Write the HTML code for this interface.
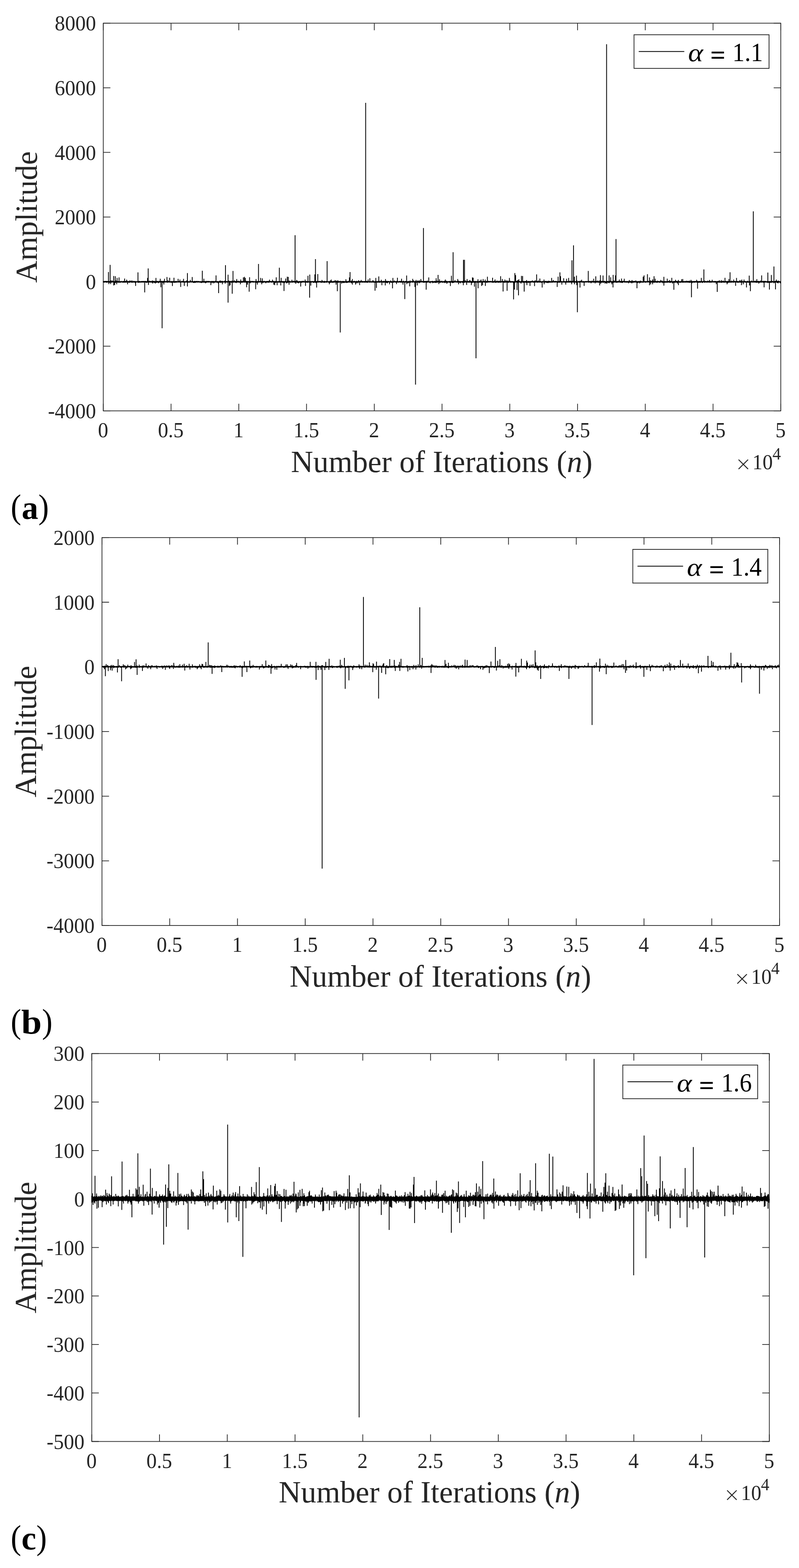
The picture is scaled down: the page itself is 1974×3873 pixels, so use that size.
<!DOCTYPE html>
<html lang="en">
<head>
<meta charset="utf-8">
<title>Figure: alpha-stable noise amplitude versus number of iterations</title>
<style>
html,body{margin:0;padding:0;background:#fff;}
body{width:1974px;height:3873px;}
svg{display:block;}
text{font-family:"Liberation Serif","DejaVu Serif",serif;fill:#262626;}
.tick{font-size:50.4px;}
.lab{font-size:76px;}
.leg{font-size:62.5px;fill:#000;}
.sub{font-family:"Liberation Serif","DejaVu Serif",serif;font-weight:bold;font-size:82px;fill:#000;}
.par{font-weight:normal;font-size:84.7px;}
.mul{font-family:"DejaVu Sans Light","DejaVu Sans",sans-serif;font-weight:200;font-size:48.8px;}
.ax{stroke:#262626;stroke-width:1.8;fill:none;}
.sig{stroke:#000;stroke-width:2;fill:none;stroke-linejoin:round;stroke-linecap:butt;}
</style>
</head>
<body>
<svg width="1974" height="3873" viewBox="0 0 1974 3873">
<rect x="0" y="0" width="1974" height="3873" fill="#fff"/>
<g id="plot-a">
<rect class="ax" x="255.2" y="57.3" width="1673.8" height="957.5"/>
<path class="ax" d="M255.2 1014.8v-17.5M255.2 57.3v17.5M422.58 1014.8v-17.5M422.58 57.3v17.5M589.96 1014.8v-17.5M589.96 57.3v17.5M757.34 1014.8v-17.5M757.34 57.3v17.5M924.72 1014.8v-17.5M924.72 57.3v17.5M1092.1 1014.8v-17.5M1092.1 57.3v17.5M1259.48 1014.8v-17.5M1259.48 57.3v17.5M1426.86 1014.8v-17.5M1426.86 57.3v17.5M1594.24 1014.8v-17.5M1594.24 57.3v17.5M1761.62 1014.8v-17.5M1761.62 57.3v17.5M1929 1014.8v-17.5M1929 57.3v17.5M255.2 1014.8h17.5M1929 1014.8h-17.5M255.2 855.22h17.5M1929 855.22h-17.5M255.2 695.63h17.5M1929 695.63h-17.5M255.2 536.05h17.5M1929 536.05h-17.5M255.2 376.47h17.5M1929 376.47h-17.5M255.2 216.88h17.5M1929 216.88h-17.5M255.2 57.3h17.5M1929 57.3h-17.5"/>
<path class="sig" d="M255.2 696.1L255.2 695.14L255.2 696.77L256.2 695.19L256.2 696.85L257.2 695.39L257.2 696.97L258.2 695.27L258.2 697.09L259.2 694.79L259.2 696.52L260.2 695.42L260.2 696.59L261.2 695.15L261.2 696.57L262.2 694.76L262.2 697.03L263.2 695.11L263.2 697.46L264.2 695.04L264.2 697.03L265.2 695.49L265.2 696.68L266.2 695.29L266.2 696.65L267.2 695.38L267.2 696.97L268.2 694.59L268.2 696.55L269.2 695.27L269.2 696.96L270.2 695.36L270.2 696.73L271.2 695.45L271.2 697.65L272.2 695.48L272.2 697.3L273.2 695.04L273.2 697L274.2 693.58L274.2 696.92L275.2 695.5L275.2 697.2L276.2 695.2L276.2 696.78L277.2 693.37L277.2 696.74L278.2 695.21L278.2 696.68L279.2 695.12L279.2 696.62L280.2 695.41L280.2 696.72L281.2 695.39L281.2 696.54L282.2 695.7L282.2 697.83L283.2 695.27L283.2 696.77L284.2 695.3L284.2 697.52L285.2 695.14L285.2 698.34L286.2 693.53L286.2 696.98L287.2 694.98L287.2 696.69L288.2 694.55L288.2 698.43L289.2 695.48L289.2 696.94L290.2 694.7L290.2 697.1L291.2 695.5L291.2 697.07L292.2 695.29L292.2 697.25L293.2 695.65L293.2 697.24L294.2 695.73L294.2 697.13L295.2 695.57L295.2 696.75L296.2 695.67L296.2 697.4L297.2 695.59L297.2 696.94L298.2 695.63L298.2 696.94L299.2 694.75L299.2 696.95L300.2 695.72L300.2 696.61L301.2 695.47L301.2 696.55L302.2 695.29L302.2 696.56L303.2 695.36L303.2 697.46L304.2 695.66L304.2 696.47L305.2 694.73L305.2 697.35L306.2 695.09L306.2 696.87L307.2 695.68L307.2 697.26L308.2 695.28L308.2 697.33L309.2 694.87L309.2 696.97L310.2 694.87L310.2 696.68L311.2 695.14L311.2 697.24L312.2 694.99L312.2 697.32L313.2 695.6L313.2 696.6L314.2 694.66L314.2 696.81L315.2 695.59L315.2 697.82L316.2 695.24L316.2 696.72L317.2 695.38L317.2 697.27L318.2 695.56L318.2 696.76L319.2 695.04L319.2 697.19L320.2 694.91L320.2 697.87L321.2 693.36L321.2 696.69L322.2 695.32L322.2 696.5L323.2 695.74L323.2 696.81L324.2 694.51L324.2 696.49L325.2 694.75L325.2 697.38L326.2 693.49L326.2 697.02L327.2 695.25L327.2 697.32L328.2 695.69L328.2 696.59L329.2 695.45L329.2 697.27L330.2 694.56L330.2 696.96L331.2 695.45L331.2 696.61L332.2 695.52L332.2 696.58L333.2 695.03L333.2 697.39L334.2 695L334.2 698.76L335.2 695.57L335.2 696.65L336.2 695.66L336.2 696.55L337.2 695.55L337.2 696.81L338.2 695.46L338.2 696.76L339.2 695.63L339.2 696.49L340.2 695.44L340.2 696.87L341.2 695.27L341.2 697.47L342.2 695.38L342.2 697.45L343.2 694.82L343.2 696.57L344.2 695.08L344.2 697.67L345.2 695.15L345.2 696.6L346.2 695.41L346.2 696.68L347.2 695.56L347.2 696.88L348.2 695.73L348.2 697.18L349.2 695.23L349.2 696.94L350.2 695.39L350.2 696.66L351.2 694.82L351.2 696.49L352.2 695.39L352.2 696.8L353.2 695.33L353.2 697.29L354.2 695.42L354.2 696.89L355.2 694.85L355.2 696.69L356.2 695.19L356.2 696.62L357.2 695.69L357.2 697.08L358.2 695.13L358.2 696.63L359.2 694.74L359.2 696.81L360.2 695.39L360.2 696.52L361.2 695.68L361.2 697.66L362.2 695.19L362.2 697.53L363.2 695.65L363.2 696.63L364.2 695.19L364.2 697.37L365.2 695.52L365.2 696.67L366.2 695.68L366.2 697.32L367.2 695.13L367.2 697.14L368.2 695L368.2 696.86L369.2 694.22L369.2 696.82L370.2 695.12L370.2 696.89L371.2 694.84L371.2 696.47L372.2 695.41L372.2 697.04L373.2 695.42L373.2 696.95L374.2 695.36L374.2 696.74L375.2 695.23L375.2 697.25L376.2 693.59L376.2 697.2L377.2 694.46L377.2 699.46L378.2 695.07L378.2 697.1L379.2 694.73L379.2 696.48L380.2 695.7L380.2 696.52L381.2 694.82L381.2 698.53L382.2 695.11L382.2 697.26L383.2 695.69L383.2 696.56L384.2 694.99L384.2 699.4L385.2 695.29L385.2 696.66L386.2 695.37L386.2 697.18L387.2 694.72L387.2 697.49L388.2 695.25L388.2 696.7L389.2 694.89L389.2 696.95L390.2 695.24L390.2 696.45L391.2 695.45L391.2 698.76L392.2 695.61L392.2 697.31L393.2 694.5L393.2 697.14L394.2 695.43L394.2 696.49L395.2 695.58L395.2 696.88L396.2 695.15L396.2 696.8L397.2 695.31L397.2 696.9L398.2 694.59L398.2 696.75L399.2 694.84L399.2 696.49L400.2 695.35L400.2 697.09L401.2 695.03L401.2 697.27L402.2 695.73L402.2 697.36L403.2 694.85L403.2 697.7L404.2 694.56L404.2 697.09L405.2 695.69L405.2 697.07L406.2 695.58L406.2 696.63L407.2 694.65L407.2 696.72L408.2 695.68L408.2 696.72L409.2 695.68L409.2 696.57L410.2 695.06L410.2 696.82L411.2 695.64L411.2 696.81L412.2 695.05L412.2 696.64L413.2 695.6L413.2 697.06L414.2 695.69L414.2 697.42L415.2 693.14L415.2 696.49L416.2 694.95L416.2 697.01L417.2 695.48L417.2 696.51L418.2 695.48L418.2 696.74L419.2 695.65L419.2 697.09L420.2 695.69L420.2 696.87L421.2 695.51L421.2 696.9L422.2 695.33L422.2 696.85L423.2 695.25L423.2 697.89L424.2 695.66L424.2 696.89L425.2 694.88L425.2 696.79L426.2 695.57L426.2 698L427.2 695.64L427.2 697.19L428.2 695.25L428.2 696.74L429.2 694.74L429.2 696.64L430.2 695.58L430.2 697.91L431.2 695.61L431.2 696.98L432.2 695.2L432.2 696.68L433.2 695.38L433.2 697.64L434.2 695.32L434.2 697.04L435.2 694.9L435.2 696.71L436.2 695.23L436.2 697.22L437.2 695.61L437.2 696.73L438.2 695.47L438.2 697.01L439.2 695.57L439.2 696.51L440.2 694.87L440.2 696.58L441.2 695.55L441.2 696.98L442.2 695.03L442.2 696.81L443.2 695.3L443.2 696.64L444.2 695.09L444.2 696.67L445.2 695.51L445.2 696.92L446.2 695.56L446.2 697.05L447.2 695.44L447.2 696.61L448.2 695.3L448.2 696.81L449.2 695.12L449.2 696.83L450.2 695.17L450.2 696.86L451.2 695.15L451.2 696.47L452.2 694.52L452.2 697.02L453.2 695.19L453.2 697.07L454.2 695.56L454.2 696.79L455.2 695.63L455.2 696.59L456.2 695.7L456.2 696.83L457.2 695.2L457.2 696.94L458.2 695.73L458.2 697.15L459.2 695.66L459.2 696.58L460.2 695.55L460.2 696.84L461.2 693.56L461.2 696.64L462.2 695.66L462.2 697.26L463.2 694.74L463.2 697.86L464.2 695.68L464.2 697.36L465.2 695.34L465.2 696.7L466.2 695.5L466.2 696.78L467.2 695.69L467.2 697.41L468.2 695.72L468.2 696.89L469.2 695.27L469.2 696.85L470.2 692.21L470.2 696.53L471.2 695.57L471.2 696.7L472.2 695.63L472.2 696.68L473.2 695.25L473.2 696.85L474.2 695.45L474.2 696.58L475.2 695.2L475.2 696.68L476.2 695.21L476.2 697.08L477.2 695.3L477.2 697.17L478.2 695.49L478.2 697.72L479.2 695.51L479.2 698.14L480.2 694.94L480.2 696.89L481.2 694.7L481.2 696.95L482.2 695.66L482.2 698.12L483.2 695.1L483.2 696.52L484.2 695.63L484.2 697.09L485.2 694.96L485.2 696.53L486.2 695.26L486.2 697.07L487.2 694.6L487.2 696.49L488.2 695.71L488.2 696.81L489.2 695.59L489.2 697.37L490.2 695.09L490.2 696.57L491.2 694.76L491.2 696.56L492.2 695.74L492.2 696.96L493.2 695.46L493.2 696.64L494.2 695.69L494.2 697.5L495.2 695.48L495.2 697.04L496.2 695.3L496.2 696.59L497.2 695.5L497.2 698.3L498.2 695.46L498.2 696.94L499.2 695.69L499.2 697.76L500.2 694.7L500.2 696.69L501.2 695.55L501.2 696.83L502.2 695.37L502.2 697.47L503.2 695.25L503.2 696.54L504.2 695.11L504.2 696.95L505.2 695.23L505.2 697.43L506.2 695.68L506.2 697.4L507.2 695.4L507.2 696.93L508.2 694.97L508.2 698.9L509.2 695.61L509.2 697.24L510.2 695.24L510.2 697.25L511.2 694.55L511.2 696.57L512.2 695.4L512.2 697.01L513.2 695.53L513.2 696.68L514.2 694.81L514.2 696.6L515.2 695.56L515.2 697.05L516.2 694.73L516.2 696.88L517.2 695.63L517.2 696.55L518.2 695.36L518.2 696.65L519.2 695.29L519.2 696.74L520.2 695.61L520.2 696.84L521.2 695.55L521.2 697.64L522.2 694.88L522.2 696.63L523.2 695.62L523.2 696.58L524.2 695.15L524.2 698.77L525.2 695.44L525.2 696.47L526.2 694.88L526.2 696.57L527.2 694.95L527.2 697.26L528.2 695.61L528.2 699.19L529.2 695.5L529.2 696.64L530.2 695.51L530.2 696.77L531.2 694.62L531.2 697.25L532.2 694.89L532.2 696.49L533.2 695.72L533.2 696.63L534.2 695.59L534.2 697.18L535.2 695.34L535.2 697.11L536.2 695.49L536.2 696.61L537.2 695.27L537.2 697.38L538.2 695.08L538.2 697.64L539.2 695.72L539.2 699.42L540.2 695.59L540.2 696.92L541.2 695.62L541.2 696.76L542.2 695.4L542.2 697.43L543.2 693.69L543.2 696.56L544.2 695.26L544.2 697.05L545.2 693.96L545.2 698.01L546.2 695.61L546.2 697.24L547.2 695.22L547.2 696.65L548.2 694.78L548.2 696.95L549.2 694.58L549.2 697.06L550.2 695.74L550.2 696.88L551.2 695.42L551.2 696.94L552.2 695.56L552.2 696.79L553.2 695.71L553.2 696.46L554.2 695.54L554.2 696.59L555.2 694.14L555.2 696.77L556.2 695.31L556.2 699.71L557.2 694.83L557.2 696.9L558.2 695.38L558.2 696.56L559.2 695.34L559.2 696.95L560.2 695.29L560.2 696.61L561.2 695.39L561.2 696.91L562.2 695.51L562.2 696.8L563.2 695.1L563.2 696.57L564.2 694.99L564.2 696.83L565.2 693.68L565.2 696.47L566.2 694.88L566.2 696.62L567.2 695.11L567.2 696.84L568.2 694.93L568.2 696.85L569.2 695.51L569.2 696.71L570.2 694.97L570.2 696.83L571.2 695.51L571.2 696.61L572.2 695.55L572.2 697.81L573.2 694.03L573.2 696.49L574.2 695.64L574.2 696.5L575.2 695.42L575.2 696.89L576.2 695.74L576.2 696.47L577.2 695.04L577.2 697.57L578.2 694.57L578.2 696.83L579.2 693.2L579.2 696.5L580.2 694.87L580.2 696.97L581.2 695.73L581.2 696.95L582.2 695.11L582.2 696.94L583.2 694.72L583.2 698.59L584.2 695.72L584.2 697.19L585.2 695.25L585.2 697.02L586.2 694.91L586.2 696.72L587.2 694.99L587.2 696.99L588.2 695.1L588.2 696.75L589.2 695.07L589.2 696.88L590.2 694.39L590.2 696.92L591.2 695.52L591.2 697.12L592.2 695.49L592.2 697.34L593.2 695.29L593.2 697.03L594.2 694.92L594.2 696.7L595.2 695.4L595.2 697.09L596.2 695.11L596.2 696.98L597.2 695.58L597.2 697.68L598.2 695.06L598.2 697.62L599.2 695.18L599.2 696.48L600.2 695.19L600.2 696.95L601.2 694.44L601.2 696.53L602.2 695.17L602.2 697.07L603.2 695.29L603.2 696.84L604.2 695.65L604.2 697.01L605.2 694.53L605.2 697.07L606.2 695.59L606.2 696.81L607.2 694.3L607.2 696.66L608.2 695.38L608.2 697.46L609.2 695.06L609.2 697.21L610.2 695.01L610.2 696.82L611.2 695.58L611.2 696.58L612.2 695.11L612.2 697.25L613.2 695.29L613.2 696.85L614.2 695.67L614.2 696.79L615.2 695.23L615.2 697.03L616.2 695.74L616.2 697.08L617.2 695.65L617.2 696.76L618.2 695.67L618.2 699.09L619.2 694.53L619.2 696.94L620.2 695.46L620.2 696.81L621.2 695.56L621.2 696.77L622.2 694.77L622.2 696.52L623.2 695.49L623.2 696.72L624.2 694.8L624.2 696.77L625.2 695.6L625.2 696.6L626.2 694.99L626.2 697.14L627.2 695.68L627.2 697.03L628.2 695.66L628.2 696.54L629.2 695.7L629.2 696.7L630.2 695.07L630.2 696.76L631.2 695.66L631.2 696.96L632.2 695.73L632.2 696.66L633.2 694.46L633.2 697.59L634.2 695.58L634.2 697.69L635.2 695.19L635.2 696.82L636.2 695.29L636.2 696.82L637.2 695.04L637.2 696.68L638.2 694.71L638.2 697.47L639.2 695.71L639.2 696.68L640.2 695.2L640.2 696.57L641.2 695.64L641.2 696.81L642.2 695.08L642.2 696.88L643.2 695L643.2 696.69L644.2 695.3L644.2 696.58L645.2 695.17L645.2 696.9L646.2 695.49L646.2 697.02L647.2 694.8L647.2 696.46L648.2 695.65L648.2 697.92L649.2 694.9L649.2 697.2L650.2 695.69L650.2 697.51L651.2 695.62L651.2 697.34L652.2 694.56L652.2 696.64L653.2 695.34L653.2 696.68L654.2 695.41L654.2 696.53L655.2 695.41L655.2 697.03L656.2 695.27L656.2 696.45L657.2 695.65L657.2 697.53L658.2 695.15L658.2 696.97L659.2 695.05L659.2 696.52L660.2 695.58L660.2 696.66L661.2 694.83L661.2 697.32L662.2 695.2L662.2 696.46L663.2 694.92L663.2 697.38L664.2 695.17L664.2 697.04L665.2 694.48L665.2 696.72L666.2 694.91L666.2 697.04L667.2 695.45L667.2 696.46L668.2 695.25L668.2 696.46L669.2 694.77L669.2 696.48L670.2 695.59L670.2 696.91L671.2 695.66L671.2 697.04L672.2 695.14L672.2 696.98L673.2 695.44L673.2 696.54L674.2 695.42L674.2 696.59L675.2 694.82L675.2 696.56L676.2 694.88L676.2 696.93L677.2 695.52L677.2 696.94L678.2 695.57L678.2 697.03L679.2 695.16L679.2 697.39L680.2 695.4L680.2 696.88L681.2 695.66L681.2 697.96L682.2 694.74L682.2 697.19L683.2 695.38L683.2 696.58L684.2 695.64L684.2 696.59L685.2 695.24L685.2 696.61L686.2 695.34L686.2 696.8L687.2 695.73L687.2 697.06L688.2 695.58L688.2 696.91L689.2 695.26L689.2 697.33L690.2 694.9L690.2 697.01L691.2 695.42L691.2 696.99L692.2 695.2L692.2 696.76L693.2 695.11L693.2 696.74L694.2 694.94L694.2 696.75L695.2 694.86L695.2 696.87L696.2 695.41L696.2 697.11L697.2 695.17L697.2 696.8L698.2 695.23L698.2 697.55L699.2 695.65L699.2 697.83L700.2 694.98L700.2 696.97L701.2 695.66L701.2 697.05L702.2 695.72L702.2 699.21L703.2 695.64L703.2 696.9L704.2 694.53L704.2 697.01L705.2 695.6L705.2 696.7L706.2 695.3L706.2 696.84L707.2 695.57L707.2 697.27L708.2 695.55L708.2 699.22L709.2 695.17L709.2 697L710.2 695.33L710.2 697.78L711.2 695.3L711.2 696.71L712.2 695.01L712.2 697.36L713.2 695.65L713.2 697.38L714.2 694.04L714.2 696.5L715.2 694.71L715.2 696.6L716.2 695.12L716.2 696.74L717.2 695.63L717.2 697.49L718.2 695.61L718.2 696.7L719.2 695.65L719.2 696.58L720.2 695.61L720.2 697.05L721.2 695.64L721.2 696.7L722.2 695.29L722.2 697.35L723.2 695.21L723.2 696.93L724.2 694.9L724.2 696.54L725.2 694.45L725.2 696.82L726.2 695.28L726.2 696.55L727.2 694.81L727.2 696.91L728.2 695.3L728.2 697.36L729.2 695.45L729.2 697.41L730.2 695L730.2 696.56L731.2 694.74L731.2 696.89L732.2 695.54L732.2 696.54L733.2 694.57L733.2 697.23L734.2 694.02L734.2 697.51L735.2 695.35L735.2 696.81L736.2 695.75L736.2 698.23L737.2 695.26L737.2 696.71L738.2 695.6L738.2 698.89L739.2 695.42L739.2 697.36L740.2 695.08L740.2 696.5L741.2 695.4L741.2 696.99L742.2 695.1L742.2 696.55L743.2 695.56L743.2 696.54L744.2 695.74L744.2 697.83L745.2 694.79L745.2 697.3L746.2 695.63L746.2 696.92L747.2 694.83L747.2 697.09L748.2 695.37L748.2 696.55L749.2 694.5L749.2 696.48L750.2 695.18L750.2 696.92L751.2 695.53L751.2 696.76L752.2 695.66L752.2 696.64L753.2 695.16L753.2 697.02L754.2 695.46L754.2 696.76L755.2 695.21L755.2 697.41L756.2 695.38L756.2 697.03L757.2 695.07L757.2 696.98L758.2 695.23L758.2 696.57L759.2 695.74L759.2 697.66L760.2 695.29L760.2 696.91L761.2 695.08L761.2 697.31L762.2 695.33L762.2 696.69L763.2 695.63L763.2 696.9L764.2 695.72L764.2 696.52L765.2 695.08L765.2 696.64L766.2 694.86L766.2 696.71L767.2 695.23L767.2 697.03L768.2 695.72L768.2 696.56L769.2 694.85L769.2 697.05L770.2 695.74L770.2 696.47L771.2 695.74L771.2 696.54L772.2 694.8L772.2 696.53L773.2 695.6L773.2 696.9L774.2 695.43L774.2 697.69L775.2 695.64L775.2 696.72L776.2 695.06L776.2 697.8L777.2 695.39L777.2 696.63L778.2 695.53L778.2 696.88L779.2 695.01L779.2 696.68L780.2 695.02L780.2 698.49L781.2 695.34L781.2 696.64L782.2 695.21L782.2 697.08L783.2 694.89L783.2 697.76L784.2 695.47L784.2 696.59L785.2 695.19L785.2 696.71L786.2 695.69L786.2 697.11L787.2 695.04L787.2 696.83L788.2 695.17L788.2 696.86L789.2 695.52L789.2 696.47L790.2 695.15L790.2 696.74L791.2 694.92L791.2 696.54L792.2 695.19L792.2 696.69L793.2 695.5L793.2 697.83L794.2 695.74L794.2 696.94L795.2 695.46L795.2 696.78L796.2 694.52L796.2 697.39L797.2 695.07L797.2 696.57L798.2 695.65L798.2 697.03L799.2 695.21L799.2 696.56L800.2 695.71L800.2 697.7L801.2 695.25L801.2 696.83L802.2 694.45L802.2 697.74L803.2 695.66L803.2 696.67L804.2 695.53L804.2 696.57L805.2 695.66L805.2 696.91L806.2 695.04L806.2 697.5L807.2 695.62L807.2 696.55L808.2 695.58L808.2 696.83L809.2 695.49L809.2 696.52L810.2 695.55L810.2 696.78L811.2 695.41L811.2 696.69L812.2 695.7L812.2 697.32L813.2 695.49L813.2 698.64L814.2 695.44L814.2 696.6L815.2 694.73L815.2 697.72L816.2 693.39L816.2 696.7L817.2 695L817.2 697.69L818.2 695.59L818.2 697.33L819.2 695.03L819.2 696.75L820.2 695.41L820.2 697.13L821.2 695.42L821.2 697.83L822.2 695.7L822.2 696.89L823.2 695.69L823.2 697.29L824.2 694.57L824.2 697.22L825.2 695.17L825.2 697.28L826.2 695.45L826.2 696.76L827.2 695.74L827.2 696.89L828.2 695.19L828.2 696.65L829.2 695.71L829.2 697.28L830.2 694.04L830.2 697.04L831.2 695.16L831.2 697.53L832.2 694.41L832.2 696.67L833.2 695.41L833.2 696.67L834.2 695.27L834.2 697.29L835.2 695.11L835.2 697.39L836.2 695.48L836.2 697.2L837.2 695.25L837.2 696.98L838.2 695.2L838.2 696.81L839.2 695.27L839.2 696.75L840.2 695.53L840.2 696.88L841.2 694.39L841.2 696.69L842.2 695.74L842.2 696.84L843.2 695.53L843.2 696.56L844.2 695.24L844.2 699.9L845.2 694.75L845.2 696.9L846.2 695.58L846.2 696.63L847.2 695.21L847.2 697.93L848.2 694.92L848.2 697.53L849.2 694.98L849.2 696.46L850.2 695.37L850.2 696.65L851.2 695.25L851.2 697.22L852.2 695.52L852.2 696.47L853.2 695.6L853.2 697.36L854.2 695.31L854.2 697.71L855.2 694.82L855.2 697.52L856.2 694.78L856.2 696.92L857.2 695.73L857.2 698.29L858.2 695.56L858.2 696.54L859.2 695.33L859.2 697.1L860.2 694.82L860.2 697.14L861.2 694.8L861.2 696.83L862.2 694.63L862.2 697.02L863.2 695.74L863.2 697.07L864.2 695L864.2 696.96L865.2 695.66L865.2 696.73L866.2 695.51L866.2 696.47L867.2 695.67L867.2 697.5L868.2 693.84L868.2 698.76L869.2 695.48L869.2 697.22L870.2 695.59L870.2 697.48L871.2 695.72L871.2 696.7L872.2 695.27L872.2 696.93L873.2 695.5L873.2 696.97L874.2 695.27L874.2 697.5L875.2 694.48L875.2 696.81L876.2 695.71L876.2 697.09L877.2 695.09L877.2 696.46L878.2 695.27L878.2 696.46L879.2 695.47L879.2 696.49L880.2 695.44L880.2 699.16L881.2 694.45L881.2 696.62L882.2 695.2L882.2 696.88L883.2 695.61L883.2 696.76L884.2 695.51L884.2 698.97L885.2 694.64L885.2 696.72L886.2 693.07L886.2 696.55L887.2 695.65L887.2 696.85L888.2 695.09L888.2 698.11L889.2 695.5L889.2 696.71L890.2 695.27L890.2 696.72L891.2 694.71L891.2 696.91L892.2 694.75L892.2 697.17L893.2 695.05L893.2 696.54L894.2 695.49L894.2 696.72L895.2 695.17L895.2 696.83L896.2 695.29L896.2 697.46L897.2 694.96L897.2 696.67L898.2 695.63L898.2 696.73L899.2 695.72L899.2 696.78L900.2 694.98L900.2 697.36L901.2 695.65L901.2 696.98L902.2 695.4L902.2 696.88L903.2 693.31L903.2 697.01L904.2 695.43L904.2 697.02L905.2 695.52L905.2 696.55L906.2 694.57L906.2 697.26L907.2 695.48L907.2 697.87L908.2 695.56L908.2 696.57L909.2 694.81L909.2 696.94L910.2 695.51L910.2 696.55L911.2 695.44L911.2 696.62L912.2 695.68L912.2 696.91L913.2 695.68L913.2 697.04L914.2 695.38L914.2 697.01L915.2 695.64L915.2 696.66L916.2 695.6L916.2 696.98L917.2 695.44L917.2 696.54L918.2 695.55L918.2 697.15L919.2 695.38L919.2 696.53L920.2 695.7L920.2 697.11L921.2 693.05L921.2 696.56L922.2 693.94L922.2 697.2L923.2 695.39L923.2 696.97L924.2 695.43L924.2 697.22L925.2 695.7L925.2 697.11L926.2 695.54L926.2 697.27L927.2 695.32L927.2 696.98L928.2 694.96L928.2 697.58L929.2 695.03L929.2 696.67L930.2 695.33L930.2 696.61L931.2 695.37L931.2 696.61L932.2 695.39L932.2 696.83L933.2 695.43L933.2 697.62L934.2 695.65L934.2 697.12L935.2 694.88L935.2 696.95L936.2 692.96L936.2 696.69L937.2 695.16L937.2 697.21L938.2 695.28L938.2 697.5L939.2 695.57L939.2 697.15L940.2 695.11L940.2 696.83L941.2 695.64L941.2 696.71L942.2 695.51L942.2 696.85L943.2 695.11L943.2 696.84L944.2 695.33L944.2 697.37L945.2 695.2L945.2 696.87L946.2 695.38L946.2 696.77L947.2 695.55L947.2 697.27L948.2 694.61L948.2 697.8L949.2 695.11L949.2 696.66L950.2 695.7L950.2 696.46L951.2 694.85L951.2 697.01L952.2 695.39L952.2 697.2L953.2 694.89L953.2 697.48L954.2 694.71L954.2 697.01L955.2 694.82L955.2 698.32L956.2 694.65L956.2 696.7L957.2 695.55L957.2 698.72L958.2 695.12L958.2 696.89L959.2 695.06L959.2 696.48L960.2 695.1L960.2 696.71L961.2 695.33L961.2 696.49L962.2 695.53L962.2 696.73L963.2 695.58L963.2 696.73L964.2 694.97L964.2 697.15L965.2 693.44L965.2 697.11L966.2 695.66L966.2 696.98L967.2 695.18L967.2 697.82L968.2 695.49L968.2 696.64L969.2 695.61L969.2 696.79L970.2 695.34L970.2 696.79L971.2 695.45L971.2 696.49L972.2 695.44L972.2 697.45L973.2 695.65L973.2 696.56L974.2 693.44L974.2 696.8L975.2 695.55L975.2 696.6L976.2 695.67L976.2 696.61L977.2 695.14L977.2 697.31L978.2 695.65L978.2 697.03L979.2 695.47L979.2 697.28L980.2 694.68L980.2 697.24L981.2 695.21L981.2 697.26L982.2 694.76L982.2 696.81L983.2 695.49L983.2 696.48L984.2 695.69L984.2 696.86L985.2 695.59L985.2 697.4L986.2 694.98L986.2 696.57L987.2 694.87L987.2 696.62L988.2 695.35L988.2 696.51L989.2 695.1L989.2 697.25L990.2 694.99L990.2 697.03L991.2 694.63L991.2 697.26L992.2 693.74L992.2 697.27L993.2 695.39L993.2 696.55L994.2 695.41L994.2 696.76L995.2 695.69L995.2 698.7L996.2 694.4L996.2 696.86L997.2 694.5L997.2 696.78L998.2 695.67L998.2 696.95L999.2 695.61L999.2 696.65L1000.2 695.41L1000.2 697.2L1001.2 695.6L1001.2 696.85L1002.2 694.79L1002.2 696.78L1003.2 695.7L1003.2 697.11L1004.2 695.26L1004.2 696.7L1005.2 695.16L1005.2 696.65L1006.2 695.71L1006.2 696.75L1007.2 695.66L1007.2 697.46L1008.2 695.2L1008.2 698.97L1009.2 695.25L1009.2 696.77L1010.2 695.34L1010.2 696.94L1011.2 695.55L1011.2 697.26L1012.2 695.47L1012.2 697.38L1013.2 693.53L1013.2 697.08L1014.2 695.57L1014.2 697.62L1015.2 695.53L1015.2 696.68L1016.2 695.39L1016.2 696.46L1017.2 695.46L1017.2 696.49L1018.2 694.5L1018.2 697.01L1019.2 695.02L1019.2 696.96L1020.2 695.05L1020.2 696.99L1021.2 695.25L1021.2 696.76L1022.2 693.33L1022.2 696.51L1023.2 695.5L1023.2 696.58L1024.2 695.4L1024.2 697.5L1025.2 695.37L1025.2 696.52L1026.2 695.25L1026.2 696.57L1027.2 694.71L1027.2 697.04L1028.2 695.54L1028.2 696.83L1029.2 695.66L1029.2 697.22L1030.2 695.52L1030.2 698.95L1031.2 694.84L1031.2 696.58L1032.2 693.57L1032.2 696.86L1033.2 695.44L1033.2 696.77L1034.2 695.22L1034.2 696.97L1035.2 694.44L1035.2 698.9L1036.2 693.24L1036.2 697.7L1037.2 695.34L1037.2 696.81L1038.2 695.55L1038.2 696.98L1039.2 694.15L1039.2 696.85L1040.2 695.6L1040.2 696.59L1041.2 694.52L1041.2 696.7L1042.2 695.51L1042.2 696.61L1043.2 694.95L1043.2 696.5L1044.2 695.03L1044.2 696.83L1045.2 695.43L1045.2 697.13L1046.2 695.67L1046.2 697.12L1047.2 695.23L1047.2 697.68L1048.2 694.92L1048.2 696.91L1049.2 695.17L1049.2 697.15L1050.2 695.09L1050.2 696.9L1051.2 695.27L1051.2 696.66L1052.2 694.77L1052.2 696.62L1053.2 694.96L1053.2 696.96L1054.2 694.91L1054.2 697.53L1055.2 695.44L1055.2 696.64L1056.2 694.03L1056.2 697.37L1057.2 695.3L1057.2 696.61L1058.2 695.61L1058.2 696.53L1059.2 695.47L1059.2 696.48L1060.2 695.73L1060.2 697.33L1061.2 695.7L1061.2 697.29L1062.2 695.63L1062.2 696.49L1063.2 695.61L1063.2 696.54L1064.2 695.1L1064.2 696.46L1065.2 695.54L1065.2 696.71L1066.2 695.57L1066.2 696.86L1067.2 695.35L1067.2 696.49L1068.2 694.55L1068.2 696.79L1069.2 695.29L1069.2 698.76L1070.2 695.26L1070.2 696.75L1071.2 695.6L1071.2 697.36L1072.2 695.44L1072.2 697.26L1073.2 695.31L1073.2 697.56L1074.2 694.8L1074.2 697.37L1075.2 695.21L1075.2 696.95L1076.2 695.27L1076.2 697.66L1077.2 694.77L1077.2 698.18L1078.2 694.85L1078.2 696.63L1079.2 694.14L1079.2 696.96L1080.2 695.21L1080.2 697.31L1081.2 695.13L1081.2 697.02L1082.2 694.95L1082.2 696.62L1083.2 695.28L1083.2 696.51L1084.2 694.9L1084.2 696.79L1085.2 695.32L1085.2 697.31L1086.2 695.62L1086.2 696.61L1087.2 695.51L1087.2 697.94L1088.2 695.35L1088.2 696.74L1089.2 694.61L1089.2 696.99L1090.2 695.59L1090.2 696.72L1091.2 694.96L1091.2 696.54L1092.2 694.39L1092.2 697.11L1093.2 695.58L1093.2 697.24L1094.2 695.72L1094.2 697.59L1095.2 695.66L1095.2 696.76L1096.2 695.17L1096.2 696.8L1097.2 695.23L1097.2 697.32L1098.2 694.45L1098.2 696.95L1099.2 695.52L1099.2 698.56L1100.2 695.47L1100.2 696.54L1101.2 694.31L1101.2 696.9L1102.2 695.51L1102.2 697.48L1103.2 694.53L1103.2 696.68L1104.2 695.15L1104.2 697.26L1105.2 695.5L1105.2 696.99L1106.2 695.28L1106.2 697.54L1107.2 695.53L1107.2 696.48L1108.2 695.6L1108.2 696.67L1109.2 695.09L1109.2 696.94L1110.2 695.75L1110.2 697L1111.2 695.01L1111.2 697.67L1112.2 695.48L1112.2 696.81L1113.2 695.39L1113.2 697.42L1114.2 695.11L1114.2 696.74L1115.2 695.69L1115.2 696.9L1116.2 695.41L1116.2 697.41L1117.2 694.85L1117.2 697.25L1118.2 694.91L1118.2 698.54L1119.2 695.67L1119.2 696.87L1120.2 695.28L1120.2 697.85L1121.2 695.52L1121.2 697.28L1122.2 694.93L1122.2 696.99L1123.2 695.16L1123.2 696.58L1124.2 692.82L1124.2 696.79L1125.2 695.02L1125.2 696.71L1126.2 695.68L1126.2 696.5L1127.2 695.49L1127.2 696.83L1128.2 695.39L1128.2 696.64L1129.2 695.04L1129.2 697.18L1130.2 695.74L1130.2 697.3L1131.2 695.49L1131.2 696.45L1132.2 694.77L1132.2 696.67L1133.2 694.27L1133.2 697.13L1134.2 695.58L1134.2 697.13L1135.2 695L1135.2 697.3L1136.2 695.73L1136.2 696.63L1137.2 695.59L1137.2 698.96L1138.2 695.09L1138.2 696.83L1139.2 695.53L1139.2 696.63L1140.2 695.57L1140.2 696.46L1141.2 695.74L1141.2 697.23L1142.2 694.96L1142.2 696.54L1143.2 695.08L1143.2 697.76L1144.2 695.54L1144.2 696.74L1145.2 695.65L1145.2 696.79L1146.2 695.42L1146.2 697.09L1147.2 692.84L1147.2 697.68L1148.2 695.68L1148.2 697.17L1149.2 695.12L1149.2 696.65L1150.2 693.25L1150.2 696.75L1151.2 695.65L1151.2 696.76L1152.2 695.59L1152.2 696.78L1153.2 694.79L1153.2 696.71L1154.2 693.41L1154.2 696.93L1155.2 695.35L1155.2 696.69L1156.2 695.19L1156.2 697.05L1157.2 695.61L1157.2 697.3L1158.2 695.11L1158.2 697.09L1159.2 694.73L1159.2 697.01L1160.2 693.64L1160.2 697.03L1161.2 692.56L1161.2 697.56L1162.2 695.18L1162.2 696.64L1163.2 695.51L1163.2 696.67L1164.2 695.15L1164.2 696.74L1165.2 695.61L1165.2 696.51L1166.2 694.99L1166.2 698.55L1167.2 695.5L1167.2 696.68L1168.2 695.24L1168.2 696.88L1169.2 695.61L1169.2 697.21L1170.2 695.36L1170.2 697.12L1171.2 695.05L1171.2 696.93L1172.2 695.52L1172.2 697.51L1173.2 694.98L1173.2 697.96L1174.2 695.63L1174.2 696.88L1175.2 694.99L1175.2 696.5L1176.2 695.23L1176.2 696.93L1177.2 695.66L1177.2 696.73L1178.2 695.54L1178.2 696.69L1179.2 695.01L1179.2 696.72L1180.2 695.56L1180.2 698.52L1181.2 695.34L1181.2 697.32L1182.2 695.48L1182.2 697.19L1183.2 695.37L1183.2 696.72L1184.2 695.16L1184.2 697.04L1185.2 694.93L1185.2 696.88L1186.2 694.12L1186.2 697.39L1187.2 694.24L1187.2 696.67L1188.2 694.81L1188.2 696.77L1189.2 695L1189.2 696.93L1190.2 695.14L1190.2 696.81L1191.2 695.3L1191.2 696.52L1192.2 695.47L1192.2 696.49L1193.2 695.27L1193.2 697.18L1194.2 694.75L1194.2 696.48L1195.2 695.68L1195.2 696.47L1196.2 694.87L1196.2 696.76L1197.2 695.62L1197.2 697.05L1198.2 694.74L1198.2 696.9L1199.2 695.59L1199.2 696.91L1200.2 695.54L1200.2 696.65L1201.2 694.94L1201.2 696.62L1202.2 694.81L1202.2 698.01L1203.2 695.13L1203.2 697.03L1204.2 695.07L1204.2 696.66L1205.2 695.68L1205.2 697.18L1206.2 694.48L1206.2 696.64L1207.2 695.04L1207.2 696.48L1208.2 695.69L1208.2 696.98L1209.2 694.8L1209.2 696.47L1210.2 695.48L1210.2 696.7L1211.2 695.17L1211.2 696.59L1212.2 695.57L1212.2 696.55L1213.2 694.64L1213.2 696.78L1214.2 695.53L1214.2 696.87L1215.2 695.68L1215.2 696.48L1216.2 695.62L1216.2 696.93L1217.2 695.67L1217.2 697.3L1218.2 695.31L1218.2 697.78L1219.2 695.33L1219.2 696.87L1220.2 695.13L1220.2 696.57L1221.2 694.95L1221.2 696.97L1222.2 693.83L1222.2 696.9L1223.2 695.07L1223.2 697.1L1224.2 695.42L1224.2 697.37L1225.2 695.44L1225.2 697.99L1226.2 695.05L1226.2 696.69L1227.2 695.05L1227.2 696.84L1228.2 693.81L1228.2 696.8L1229.2 695.68L1229.2 697.02L1230.2 695.21L1230.2 696.89L1231.2 695.5L1231.2 697.09L1232.2 694.9L1232.2 697.74L1233.2 694.2L1233.2 696.47L1234.2 695.73L1234.2 696.63L1235.2 695.22L1235.2 697.38L1236.2 695.4L1236.2 696.72L1237.2 695.46L1237.2 697.14L1238.2 695.67L1238.2 697.29L1239.2 695.27L1239.2 696.61L1240.2 695.62L1240.2 696.45L1241.2 695.27L1241.2 696.47L1242.2 695.45L1242.2 696.9L1243.2 694.94L1243.2 696.84L1244.2 694.8L1244.2 696.71L1245.2 695.41L1245.2 697.16L1246.2 695.35L1246.2 697.66L1247.2 695.66L1247.2 696.77L1248.2 695.54L1248.2 697.32L1249.2 695.11L1249.2 696.82L1250.2 693.89L1250.2 697.14L1251.2 694.67L1251.2 696.81L1252.2 693.67L1252.2 697.35L1253.2 695.16L1253.2 696.75L1254.2 695.59L1254.2 696.79L1255.2 693.86L1255.2 697.44L1256.2 695.73L1256.2 697.75L1257.2 695.61L1257.2 696.5L1258.2 694.98L1258.2 696.46L1259.2 692.14L1259.2 696.87L1260.2 694.9L1260.2 696.65L1261.2 695.65L1261.2 697.04L1262.2 695.31L1262.2 697.39L1263.2 695.29L1263.2 696.55L1264.2 695.51L1264.2 696.96L1265.2 695.29L1265.2 696.49L1266.2 695.28L1266.2 697.04L1267.2 695.48L1267.2 697.17L1268.2 695.59L1268.2 696.95L1269.2 695.48L1269.2 696.47L1270.2 695.48L1270.2 699.33L1271.2 695.33L1271.2 696.56L1272.2 695.39L1272.2 698.03L1273.2 694.76L1273.2 696.71L1274.2 695L1274.2 696.48L1275.2 695.56L1275.2 696.65L1276.2 695.02L1276.2 696.71L1277.2 694.1L1277.2 697.46L1278.2 694.51L1278.2 698.8L1279.2 693.03L1279.2 696.75L1280.2 693.04L1280.2 696.55L1281.2 695.26L1281.2 697.19L1282.2 694.82L1282.2 696.64L1283.2 695.02L1283.2 696.52L1284.2 695.31L1284.2 697.01L1285.2 695.55L1285.2 697.29L1286.2 695.46L1286.2 696.95L1287.2 695.55L1287.2 699.77L1288.2 694.86L1288.2 696.56L1289.2 695.28L1289.2 696.77L1290.2 694.34L1290.2 696.98L1291.2 695.69L1291.2 697.12L1292.2 695.62L1292.2 696.49L1293.2 695.16L1293.2 697.67L1294.2 694.84L1294.2 696.78L1295.2 695.39L1295.2 696.94L1296.2 695.26L1296.2 697.11L1297.2 695.42L1297.2 697.14L1298.2 694.89L1298.2 697.06L1299.2 695.28L1299.2 697.54L1300.2 694.96L1300.2 697.74L1301.2 695.2L1301.2 696.72L1302.2 694.84L1302.2 696.57L1303.2 695.74L1303.2 696.97L1304.2 695.43L1304.2 697.3L1305.2 695.42L1305.2 697.93L1306.2 694.85L1306.2 696.58L1307.2 695.01L1307.2 697.43L1308.2 695.36L1308.2 696.94L1309.2 695.59L1309.2 697.26L1310.2 695.28L1310.2 697.33L1311.2 695.01L1311.2 696.9L1312.2 695.05L1312.2 696.75L1313.2 695.58L1313.2 696.95L1314.2 695.72L1314.2 696.45L1315.2 693.23L1315.2 696.62L1316.2 695.74L1316.2 696.57L1317.2 695.11L1317.2 697.21L1318.2 695.58L1318.2 697.16L1319.2 695.53L1319.2 696.54L1320.2 694.14L1320.2 696.45L1321.2 695.56L1321.2 696.8L1322.2 695.69L1322.2 696.9L1323.2 693.13L1323.2 696.78L1324.2 695.63L1324.2 696.85L1325.2 695.58L1325.2 696.6L1326.2 695.31L1326.2 696.69L1327.2 695.13L1327.2 697.4L1328.2 695.13L1328.2 696.53L1329.2 695.59L1329.2 697.23L1330.2 693.49L1330.2 696.71L1331.2 694.91L1331.2 696.5L1332.2 695.02L1332.2 697.27L1333.2 695.2L1333.2 696.72L1334.2 695.24L1334.2 696.8L1335.2 694.94L1335.2 697.04L1336.2 695.53L1336.2 696.84L1337.2 695.73L1337.2 697.66L1338.2 695.52L1338.2 696.81L1339.2 695.27L1339.2 696.98L1340.2 695.37L1340.2 696.96L1341.2 694.95L1341.2 696.46L1342.2 695.73L1342.2 696.47L1343.2 695.74L1343.2 696.7L1344.2 695.34L1344.2 698.59L1345.2 695.63L1345.2 696.72L1346.2 695.01L1346.2 697.41L1347.2 695.22L1347.2 697.16L1348.2 694.66L1348.2 696.77L1349.2 694.81L1349.2 696.48L1350.2 695.18L1350.2 697.66L1351.2 695.53L1351.2 698.11L1352.2 695.54L1352.2 697L1353.2 694.75L1353.2 697.4L1354.2 695.4L1354.2 698.4L1355.2 694.35L1355.2 697.14L1356.2 694.83L1356.2 697.01L1357.2 694.81L1357.2 697.47L1358.2 695.47L1358.2 696.47L1359.2 694.84L1359.2 697.24L1360.2 695.68L1360.2 696.53L1361.2 695.72L1361.2 697.27L1362.2 695.48L1362.2 697.29L1363.2 695.14L1363.2 696.61L1364.2 695.61L1364.2 696.91L1365.2 694.6L1365.2 696.96L1366.2 695.52L1366.2 697.3L1367.2 692.48L1367.2 696.57L1368.2 694.92L1368.2 696.54L1369.2 695.4L1369.2 696.46L1370.2 695.07L1370.2 696.94L1371.2 695.5L1371.2 696.98L1372.2 694.83L1372.2 696.8L1373.2 695.09L1373.2 696.48L1374.2 695.08L1374.2 696.45L1375.2 695.72L1375.2 696.73L1376.2 695.13L1376.2 696.71L1377.2 695.58L1377.2 696.94L1378.2 695.71L1378.2 697.53L1379.2 695.6L1379.2 697.29L1380.2 695.44L1380.2 696.73L1381.2 695.68L1381.2 697.37L1382.2 694.91L1382.2 696.69L1383.2 695.1L1383.2 697.51L1384.2 693.57L1384.2 696.6L1385.2 695.46L1385.2 697L1386.2 695.58L1386.2 696.54L1387.2 694.94L1387.2 696.7L1388.2 695.6L1388.2 697.33L1389.2 695.62L1389.2 696.79L1390.2 695.68L1390.2 696.69L1391.2 695.61L1391.2 696.94L1392.2 695.32L1392.2 696.46L1393.2 695.61L1393.2 697.13L1394.2 695.24L1394.2 696.99L1395.2 695.43L1395.2 696.56L1396.2 695.63L1396.2 697.25L1397.2 695.47L1397.2 696.58L1398.2 695.34L1398.2 697.62L1399.2 695.18L1399.2 696.65L1400.2 695.36L1400.2 697L1401.2 695.61L1401.2 697.13L1402.2 695.29L1402.2 696.62L1403.2 695.02L1403.2 696.88L1404.2 695.69L1404.2 696.98L1405.2 695.11L1405.2 696.83L1406.2 694.85L1406.2 697.15L1407.2 695.36L1407.2 696.53L1408.2 694.97L1408.2 696.99L1409.2 694.07L1409.2 697.11L1410.2 695.09L1410.2 696.72L1411.2 695.47L1411.2 697.3L1412.2 694.76L1412.2 697.1L1413.2 695.11L1413.2 697.55L1414.2 695.41L1414.2 696.96L1415.2 695.4L1415.2 696.48L1416.2 693.92L1416.2 696.52L1417.2 695.7L1417.2 697.52L1418.2 693.98L1418.2 696.51L1419.2 694.77L1419.2 696.67L1420.2 695.6L1420.2 697.26L1421.2 695.39L1421.2 696.48L1422.2 695.59L1422.2 696.47L1423.2 695.52L1423.2 697.64L1424.2 695.14L1424.2 696.5L1425.2 692.66L1425.2 697.14L1426.2 695.54L1426.2 696.92L1427.2 695.72L1427.2 696.73L1428.2 695.31L1428.2 696.49L1429.2 695.25L1429.2 696.58L1430.2 695.38L1430.2 697.19L1431.2 695.43L1431.2 696.51L1432.2 695.08L1432.2 697.18L1433.2 694.4L1433.2 696.51L1434.2 694.67L1434.2 696.52L1435.2 695.53L1435.2 696.67L1436.2 694.31L1436.2 696.52L1437.2 695.7L1437.2 696.7L1438.2 695.56L1438.2 697.17L1439.2 695.54L1439.2 696.6L1440.2 695.21L1440.2 697.02L1441.2 695.21L1441.2 697.04L1442.2 695.29L1442.2 697.12L1443.2 695.45L1443.2 696.71L1444.2 695.65L1444.2 696.79L1445.2 695.51L1445.2 697L1446.2 695.07L1446.2 696.52L1447.2 695.38L1447.2 696.78L1448.2 695.21L1448.2 696.67L1449.2 695.08L1449.2 696.48L1450.2 695.29L1450.2 696.98L1451.2 695.34L1451.2 696.55L1452.2 695.39L1452.2 696.57L1453.2 695.32L1453.2 696.61L1454.2 695.49L1454.2 697.23L1455.2 694.62L1455.2 697.42L1456.2 695.44L1456.2 696.87L1457.2 695.44L1457.2 696.75L1458.2 694.71L1458.2 696.62L1459.2 695.04L1459.2 697.34L1460.2 695.38L1460.2 699.1L1461.2 695.44L1461.2 697.41L1462.2 694.65L1462.2 696.49L1463.2 694.12L1463.2 696.72L1464.2 694.88L1464.2 696.63L1465.2 695.69L1465.2 697.31L1466.2 695.32L1466.2 696.93L1467.2 695.38L1467.2 697.07L1468.2 695.72L1468.2 696.52L1469.2 694.94L1469.2 696.77L1470.2 695.16L1470.2 699.28L1471.2 695.01L1471.2 696.78L1472.2 694.62L1472.2 696.6L1473.2 694.43L1473.2 697.13L1474.2 695.12L1474.2 696.46L1475.2 695.14L1475.2 697.54L1476.2 695.53L1476.2 696.97L1477.2 693.59L1477.2 696.56L1478.2 695.63L1478.2 696.82L1479.2 695.38L1479.2 697.76L1480.2 695.6L1480.2 696.53L1481.2 694.95L1481.2 696.89L1482.2 692.86L1482.2 696.7L1483.2 695.64L1483.2 696.79L1484.2 694.99L1484.2 699.96L1485.2 695.1L1485.2 696.92L1486.2 695.67L1486.2 696.93L1487.2 694.58L1487.2 697.14L1488.2 695.12L1488.2 696.46L1489.2 695.68L1489.2 697.16L1490.2 695.42L1490.2 697.38L1491.2 694.95L1491.2 697.48L1492.2 694.95L1492.2 696.83L1493.2 695.39L1493.2 696.59L1494.2 694.61L1494.2 696.64L1495.2 695.45L1495.2 696.86L1496.2 695.46L1496.2 696.88L1497.2 695.53L1497.2 698.75L1498.2 695.42L1498.2 697.41L1499.2 695.09L1499.2 697.18L1500.2 695.14L1500.2 697.33L1501.2 695.19L1501.2 697.07L1502.2 695.22L1502.2 697.15L1503.2 695.47L1503.2 696.56L1504.2 695.01L1504.2 698.4L1505.2 694.82L1505.2 698.6L1506.2 695.1L1506.2 696.74L1507.2 695.26L1507.2 696.55L1508.2 693.22L1508.2 696.53L1509.2 695.03L1509.2 696.76L1510.2 695.44L1510.2 697.36L1511.2 695.3L1511.2 696.86L1512.2 695.59L1512.2 697.88L1513.2 695.17L1513.2 697.38L1514.2 695.73L1514.2 696.97L1515.2 695.67L1515.2 696.45L1516.2 694.47L1516.2 697.57L1517.2 693.63L1517.2 697.08L1518.2 694.61L1518.2 696.5L1519.2 695.46L1519.2 696.89L1520.2 695.06L1520.2 696.52L1521.2 695.03L1521.2 696.68L1522.2 695.51L1522.2 697.73L1523.2 695.7L1523.2 697L1524.2 695.16L1524.2 697.29L1525.2 695.48L1525.2 697L1526.2 695.5L1526.2 697.36L1527.2 694.65L1527.2 696.72L1528.2 695.56L1528.2 697.06L1529.2 695.16L1529.2 696.49L1530.2 695.49L1530.2 696.8L1531.2 695.61L1531.2 696.71L1532.2 694.98L1532.2 697.53L1533.2 695.24L1533.2 696.56L1534.2 694.79L1534.2 697.3L1535.2 695.35L1535.2 696.85L1536.2 695.5L1536.2 697.82L1537.2 694.89L1537.2 698.2L1538.2 694.88L1538.2 697.41L1539.2 695.08L1539.2 696.49L1540.2 694.59L1540.2 696.52L1541.2 694.77L1541.2 696.51L1542.2 694.98L1542.2 696.69L1543.2 695.43L1543.2 696.92L1544.2 695.12L1544.2 696.56L1545.2 695.23L1545.2 697.33L1546.2 695.6L1546.2 696.77L1547.2 695.3L1547.2 696.74L1548.2 695.21L1548.2 697.35L1549.2 695.07L1549.2 697.35L1550.2 695.71L1550.2 696.81L1551.2 695.4L1551.2 696.67L1552.2 695.18L1552.2 697.14L1553.2 695.26L1553.2 696.74L1554.2 695.35L1554.2 696.55L1555.2 695.29L1555.2 696.89L1556.2 695.46L1556.2 697.39L1557.2 695.13L1557.2 696.64L1558.2 695.01L1558.2 697.51L1559.2 695.17L1559.2 696.56L1560.2 695.42L1560.2 697.54L1561.2 694.87L1561.2 699.14L1562.2 695.58L1562.2 696.5L1563.2 695.01L1563.2 696.94L1564.2 695.45L1564.2 697.11L1565.2 695.08L1565.2 697.41L1566.2 695.11L1566.2 697.22L1567.2 694.82L1567.2 696.81L1568.2 695.41L1568.2 696.85L1569.2 695.06L1569.2 696.77L1570.2 694.05L1570.2 696.93L1571.2 693.65L1571.2 696.73L1572.2 695.42L1572.2 697.28L1573.2 695.73L1573.2 698.24L1574.2 695.32L1574.2 696.48L1575.2 695.66L1575.2 696.99L1576.2 695.35L1576.2 698.55L1577.2 695.51L1577.2 697.3L1578.2 695.11L1578.2 696.48L1579.2 695.72L1579.2 696.51L1580.2 695.41L1580.2 699.24L1581.2 694.55L1581.2 696.62L1582.2 695.58L1582.2 697.47L1583.2 694.09L1583.2 697.26L1584.2 695.37L1584.2 697.26L1585.2 695.54L1585.2 696.59L1586.2 695.74L1586.2 696.93L1587.2 695.75L1587.2 696.89L1588.2 695.63L1588.2 697.13L1589.2 695.73L1589.2 697.19L1590.2 694.66L1590.2 696.93L1591.2 695.24L1591.2 696.46L1592.2 695.7L1592.2 696.46L1593.2 695.28L1593.2 696.72L1594.2 695.6L1594.2 697.48L1595.2 695.22L1595.2 696.68L1596.2 695.56L1596.2 697.08L1597.2 695.56L1597.2 696.59L1598.2 695.24L1598.2 696.48L1599.2 695.38L1599.2 696.93L1600.2 695.41L1600.2 696.64L1601.2 694.66L1601.2 696.59L1602.2 695.32L1602.2 696.6L1603.2 695.01L1603.2 696.65L1604.2 695.67L1604.2 696.97L1605.2 695.49L1605.2 697.83L1606.2 695.56L1606.2 696.71L1607.2 693.2L1607.2 697.78L1608.2 695.3L1608.2 696.67L1609.2 695.3L1609.2 696.73L1610.2 695.71L1610.2 696.61L1611.2 693.67L1611.2 697.25L1612.2 694.89L1612.2 697.38L1613.2 694.97L1613.2 697.57L1614.2 695.05L1614.2 697.14L1615.2 694.64L1615.2 697.3L1616.2 694.47L1616.2 696.45L1617.2 695.65L1617.2 697.51L1618.2 695.38L1618.2 696.7L1619.2 695.19L1619.2 696.84L1620.2 695.05L1620.2 696.91L1621.2 695.56L1621.2 697.06L1622.2 695.24L1622.2 697.41L1623.2 695.6L1623.2 697.22L1624.2 693.96L1624.2 696.45L1625.2 695.12L1625.2 697.55L1626.2 695.36L1626.2 696.68L1627.2 695.45L1627.2 696.62L1628.2 694.82L1628.2 696.6L1629.2 695.41L1629.2 697.51L1630.2 695.67L1630.2 697.7L1631.2 695.44L1631.2 696.6L1632.2 695.58L1632.2 696.68L1633.2 695.69L1633.2 696.57L1634.2 694.49L1634.2 697.05L1635.2 693.95L1635.2 696.71L1636.2 695.57L1636.2 696.47L1637.2 694.77L1637.2 698.69L1638.2 695.51L1638.2 696.65L1639.2 695.69L1639.2 696.87L1640.2 695.41L1640.2 696.94L1641.2 695.49L1641.2 697.69L1642.2 695.13L1642.2 696.93L1643.2 695.38L1643.2 697.55L1644.2 695.3L1644.2 697.22L1645.2 695.5L1645.2 697.3L1646.2 695.67L1646.2 696.79L1647.2 695.35L1647.2 697.51L1648.2 695.57L1648.2 697.13L1649.2 695L1649.2 696.63L1650.2 695.65L1650.2 697.48L1651.2 694.96L1651.2 696.77L1652.2 694.92L1652.2 696.57L1653.2 694.7L1653.2 697.25L1654.2 695.26L1654.2 697.46L1655.2 695.59L1655.2 696.83L1656.2 694.54L1656.2 698.04L1657.2 695.08L1657.2 696.75L1658.2 695.13L1658.2 696.88L1659.2 695.21L1659.2 696.66L1660.2 695.36L1660.2 696.95L1661.2 695.51L1661.2 697.03L1662.2 695.56L1662.2 696.47L1663.2 695.37L1663.2 697.43L1664.2 695.25L1664.2 697.3L1665.2 695.2L1665.2 696.45L1666.2 694.93L1666.2 697.03L1667.2 695.59L1667.2 697.59L1668.2 694.97L1668.2 697.44L1669.2 695.15L1669.2 696.51L1670.2 695.55L1670.2 697.22L1671.2 694.68L1671.2 696.77L1672.2 695.1L1672.2 697.05L1673.2 694.69L1673.2 699.59L1674.2 695.34L1674.2 697.53L1675.2 695.6L1675.2 697.03L1676.2 695.66L1676.2 696.71L1677.2 695.26L1677.2 696.5L1678.2 695.26L1678.2 696.66L1679.2 695.27L1679.2 697.87L1680.2 695.67L1680.2 697.62L1681.2 695.24L1681.2 696.47L1682.2 695.56L1682.2 697.27L1683.2 695.52L1683.2 697.23L1684.2 694.71L1684.2 696.51L1685.2 695.24L1685.2 696.8L1686.2 695.7L1686.2 697.5L1687.2 695.33L1687.2 697.07L1688.2 694.93L1688.2 697.06L1689.2 695.53L1689.2 696.49L1690.2 695.57L1690.2 697.47L1691.2 695.62L1691.2 696.83L1692.2 694.64L1692.2 696.58L1693.2 695.6L1693.2 696.71L1694.2 695.56L1694.2 697.61L1695.2 694.8L1695.2 696.61L1696.2 694.54L1696.2 696.94L1697.2 694.36L1697.2 696.63L1698.2 694.82L1698.2 696.88L1699.2 695.37L1699.2 697.15L1700.2 695.58L1700.2 696.6L1701.2 695.14L1701.2 697.45L1702.2 694.6L1702.2 697.01L1703.2 693.93L1703.2 696.65L1704.2 695.5L1704.2 698L1705.2 695.68L1705.2 697.17L1706.2 694.96L1706.2 696.98L1707.2 691.99L1707.2 696.66L1708.2 695.5L1708.2 696.92L1709.2 694.84L1709.2 699.39L1710.2 694.72L1710.2 696.98L1711.2 695.69L1711.2 696.64L1712.2 695.52L1712.2 697.58L1713.2 694.98L1713.2 696.56L1714.2 695.59L1714.2 697.01L1715.2 695.17L1715.2 696.77L1716.2 695.58L1716.2 697.39L1717.2 695.04L1717.2 697.12L1718.2 694.97L1718.2 696.53L1719.2 695.74L1719.2 696.78L1720.2 695.68L1720.2 696.82L1721.2 695.2L1721.2 697.07L1722.2 695.4L1722.2 696.92L1723.2 694.69L1723.2 696.68L1724.2 695.11L1724.2 697.31L1725.2 695.58L1725.2 696.5L1726.2 695.65L1726.2 697.69L1727.2 694.9L1727.2 696.67L1728.2 695.66L1728.2 697.26L1729.2 695.01L1729.2 697.06L1730.2 695.55L1730.2 697.48L1731.2 695.2L1731.2 697.05L1732.2 695.28L1732.2 696.66L1733.2 695.48L1733.2 696.81L1734.2 694.62L1734.2 696.57L1735.2 695.36L1735.2 698.31L1736.2 695.57L1736.2 696.91L1737.2 695.14L1737.2 696.46L1738.2 695.52L1738.2 696.55L1739.2 694.03L1739.2 696.6L1740.2 695.06L1740.2 697.6L1741.2 694.13L1741.2 696.9L1742.2 695.04L1742.2 696.95L1743.2 695.41L1743.2 696.56L1744.2 695.04L1744.2 697.11L1745.2 695.69L1745.2 696.69L1746.2 695.66L1746.2 696.58L1747.2 694.67L1747.2 697.4L1748.2 695.43L1748.2 696.47L1749.2 694.07L1749.2 696.75L1750.2 695.54L1750.2 696.81L1751.2 695.53L1751.2 696.98L1752.2 694.53L1752.2 696.9L1753.2 695.73L1753.2 697.14L1754.2 694.6L1754.2 697.03L1755.2 695.73L1755.2 697.13L1756.2 695.28L1756.2 696.51L1757.2 695.3L1757.2 697.29L1758.2 695.53L1758.2 696.83L1759.2 695.7L1759.2 696.77L1760.2 695.42L1760.2 696.74L1761.2 695.31L1761.2 696.52L1762.2 695.6L1762.2 696.74L1763.2 695.18L1763.2 696.64L1764.2 695.53L1764.2 696.82L1765.2 695.15L1765.2 696.63L1766.2 695.47L1766.2 697.04L1767.2 695.04L1767.2 696.67L1768.2 694.97L1768.2 697.03L1769.2 695.75L1769.2 697.33L1770.2 695.57L1770.2 696.96L1771.2 695.46L1771.2 696.59L1772.2 694.86L1772.2 696.92L1773.2 695.43L1773.2 697.01L1774.2 695.57L1774.2 697.1L1775.2 694.85L1775.2 696.54L1776.2 694.95L1776.2 697.16L1777.2 693.02L1777.2 697.67L1778.2 695.64L1778.2 696.69L1779.2 695.48L1779.2 696.51L1780.2 695.29L1780.2 696.88L1781.2 695.64L1781.2 697.69L1782.2 695.66L1782.2 696.51L1783.2 695.19L1783.2 697.43L1784.2 695.09L1784.2 697.14L1785.2 695.5L1785.2 696.6L1786.2 694.12L1786.2 697.08L1787.2 694.39L1787.2 697.12L1788.2 695.42L1788.2 697.22L1789.2 695.57L1789.2 697.28L1790.2 695.42L1790.2 696.7L1791.2 695.36L1791.2 697.14L1792.2 695.11L1792.2 696.56L1793.2 694.98L1793.2 696.99L1794.2 695.49L1794.2 696.53L1795.2 695.21L1795.2 697.82L1796.2 695.41L1796.2 696.61L1797.2 694.74L1797.2 696.51L1798.2 695.23L1798.2 698.58L1799.2 695.17L1799.2 697.08L1800.2 694.97L1800.2 697.06L1801.2 695.65L1801.2 697.16L1802.2 695.33L1802.2 696.96L1803.2 694.16L1803.2 697.35L1804.2 695.58L1804.2 696.65L1805.2 695.58L1805.2 696.65L1806.2 695.28L1806.2 697.61L1807.2 694.18L1807.2 696.71L1808.2 694.58L1808.2 696.9L1809.2 695.41L1809.2 696.52L1810.2 695.24L1810.2 696.9L1811.2 695.36L1811.2 696.94L1812.2 695.62L1812.2 696.91L1813.2 695.57L1813.2 697.24L1814.2 695.56L1814.2 696.78L1815.2 694.88L1815.2 696.54L1816.2 694.88L1816.2 696.76L1817.2 695.54L1817.2 696.75L1818.2 695.41L1818.2 696.77L1819.2 695.34L1819.2 696.87L1820.2 694.7L1820.2 696.68L1821.2 695.01L1821.2 697.14L1822.2 695.09L1822.2 696.8L1823.2 695.67L1823.2 697.74L1824.2 695.46L1824.2 696.73L1825.2 695.38L1825.2 696.97L1826.2 695.1L1826.2 697.29L1827.2 695.68L1827.2 696.79L1828.2 692.56L1828.2 697.11L1829.2 695.4L1829.2 697.02L1830.2 695.6L1830.2 697.11L1831.2 693.93L1831.2 696.68L1832.2 694.7L1832.2 697.14L1833.2 695.66L1833.2 697.15L1834.2 695.19L1834.2 696.53L1835.2 695.4L1835.2 696.94L1836.2 695.58L1836.2 698.38L1837.2 695.23L1837.2 696.96L1838.2 694.53L1838.2 697L1839.2 695.33L1839.2 696.55L1840.2 695.11L1840.2 696.8L1841.2 695.22L1841.2 696.9L1842.2 695.41L1842.2 697.18L1843.2 695.64L1843.2 696.57L1844.2 695.59L1844.2 697.53L1845.2 695.25L1845.2 696.5L1846.2 695.12L1846.2 696.87L1847.2 694.33L1847.2 697.48L1848.2 695.66L1848.2 697.11L1849.2 695.72L1849.2 696.57L1850.2 695.39L1850.2 697.43L1851.2 695.15L1851.2 696.47L1852.2 694.77L1852.2 696.61L1853.2 695.72L1853.2 696.63L1854.2 695.01L1854.2 696.56L1855.2 695.67L1855.2 696.58L1856.2 695.66L1856.2 696.65L1857.2 693.68L1857.2 696.75L1858.2 695.53L1858.2 696.78L1859.2 695.48L1859.2 696.7L1860.2 695.75L1860.2 697.01L1861.2 695.13L1861.2 696.83L1862.2 695.75L1862.2 696.79L1863.2 695.47L1863.2 696.81L1864.2 694.46L1864.2 697.06L1865.2 694.66L1865.2 696.73L1866.2 695.72L1866.2 696.76L1867.2 694.47L1867.2 696.83L1868.2 695.09L1868.2 697.94L1869.2 695.4L1869.2 696.73L1870.2 695.74L1870.2 696.87L1871.2 695.49L1871.2 697.46L1872.2 695.07L1872.2 697.3L1873.2 695.01L1873.2 696.62L1874.2 694.75L1874.2 696.89L1875.2 695.6L1875.2 697.19L1876.2 695.55L1876.2 697.36L1877.2 695.16L1877.2 696.84L1878.2 695.21L1878.2 697.61L1879.2 693.73L1879.2 696.9L1880.2 695.58L1880.2 696.56L1881.2 694.81L1881.2 696.93L1882.2 695.37L1882.2 697.28L1883.2 694.92L1883.2 697.01L1884.2 695.6L1884.2 696.62L1885.2 695.43L1885.2 696.54L1886.2 694.44L1886.2 697.69L1887.2 695.49L1887.2 696.82L1888.2 694.75L1888.2 696.88L1889.2 695.21L1889.2 697.09L1890.2 694.66L1890.2 696.59L1891.2 694.77L1891.2 697.04L1892.2 695.49L1892.2 696.78L1893.2 695.58L1893.2 696.72L1894.2 695.3L1894.2 697.25L1895.2 695.42L1895.2 696.81L1896.2 695.15L1896.2 696.96L1897.2 695.46L1897.2 698.54L1898.2 695.72L1898.2 697.51L1899.2 695.21L1899.2 697.11L1900.2 695.23L1900.2 696.63L1901.2 695.55L1901.2 696.63L1902.2 695.22L1902.2 697.72L1903.2 695.66L1903.2 697.04L1904.2 694.99L1904.2 697.4L1905.2 695.03L1905.2 697.19L1906.2 693.23L1906.2 697.62L1907.2 695.46L1907.2 696.94L1908.2 694.79L1908.2 696.51L1909.2 695.35L1909.2 697L1910.2 695.7L1910.2 696.67L1911.2 695.42L1911.2 696.65L1912.2 695.18L1912.2 699.02L1913.2 695.66L1913.2 696.69L1914.2 695.17L1914.2 697.02L1915.2 695.03L1915.2 696.55L1916.2 694.7L1916.2 696.65L1917.2 694.4L1917.2 696.7L1918.2 694.36L1918.2 696.69L1919.2 694.7L1919.2 696.79L1920.2 694.76L1920.2 697.89L1921.2 695.29L1921.2 698.02L1922.2 695.2L1922.2 696.98L1923.2 693.83L1923.2 696.53L1924.2 695.72L1924.2 696.79L1925.2 695.74L1925.2 696.53L1926.2 695.45L1926.2 696.97L1927.2 695.57L1927.2 697.64L1928.2 695.68L1928.2 699.09L1929 696.1M267.91 696.1V671.89M268.87 696.1V701.72M272.07 696.1V654.3M273.35 696.1V701.72M281.03 696.1V681.81M281.03 696.1V704.92M283.27 696.1V703.96M284.87 696.1V682.13M288.39 696.1V702.36M289.35 696.1V686.61M294.14 696.1V685.33M307.9 696.1V687.89M313.02 696.1V690.77M315.26 696.1V702.36M335.09 696.1V706.2M340.85 696.1V672.85M357.48 696.1V722.19M364.52 696.1V686.61M366.12 696.1V662.94M366.76 696.1V703.64M385.31 696.1V686.61M395.86 696.1V688.53M397.46 696.1V709.4M400.5 696.1V810.7M404.82 696.1V702.68M406.42 696.1V688.53M412.5 696.1V684.37M419.22 696.1V685.97M425.93 696.1V706.52M429.77 696.1V685.97M440.01 696.1V688.85M444.49 696.1V690.45M446.41 696.1V708.76M453.44 696.1V688.85M455.36 696.1V706.2M463.04 696.1V674.45M463.04 696.1V707.48M474.87 696.1V684.37M499.82 696.1V668.69M503.66 696.1V688.53M520.94 696.1V704.28M533.73 696.1V680.21M540.13 696.1V724.11M549.41 696.1V702.36M557.08 696.1V654.94M563.48 696.1V678.61M563.48 696.1V747.46M566.68 696.1V706.52M568.6 696.1V704.28M573.72 696.1V725.39M575.64 696.1V669.33M584.91 696.1V689.17M593.87 696.1V702.36M594.83 696.1V690.13M601.23 696.1V685.33M603.79 696.1V683.73M606.02 696.1V686.61M609.22 696.1V709.4M611.46 696.1V703M615.62 696.1V720.59M616.58 696.1V684.69M631.61 696.1V714.52M632.57 696.1V689.17M635.77 696.1V703M638.65 696.1V652.06M643.77 696.1V686.61M646.65 696.1V702.36M647.93 696.1V687.57M656.88 696.1V699.8M665.84 696.1V690.77M673.2 696.1V690.77M676.4 696.1V703M678.64 696.1V704.28M682.48 696.1V685.01M684.71 696.1V704.6M690.15 696.1V661.34M693.67 696.1V704.92M694.63 696.1V686.29M701.67 696.1V718.67M705.83 696.1V687.89M709.66 696.1V683.41M712.22 696.1V684.05M714.14 696.1V703.32M721.18 696.1V691.09M729 696.1V580.9M730.78 696.1V701.08M733.02 696.1V691.41M742.93 696.1V707.8M753.81 696.1V690.45M754.77 696.1V706.2M760.85 696.1V681.17M765 696.1V735.31M765.32 696.1V678.29M767.88 696.1V705.56M777.8 696.1V677.65M779.4 696.1V639.9M782.28 696.1V710.36M785.16 696.1V677.01M795.39 696.1V691.41M808.19 696.1V645.02M813.63 696.1V702.36M818.42 696.1V690.45M827.7 696.1V691.72M830.26 696.1V703M833.46 696.1V719.31M834.74 696.1V692.36M840.6 696.1V821.2M850.09 696.1V699.16M854.57 696.1V689.81M863.21 696.1V685.33M864.81 696.1V671.89M870.56 696.1V689.17M870.56 696.1V703M878.56 696.1V703M888.48 696.1V704.28M892.32 696.1V691.41M903.4 696.1V254.1M909.59 696.1V690.13M913.75 696.1V687.25M926.54 696.1V718.04M928.46 696.1V686.61M930.06 696.1V711.32M935.82 696.1V682.77M941.9 696.1V691.09M943.5 696.1V704.6M951.81 696.1V704.92M952.45 696.1V689.17M962.37 696.1V702.36M969.73 696.1V712.28M970.69 696.1V686.61M979.64 696.1V701.72M981.88 696.1V685.97M992.12 696.1V688.53M995.64 696.1V703M1000.11 696.1V738.83M1004.59 696.1V680.53M1004.91 696.1V701.72M1012.27 696.1V707.16M1019.63 696.1V688.85M1025.06 696.1V708.76M1026.6 696.1V949.9M1027.94 696.1V691.41M1030.82 696.1V704.92M1039.78 696.1V689.17M1046.2 696.1V563.3M1052.89 696.1V715.48M1059.29 696.1V685.33M1062.81 696.1V699.8M1077.52 696.1V687.25M1082.32 696.1V678.93M1084.24 696.1V701.72M1085.84 696.1V689.81M1100.24 696.1V690.45M1104.07 696.1V701.08M1112.71 696.1V706.52M1115.27 696.1V681.17M1119.43 696.1V622.95M1130.94 696.1V689.17M1132.86 696.1V702.36M1144.7 696.1V704.6M1145.02 696.1V641.82M1147.58 696.1V641.82M1153.02 696.1V703.64M1153.98 696.1V689.17M1164.53 696.1V704.28M1167.09 696.1V685.33M1169.01 696.1V685.97M1172.21 696.1V708.12M1176 696.1V885.1M1180.85 696.1V689.81M1181.17 696.1V711.96M1188.52 696.1V690.45M1189.8 696.1V706.2M1192.36 696.1V704.28M1193.64 696.1V689.17M1198.76 696.1V690.45M1199.08 696.1V706.2M1204.2 696.1V683.41M1216.99 696.1V685.97M1223.07 696.1V690.13M1236.82 696.1V682.13M1240.98 696.1V689.17M1242.9 696.1V719.95M1247.38 696.1V690.45M1252.82 696.1V718.35M1258.58 696.1V686.61M1268.81 696.1V739.47M1271.05 696.1V715.16M1272.01 696.1V674.45M1273.93 696.1V679.57M1277.45 696.1V716.44M1280.97 696.1V729.55M1281.93 696.1V689.81M1288.32 696.1V681.49M1291.2 696.1V681.81M1295.04 696.1V720.27M1301.12 696.1V691.72M1301.76 696.1V704.28M1309.44 696.1V706.2M1320.63 696.1V706.84M1325.75 696.1V677.65M1333.75 696.1V687.89M1339.5 696.1V710.36M1343.98 696.1V690.45M1344.3 696.1V702.36M1362.86 696.1V686.61M1376.61 696.1V708.76M1378.85 696.1V683.41M1383.33 696.1V672.85M1384.93 696.1V682.13M1388.13 696.1V703M1392.6 696.1V687.25M1397.72 696.1V703M1399.64 696.1V688.53M1404.76 696.1V686.61M1412.44 696.1V702.36M1413.08 696.1V643.1M1416.92 696.1V606M1419.15 696.1V683.41M1419.15 696.1V702.36M1424.27 696.1V680.85M1424.91 696.1V704.28M1426.51 696.1V771.13M1432.91 696.1V710.36M1437.07 696.1V691.09M1443.15 696.1V706.2M1453.38 696.1V669.33M1466.82 696.1V688.53M1471.93 696.1V682.45M1481.53 696.1V704.92M1483.45 696.1V679.57M1489.85 696.1V680.53M1494.65 696.1V700.44M1498.6 696.1V109.3M1499.44 696.1V701.08M1504.88 696.1V680.21M1508.72 696.1V684.69M1511.6 696.1V702.36M1514.48 696.1V710.04M1514.8 696.1V678.93M1520.56 696.1V680.21M1521.9 696.1V590.5M1530.15 696.1V690.45M1535.59 696.1V687.89M1542.31 696.1V688.53M1552.86 696.1V699.8M1554.78 696.1V691.72M1561.5 696.1V691.72M1573.66 696.1V711.96M1589.01 696.1V683.41M1591.25 696.1V680.21M1599.57 696.1V677.33M1604.68 696.1V685.33M1604.68 696.1V704.6M1607.56 696.1V702.36M1612.36 696.1V702.36M1612.68 696.1V689.81M1615.88 696.1V682.13M1618.76 696.1V688.53M1632.19 696.1V691.41M1640.19 696.1V683.73M1640.19 696.1V705.56M1648.51 696.1V688.21M1653.95 696.1V691.72M1659.7 696.1V686.29M1661.3 696.1V700.44M1664.82 696.1V715.8M1668.98 696.1V691.09M1676.02 696.1V691.41M1676.02 696.1V704.28M1684.01 696.1V689.81M1686.89 696.1V689.17M1708.32 696.1V734.35M1721.12 696.1V691.09M1723.36 696.1V712.92M1732.64 696.1V686.61M1739.03 696.1V665.49M1753.11 696.1V691.41M1759.5 696.1V691.09M1769.42 696.1V701.72M1771.98 696.1V720.91M1781.9 696.1V691.72M1791.17 696.1V686.29M1796.29 696.1V702.36M1800.77 696.1V689.17M1803.65 696.1V672.53M1812.6 696.1V690.45M1817.4 696.1V705.88M1819.64 696.1V686.61M1831.8 696.1V704.28M1832.76 696.1V690.45M1836.28 696.1V702.36M1838.19 696.1V690.45M1844.27 696.1V710.04M1850.99 696.1V680.85M1851.63 696.1V704.92M1853.87 696.1V719.31M1861.1 696.1V522.1M1869.86 696.1V689.49M1874.66 696.1V700.44M1881.7 696.1V680.21M1887.78 696.1V709.72M1897.05 696.1V673.17M1900.89 696.1V715.16M1905.69 696.1V679.25M1912.09 696.1V658.14M1915.93 696.1V714.84M1917.84 696.1V690.45M1922.64 696.1V699.8"/>
<text class="tick" transform="translate(254.6 1080) scale(1.01 1.035)" text-anchor="middle">0</text>
<text class="tick" transform="translate(421.98 1080) scale(1.01 1.035)" text-anchor="middle">0.5</text>
<text class="tick" transform="translate(589.36 1080) scale(1.01 1.035)" text-anchor="middle">1</text>
<text class="tick" transform="translate(756.74 1080) scale(1.01 1.035)" text-anchor="middle">1.5</text>
<text class="tick" transform="translate(924.12 1080) scale(1.01 1.035)" text-anchor="middle">2</text>
<text class="tick" transform="translate(1091.5 1080) scale(1.01 1.035)" text-anchor="middle">2.5</text>
<text class="tick" transform="translate(1258.88 1080) scale(1.01 1.035)" text-anchor="middle">3</text>
<text class="tick" transform="translate(1426.26 1080) scale(1.01 1.035)" text-anchor="middle">3.5</text>
<text class="tick" transform="translate(1593.64 1080) scale(1.01 1.035)" text-anchor="middle">4</text>
<text class="tick" transform="translate(1761.02 1080) scale(1.01 1.035)" text-anchor="middle">4.5</text>
<text class="tick" transform="translate(1928.4 1080) scale(1.01 1.035)" text-anchor="middle">5</text>
<text class="tick" transform="translate(237.1 1032.9) scale(1.01 1.035)" text-anchor="end">-4000</text>
<text class="tick" transform="translate(237.1 873.32) scale(1.01 1.035)" text-anchor="end">-2000</text>
<text class="tick" transform="translate(237.1 713.73) scale(1.01 1.035)" text-anchor="end">0</text>
<text class="tick" transform="translate(237.1 554.15) scale(1.01 1.035)" text-anchor="end">2000</text>
<text class="tick" transform="translate(237.1 394.57) scale(1.01 1.035)" text-anchor="end">4000</text>
<text class="tick" transform="translate(237.1 234.98) scale(1.01 1.035)" text-anchor="end">6000</text>
<text class="tick" transform="translate(237.1 75.4) scale(1.01 1.035)" text-anchor="end">8000</text>
<text class="mul" x="1816.1" y="1162">×</text>
<text class="tick" transform="translate(1858.8 1158.8) scale(1 1.035)">10</text>
<text class="tick" x="1908.4" y="1135" style="font-size:41.5px">4</text>
<text class="lab" x="1091.3" y="1165.6" text-anchor="middle">Number of Iterations (<tspan font-style="italic">n</tspan>)</text>
<text class="lab" transform="translate(91.3 536.05) rotate(-90)" text-anchor="middle">Amplitude</text>
<rect x="1566.4" y="85.8" width="333.6" height="83.1" fill="#fff" stroke="#262626" stroke-width="1.9"/>
<path d="M1578 127.2h112.6" stroke="#000" stroke-width="2" fill="none"/>
<text class="leg" transform="translate(1700 150.9) scale(1.13 1)" font-style="italic">α</text>
<text class="leg" x="1754.7" y="158.1" style="font-weight:bold;font-size:66px">=</text>
<text class="leg" transform="translate(1847.3 150.9) scale(0.95 1.02)" text-anchor="middle" style="font-size:63.5px">1.1</text>
<text class="sub par" transform="translate(26.4 1280) scale(0.92 1)">(</text>
<text class="sub" x="53.5" y="1281.5">a</text>
<text class="sub par" transform="translate(94.7 1280) scale(0.92 1)">)</text>
</g>
<g id="plot-b">
<rect class="ax" x="251.9" y="1327.8" width="1674" height="958.2"/>
<path class="ax" d="M251.9 2286v-17.5M251.9 1327.8v17.5M419.3 2286v-17.5M419.3 1327.8v17.5M586.7 2286v-17.5M586.7 1327.8v17.5M754.1 2286v-17.5M754.1 1327.8v17.5M921.5 2286v-17.5M921.5 1327.8v17.5M1088.9 2286v-17.5M1088.9 1327.8v17.5M1256.3 2286v-17.5M1256.3 1327.8v17.5M1423.7 2286v-17.5M1423.7 1327.8v17.5M1591.1 2286v-17.5M1591.1 1327.8v17.5M1758.5 2286v-17.5M1758.5 1327.8v17.5M1925.9 2286v-17.5M1925.9 1327.8v17.5M251.9 2286h17.5M1925.9 2286h-17.5M251.9 2126.3h17.5M1925.9 2126.3h-17.5M251.9 1966.6h17.5M1925.9 1966.6h-17.5M251.9 1806.9h17.5M1925.9 1806.9h-17.5M251.9 1647.2h17.5M1925.9 1647.2h-17.5M251.9 1487.5h17.5M1925.9 1487.5h-17.5M251.9 1327.8h17.5M1925.9 1327.8h-17.5"/>
<path class="sig" d="M251.9 1646.9L251.9 1645.99L251.9 1647.42L252.9 1646.12L252.9 1647.36L253.9 1646.19L253.9 1647.3L254.9 1645.73L254.9 1647.51L255.9 1646.14L255.9 1648.7L256.9 1645.86L256.9 1647.99L257.9 1645.69L257.9 1647.7L258.9 1645.17L258.9 1647.8L259.9 1646.5L259.9 1647.38L260.9 1645.55L260.9 1647.65L261.9 1646.23L261.9 1647.62L262.9 1646.25L262.9 1647.6L263.9 1646.09L263.9 1647.4L264.9 1644.5L264.9 1647.36L265.9 1646.4L265.9 1647.55L266.9 1645.65L266.9 1649.48L267.9 1645.96L267.9 1647.5L268.9 1645.99L268.9 1647.37L269.9 1646.53L269.9 1647.82L270.9 1646.2L270.9 1647.3L271.9 1646.4L271.9 1647.29L272.9 1644.5L272.9 1647.37L273.9 1646L273.9 1649.86L274.9 1645.61L274.9 1647.66L275.9 1646.46L275.9 1647.4L276.9 1645.57L276.9 1647.79L277.9 1646.14L277.9 1647.67L278.9 1645.88L278.9 1647.41L279.9 1646.36L279.9 1647.87L280.9 1645.7L280.9 1649.66L281.9 1646.43L281.9 1647.38L282.9 1645.69L282.9 1648.04L283.9 1646.2L283.9 1647.56L284.9 1646.27L284.9 1647.28L285.9 1646.49L285.9 1648.32L286.9 1646.08L286.9 1647.72L287.9 1646.05L287.9 1648.01L288.9 1645.95L288.9 1647.4L289.9 1646L289.9 1647.6L290.9 1646.01L290.9 1647.82L291.9 1646.36L291.9 1647.71L292.9 1645.97L292.9 1648.23L293.9 1645.94L293.9 1647.35L294.9 1643.66L294.9 1647.55L295.9 1645.91L295.9 1647.36L296.9 1646.21L296.9 1647.5L297.9 1646L297.9 1648.28L298.9 1646.39L298.9 1648.59L299.9 1646.44L299.9 1647.3L300.9 1645.82L300.9 1647.67L301.9 1646.35L301.9 1647.61L302.9 1646.13L302.9 1647.34L303.9 1646.43L303.9 1647.52L304.9 1645.16L304.9 1648.16L305.9 1646.47L305.9 1647.81L306.9 1644.2L306.9 1647.64L307.9 1646.13L307.9 1647.77L308.9 1644.4L308.9 1647.47L309.9 1646.07L309.9 1647.33L310.9 1646.37L310.9 1647.77L311.9 1646.4L311.9 1647.43L312.9 1646.48L312.9 1650.54L313.9 1646.13L313.9 1647.51L314.9 1646.3L314.9 1647.86L315.9 1645.14L315.9 1647.37L316.9 1646.45L316.9 1647.45L317.9 1646.03L317.9 1647.28L318.9 1646.14L318.9 1647.36L319.9 1645.56L319.9 1647.43L320.9 1646.55L320.9 1647.62L321.9 1645.99L321.9 1648.39L322.9 1645.93L322.9 1647.87L323.9 1646.3L323.9 1647.59L324.9 1646.18L324.9 1649.95L325.9 1646.16L325.9 1647.54L326.9 1646.14L326.9 1647.54L327.9 1646.19L327.9 1648.36L328.9 1646.46L328.9 1647.7L329.9 1646.24L329.9 1648.07L330.9 1646.47L330.9 1648.1L331.9 1646.45L331.9 1648.02L332.9 1646.35L332.9 1647.68L333.9 1646.33L333.9 1648.38L334.9 1646.01L334.9 1648.19L335.9 1646.43L335.9 1647.65L336.9 1646.25L336.9 1648.69L337.9 1645.88L337.9 1647.67L338.9 1644.66L338.9 1647.39L339.9 1646.2L339.9 1647.3L340.9 1646.27L340.9 1647.93L341.9 1646.25L341.9 1647.76L342.9 1646.46L342.9 1647.67L343.9 1646.43L343.9 1647.41L344.9 1646.08L344.9 1648.56L345.9 1646.52L345.9 1647.96L346.9 1645.97L346.9 1647.76L347.9 1646.38L347.9 1647.27L348.9 1646.12L348.9 1647.44L349.9 1646.41L349.9 1647.27L350.9 1646.31L350.9 1648.98L351.9 1644.45L351.9 1648.12L352.9 1646.02L352.9 1647.32L353.9 1646.21L353.9 1647.38L354.9 1646L354.9 1648.7L355.9 1646.22L355.9 1647.7L356.9 1646.33L356.9 1647.48L357.9 1646.05L357.9 1647.28L358.9 1646.13L358.9 1647.36L359.9 1645.79L359.9 1647.39L360.9 1646.54L360.9 1648.34L361.9 1645.98L361.9 1647.45L362.9 1645.99L362.9 1647.48L363.9 1646.48L363.9 1647.97L364.9 1646.19L364.9 1647.56L365.9 1646.46L365.9 1647.42L366.9 1643.83L366.9 1648.02L367.9 1645.43L367.9 1647.26L368.9 1645.98L368.9 1647.31L369.9 1646.18L369.9 1648.19L370.9 1645.76L370.9 1647.81L371.9 1646.51L371.9 1648.3L372.9 1646.49L372.9 1648.23L373.9 1646.43L373.9 1647.66L374.9 1646.3L374.9 1647.96L375.9 1644.1L375.9 1647.74L376.9 1646.47L376.9 1647.61L377.9 1645.56L377.9 1647.32L378.9 1646.51L378.9 1647.55L379.9 1646.38L379.9 1647.84L380.9 1646.41L380.9 1647.34L381.9 1645.4L381.9 1647.38L382.9 1646.42L382.9 1647.76L383.9 1646.44L383.9 1647.3L384.9 1646.18L384.9 1647.36L385.9 1644.38L385.9 1648.19L386.9 1645.56L386.9 1647.96L387.9 1645.37L387.9 1647.33L388.9 1646.31L388.9 1647.35L389.9 1646.08L389.9 1647.34L390.9 1645.55L390.9 1647.49L391.9 1646.22L391.9 1647.36L392.9 1646.37L392.9 1647.73L393.9 1646.01L393.9 1648.08L394.9 1646.41L394.9 1647.9L395.9 1645.94L395.9 1647.27L396.9 1646.21L396.9 1647.6L397.9 1646.54L397.9 1647.46L398.9 1646.4L398.9 1648.05L399.9 1644.82L399.9 1647.69L400.9 1646.42L400.9 1648.03L401.9 1645.83L401.9 1647.65L402.9 1646.38L402.9 1647.46L403.9 1646.25L403.9 1647.55L404.9 1645.13L404.9 1648.14L405.9 1645.23L405.9 1647.7L406.9 1644.88L406.9 1647.27L407.9 1645.9L407.9 1647.36L408.9 1645.78L408.9 1647.6L409.9 1645.72L409.9 1647.38L410.9 1646.27L410.9 1647.68L411.9 1644.41L411.9 1647.46L412.9 1646.09L412.9 1648.1L413.9 1645.55L413.9 1647.54L414.9 1646.15L414.9 1647.26L415.9 1645.65L415.9 1647.3L416.9 1644.32L416.9 1647.8L417.9 1646.06L417.9 1649.12L418.9 1645.83L418.9 1648.78L419.9 1644.95L419.9 1647.61L420.9 1646.17L420.9 1647.83L421.9 1646.31L421.9 1647.3L422.9 1646.5L422.9 1647.58L423.9 1643.85L423.9 1647.68L424.9 1646.03L424.9 1647.41L425.9 1644.54L425.9 1647.83L426.9 1646.36L426.9 1647.32L427.9 1645.68L427.9 1647.65L428.9 1646.35L428.9 1647.42L429.9 1643.1L429.9 1647.27L430.9 1646.09L430.9 1647.97L431.9 1646.04L431.9 1648.16L432.9 1646.41L432.9 1647.99L433.9 1646.47L433.9 1647.81L434.9 1646.21L434.9 1648.19L435.9 1645.8L435.9 1647.37L436.9 1645.53L436.9 1647.98L437.9 1646.46L437.9 1647.55L438.9 1646.4L438.9 1647.99L439.9 1646.41L439.9 1648.17L440.9 1644.53L440.9 1647.92L441.9 1646.44L441.9 1648.27L442.9 1646.07L442.9 1648.38L443.9 1646.04L443.9 1648.23L444.9 1646.24L444.9 1647.56L445.9 1646.26L445.9 1648.01L446.9 1646.19L446.9 1647.62L447.9 1646.38L447.9 1647.92L448.9 1646.11L448.9 1647.46L449.9 1646.04L449.9 1647.43L450.9 1644.37L450.9 1648.13L451.9 1645.99L451.9 1647.83L452.9 1646.27L452.9 1647.82L453.9 1646.21L453.9 1647.43L454.9 1646.45L454.9 1647.44L455.9 1646.54L455.9 1648.18L456.9 1645.89L456.9 1647.61L457.9 1646.11L457.9 1647.93L458.9 1645.94L458.9 1647.94L459.9 1645.74L459.9 1647.83L460.9 1644.07L460.9 1647.5L461.9 1646.15L461.9 1648.07L462.9 1646.45L462.9 1648.19L463.9 1645.51L463.9 1647.45L464.9 1646.46L464.9 1647.58L465.9 1646.4L465.9 1647.65L466.9 1646.45L466.9 1647.74L467.9 1646.07L467.9 1648.02L468.9 1646.5L468.9 1648.04L469.9 1646.13L469.9 1647.42L470.9 1645.77L470.9 1647.81L471.9 1646.46L471.9 1647.55L472.9 1646.42L472.9 1648L473.9 1646.45L473.9 1647.67L474.9 1646.24L474.9 1648L475.9 1646.35L475.9 1648.57L476.9 1645.78L476.9 1647.35L477.9 1646.46L477.9 1647.53L478.9 1646.22L478.9 1647.83L479.9 1646.39L479.9 1647.67L480.9 1645.55L480.9 1647.33L481.9 1645.48L481.9 1647.92L482.9 1645.87L482.9 1647.48L483.9 1646.14L483.9 1648.98L484.9 1646.1L484.9 1647.66L485.9 1646.01L485.9 1648.08L486.9 1646.53L486.9 1647.55L487.9 1646.26L487.9 1647.96L488.9 1645.76L488.9 1649.32L489.9 1645.78L489.9 1647.61L490.9 1646.52L490.9 1648.05L491.9 1645.85L491.9 1647.76L492.9 1646.39L492.9 1647.59L493.9 1646.27L493.9 1647.62L494.9 1645.41L494.9 1648.84L495.9 1646.1L495.9 1647.47L496.9 1645.64L496.9 1648.21L497.9 1646.4L497.9 1647.58L498.9 1646.01L498.9 1647.37L499.9 1646.51L499.9 1647.32L500.9 1646.41L500.9 1647.33L501.9 1646.52L501.9 1647.69L502.9 1646.09L502.9 1648.38L503.9 1645.67L503.9 1647.86L504.9 1646.53L504.9 1648.43L505.9 1646.02L505.9 1647.51L506.9 1646.49L506.9 1647.73L507.9 1645.99L507.9 1647.4L508.9 1646.54L508.9 1647.89L509.9 1646.16L509.9 1647.29L510.9 1646.37L510.9 1647.74L511.9 1646.01L511.9 1648.58L512.9 1645.57L512.9 1647.42L513.9 1646.33L513.9 1647.76L514.9 1646.14L514.9 1647.48L515.9 1645.73L515.9 1647.45L516.9 1646L516.9 1648L517.9 1646.1L517.9 1647.55L518.9 1646.15L518.9 1647.41L519.9 1644.19L519.9 1648.42L520.9 1645.37L520.9 1648.46L521.9 1646.43L521.9 1647.43L522.9 1644.07L522.9 1648.19L523.9 1645.87L523.9 1649.43L524.9 1645.71L524.9 1647.73L525.9 1646.15L525.9 1647.66L526.9 1645.97L526.9 1648.34L527.9 1645.97L527.9 1647.92L528.9 1646.26L528.9 1647.85L529.9 1644.62L529.9 1649.13L530.9 1645.92L530.9 1647.4L531.9 1645.71L531.9 1648.11L532.9 1645.7L532.9 1647.48L533.9 1646.25L533.9 1647.51L534.9 1646.08L534.9 1647.51L535.9 1646.41L535.9 1647.26L536.9 1646.1L536.9 1647.48L537.9 1645.06L537.9 1648.45L538.9 1646.08L538.9 1647.39L539.9 1645.88L539.9 1648.01L540.9 1646.32L540.9 1647.81L541.9 1645.57L541.9 1648.02L542.9 1646.55L542.9 1647.66L543.9 1646.3L543.9 1647.45L544.9 1644.3L544.9 1647.33L545.9 1646.54L545.9 1647.27L546.9 1645.22L546.9 1648.34L547.9 1645.93L547.9 1648.24L548.9 1646.35L548.9 1647.31L549.9 1645.62L549.9 1647.58L550.9 1645.57L550.9 1647.63L551.9 1646.33L551.9 1647.43L552.9 1646.47L552.9 1647.96L553.9 1645.93L553.9 1647.83L554.9 1646.21L554.9 1647.42L555.9 1646.04L555.9 1647.47L556.9 1646.35L556.9 1648.09L557.9 1645.99L557.9 1647.48L558.9 1645.4L558.9 1647.58L559.9 1646.15L559.9 1647.74L560.9 1645.06L560.9 1647.89L561.9 1646.26L561.9 1647.27L562.9 1645.13L562.9 1647.96L563.9 1646.42L563.9 1647.52L564.9 1645.24L564.9 1647.69L565.9 1646.17L565.9 1647.31L566.9 1646.28L566.9 1647.75L567.9 1645.97L567.9 1648.76L568.9 1646.12L568.9 1647.48L569.9 1645.71L569.9 1647.73L570.9 1645.82L570.9 1647.84L571.9 1645.91L571.9 1648.62L572.9 1645.68L572.9 1648.2L573.9 1646.42L573.9 1647.53L574.9 1646.49L574.9 1648.05L575.9 1646.14L575.9 1648.63L576.9 1645.9L576.9 1647.62L577.9 1646.26L577.9 1647.55L578.9 1645.86L578.9 1648.61L579.9 1646.25L579.9 1647.68L580.9 1646.39L580.9 1650.12L581.9 1645.55L581.9 1647.3L582.9 1644.64L582.9 1647.34L583.9 1646.45L583.9 1647.66L584.9 1646.23L584.9 1647.32L585.9 1645.95L585.9 1647.75L586.9 1646.3L586.9 1647.98L587.9 1645.82L587.9 1647.32L588.9 1646.21L588.9 1647.33L589.9 1646.38L589.9 1647.56L590.9 1645.74L590.9 1647.73L591.9 1646.53L591.9 1647.63L592.9 1646.34L592.9 1648.09L593.9 1646.31L593.9 1647.48L594.9 1646.55L594.9 1647.39L595.9 1646.03L595.9 1647.72L596.9 1646.04L596.9 1648.87L597.9 1646.44L597.9 1647.71L598.9 1645.37L598.9 1650.1L599.9 1646.45L599.9 1647.26L600.9 1645.8L600.9 1647.63L601.9 1646.02L601.9 1647.77L602.9 1646.2L602.9 1648.02L603.9 1646.49L603.9 1647.76L604.9 1645.51L604.9 1647.34L605.9 1646L605.9 1648.09L606.9 1645.93L606.9 1647.73L607.9 1645.45L607.9 1647.38L608.9 1645.77L608.9 1647.87L609.9 1646.42L609.9 1647.64L610.9 1645.77L610.9 1647.32L611.9 1645.93L611.9 1647.33L612.9 1646L612.9 1647.3L613.9 1645.84L613.9 1647.55L614.9 1646.14L614.9 1647.69L615.9 1646.38L615.9 1647.51L616.9 1646.24L616.9 1647.73L617.9 1646.13L617.9 1647.7L618.9 1645.82L618.9 1650.01L619.9 1645.68L619.9 1648.86L620.9 1646.13L620.9 1647.64L621.9 1645.71L621.9 1647.49L622.9 1645.61L622.9 1648.62L623.9 1646.02L623.9 1647.44L624.9 1645.94L624.9 1647.94L625.9 1645.79L625.9 1647.54L626.9 1646.05L626.9 1647.91L627.9 1645.83L627.9 1647.33L628.9 1646.32L628.9 1647.48L629.9 1646.18L629.9 1647.71L630.9 1646.26L630.9 1648.04L631.9 1646.23L631.9 1647.39L632.9 1645.69L632.9 1648.17L633.9 1646.27L633.9 1647.39L634.9 1645.75L634.9 1648.07L635.9 1646.22L635.9 1647.64L636.9 1646.24L636.9 1647.72L637.9 1646.08L637.9 1647.77L638.9 1646.18L638.9 1647.31L639.9 1646.36L639.9 1647.85L640.9 1645.95L640.9 1647.61L641.9 1646.15L641.9 1647.57L642.9 1646.06L642.9 1648.42L643.9 1646.53L643.9 1647.35L644.9 1645.84L644.9 1647.7L645.9 1646.23L645.9 1647.47L646.9 1645.89L646.9 1648.04L647.9 1646.16L647.9 1647.31L648.9 1646.3L648.9 1648.03L649.9 1645.85L649.9 1647.72L650.9 1646.29L650.9 1647.27L651.9 1645.68L651.9 1647.36L652.9 1646.53L652.9 1648.71L653.9 1646.54L653.9 1648.29L654.9 1646.25L654.9 1647.65L655.9 1646.31L655.9 1647.77L656.9 1645.37L656.9 1648.05L657.9 1645.92L657.9 1647.99L658.9 1646.28L658.9 1647.8L659.9 1645.99L659.9 1647.51L660.9 1646.32L660.9 1647.57L661.9 1646.48L661.9 1648.42L662.9 1646.35L662.9 1648.94L663.9 1645.64L663.9 1648.03L664.9 1643.68L664.9 1647.61L665.9 1645.23L665.9 1648.22L666.9 1645.65L666.9 1648.06L667.9 1646.03L667.9 1647.55L668.9 1645.46L668.9 1647.79L669.9 1646.3L669.9 1647.4L670.9 1646.39L670.9 1648.49L671.9 1646.41L671.9 1649.97L672.9 1646.22L672.9 1647.58L673.9 1646.38L673.9 1648.61L674.9 1646.09L674.9 1647.28L675.9 1646.25L675.9 1647.39L676.9 1646.44L676.9 1648.25L677.9 1645.54L677.9 1647.77L678.9 1646.3L678.9 1647.34L679.9 1646.38L679.9 1648.27L680.9 1646.47L680.9 1648.5L681.9 1646.47L681.9 1648.06L682.9 1646.35L682.9 1647.61L683.9 1645.47L683.9 1647.29L684.9 1646.25L684.9 1647.53L685.9 1645.97L685.9 1647.97L686.9 1646.27L686.9 1647.29L687.9 1645.77L687.9 1647.94L688.9 1645.56L688.9 1647.72L689.9 1646.15L689.9 1648L690.9 1645.89L690.9 1648.02L691.9 1646.28L691.9 1647.58L692.9 1646.38L692.9 1648.11L693.9 1645.62L693.9 1647.73L694.9 1645.7L694.9 1647.58L695.9 1646.35L695.9 1647.91L696.9 1645.92L696.9 1647.29L697.9 1646.2L697.9 1647.37L698.9 1646.08L698.9 1647.88L699.9 1646.51L699.9 1647.59L700.9 1646.22L700.9 1648.69L701.9 1646.17L701.9 1647.35L702.9 1646.52L702.9 1648.46L703.9 1645.94L703.9 1647.55L704.9 1645.51L704.9 1647.87L705.9 1645.65L705.9 1647.9L706.9 1646.12L706.9 1647.33L707.9 1646.49L707.9 1647.53L708.9 1646.3L708.9 1647.57L709.9 1645.44L709.9 1647.92L710.9 1645.76L710.9 1647.89L711.9 1646.48L711.9 1647.86L712.9 1645.96L712.9 1647.61L713.9 1646.18L713.9 1647.53L714.9 1645.84L714.9 1647.5L715.9 1646.2L715.9 1647.28L716.9 1646.34L716.9 1647.46L717.9 1646.27L717.9 1647.63L718.9 1646.3L718.9 1647.46L719.9 1645.45L719.9 1647.85L720.9 1646.13L720.9 1647.57L721.9 1646.26L721.9 1650.21L722.9 1645.98L722.9 1647.34L723.9 1646.16L723.9 1648.06L724.9 1645.67L724.9 1648.86L725.9 1646.25L725.9 1647.81L726.9 1646.29L726.9 1648.03L727.9 1646.53L727.9 1647.79L728.9 1645.62L728.9 1647.39L729.9 1646.21L729.9 1648.28L730.9 1643.84L730.9 1647.65L731.9 1646.53L731.9 1647.94L732.9 1646.48L732.9 1647.87L733.9 1646.36L733.9 1647.52L734.9 1645.53L734.9 1647.37L735.9 1646.33L735.9 1647.45L736.9 1646.34L736.9 1648.53L737.9 1646.11L737.9 1647.58L738.9 1646.44L738.9 1647.52L739.9 1646.42L739.9 1647.54L740.9 1646.1L740.9 1647.34L741.9 1645.93L741.9 1647.56L742.9 1645.74L742.9 1649.69L743.9 1646.14L743.9 1647.47L744.9 1645.98L744.9 1647.56L745.9 1646.48L745.9 1647.42L746.9 1646.01L746.9 1647.42L747.9 1646.27L747.9 1647.82L748.9 1646.44L748.9 1647.66L749.9 1646.14L749.9 1647.47L750.9 1646.45L750.9 1647.28L751.9 1645.24L751.9 1647.64L752.9 1645.87L752.9 1647.46L753.9 1645.87L753.9 1647.82L754.9 1646.17L754.9 1648.38L755.9 1645.76L755.9 1647.37L756.9 1646.38L756.9 1648.61L757.9 1646.22L757.9 1647.28L758.9 1646.27L758.9 1647.64L759.9 1645.87L759.9 1647.63L760.9 1645.54L760.9 1647.3L761.9 1646.49L761.9 1647.72L762.9 1646.28L762.9 1648.27L763.9 1646.19L763.9 1647.93L764.9 1646.31L764.9 1647.46L765.9 1646.23L765.9 1648.25L766.9 1644.18L766.9 1647.98L767.9 1646.37L767.9 1647.3L768.9 1646.18L768.9 1647.47L769.9 1645.58L769.9 1648.11L770.9 1645.9L770.9 1648.02L771.9 1646.51L771.9 1648.03L772.9 1645.81L772.9 1647.77L773.9 1645.96L773.9 1647.43L774.9 1645.83L774.9 1647.61L775.9 1646.21L775.9 1647.8L776.9 1646.33L776.9 1648.27L777.9 1646.02L777.9 1647.64L778.9 1645.86L778.9 1648.22L779.9 1645.47L779.9 1648.88L780.9 1646.33L780.9 1648.36L781.9 1646.13L781.9 1647.27L782.9 1645.91L782.9 1648.5L783.9 1645.84L783.9 1647.25L784.9 1645.55L784.9 1647.26L785.9 1644.15L785.9 1647.71L786.9 1645.71L786.9 1647.45L787.9 1646.16L787.9 1647.95L788.9 1645.49L788.9 1647.42L789.9 1646.06L789.9 1648.18L790.9 1646.44L790.9 1648.17L791.9 1646.46L791.9 1648.04L792.9 1645.46L792.9 1647.64L793.9 1646.28L793.9 1647.36L794.9 1644.1L794.9 1647.76L795.9 1646.09L795.9 1647.84L796.9 1645.92L796.9 1647.29L797.9 1645.84L797.9 1647.59L798.9 1646.28L798.9 1647.78L799.9 1646.49L799.9 1647.7L800.9 1646.15L800.9 1647.28L801.9 1646.41L801.9 1649.11L802.9 1645.66L802.9 1648.33L803.9 1646.39L803.9 1647.67L804.9 1646.37L804.9 1647.95L805.9 1646.41L805.9 1648.64L806.9 1646.14L806.9 1648.28L807.9 1645.94L807.9 1647.66L808.9 1646.49L808.9 1647.34L809.9 1645.62L809.9 1647.42L810.9 1646.38L810.9 1647.9L811.9 1646.31L811.9 1647.55L812.9 1646.16L812.9 1647.9L813.9 1645.98L813.9 1647.88L814.9 1645.95L814.9 1647.35L815.9 1645.63L815.9 1647.44L816.9 1646.06L816.9 1648.04L817.9 1646.04L817.9 1647.98L818.9 1646.42L818.9 1647.62L819.9 1644.3L819.9 1648.16L820.9 1646.41L820.9 1647.33L821.9 1646.55L821.9 1649.57L822.9 1645.6L822.9 1647.89L823.9 1646.35L823.9 1647.51L824.9 1646.25L824.9 1647.54L825.9 1646.03L825.9 1647.38L826.9 1646.54L826.9 1647.9L827.9 1646.45L827.9 1647.65L828.9 1646.38L828.9 1647.28L829.9 1646.12L829.9 1647.39L830.9 1646.16L830.9 1647.66L831.9 1646.48L831.9 1647.85L832.9 1645.75L832.9 1649.18L833.9 1646.3L833.9 1647.55L834.9 1646.46L834.9 1647.27L835.9 1645.54L835.9 1647.42L836.9 1645.55L836.9 1648.07L837.9 1645.98L837.9 1647.79L838.9 1645.05L838.9 1647.77L839.9 1646.05L839.9 1648.21L840.9 1645.59L840.9 1647.54L841.9 1646.48L841.9 1650.06L842.9 1645.79L842.9 1647.67L843.9 1646.53L843.9 1647.85L844.9 1646.02L844.9 1648.01L845.9 1645.59L845.9 1647.58L846.9 1646.43L846.9 1648.09L847.9 1646.43L847.9 1647.86L848.9 1646.39L848.9 1647.94L849.9 1646.51L849.9 1647.42L850.9 1646.1L850.9 1647.66L851.9 1646.51L851.9 1647.59L852.9 1646.18L852.9 1647.57L853.9 1646.36L853.9 1649.88L854.9 1646.14L854.9 1647.36L855.9 1646.53L855.9 1647.84L856.9 1646.38L856.9 1648.21L857.9 1645.7L857.9 1647.6L858.9 1646.36L858.9 1649.13L859.9 1645.27L859.9 1648.37L860.9 1645.97L860.9 1647.85L861.9 1645.43L861.9 1647.58L862.9 1646.11L862.9 1648.15L863.9 1646L863.9 1647.61L864.9 1645.58L864.9 1647.82L865.9 1645.93L865.9 1647.62L866.9 1645.25L866.9 1647.4L867.9 1646.46L867.9 1647.31L868.9 1646.2L868.9 1648.23L869.9 1646.52L869.9 1647.97L870.9 1646.3L870.9 1647.27L871.9 1646.17L871.9 1647.33L872.9 1646.17L872.9 1649.41L873.9 1644.31L873.9 1647.3L874.9 1646.55L874.9 1647.46L875.9 1645.85L875.9 1647.83L876.9 1646.02L876.9 1647.61L877.9 1646.48L877.9 1647.94L878.9 1646.23L878.9 1647.28L879.9 1645.98L879.9 1647.55L880.9 1646.16L880.9 1648.19L881.9 1646.49L881.9 1648.31L882.9 1645.98L882.9 1647.68L883.9 1646.47L883.9 1647.3L884.9 1646.19L884.9 1647.45L885.9 1645.87L885.9 1648.28L886.9 1645.69L886.9 1648.19L887.9 1646.34L887.9 1647.59L888.9 1645.42L888.9 1647.69L889.9 1645.86L889.9 1647.55L890.9 1645.4L890.9 1647.52L891.9 1646.42L891.9 1647.38L892.9 1645.63L892.9 1647.81L893.9 1645.71L893.9 1647.38L894.9 1645.94L894.9 1647.9L895.9 1645.93L895.9 1647.26L896.9 1646.28L896.9 1647.62L897.9 1646.16L897.9 1647.3L898.9 1646.23L898.9 1647.62L899.9 1645.99L899.9 1648.24L900.9 1646.15L900.9 1647.91L901.9 1646.27L901.9 1647.61L902.9 1645.97L902.9 1647.98L903.9 1645.73L903.9 1647.37L904.9 1646.44L904.9 1647.26L905.9 1645.78L905.9 1647.5L906.9 1645.92L906.9 1647.48L907.9 1645.71L907.9 1647.76L908.9 1646.29L908.9 1647.87L909.9 1646.25L909.9 1647.74L910.9 1644.75L910.9 1647.85L911.9 1646.5L911.9 1647.45L912.9 1646.04L912.9 1648.28L913.9 1645.15L913.9 1647.75L914.9 1646.54L914.9 1647.36L915.9 1645.36L915.9 1647.77L916.9 1646.24L916.9 1647.77L917.9 1645.97L917.9 1647.74L918.9 1646.19L918.9 1647.38L919.9 1645.46L919.9 1647.85L920.9 1645.49L920.9 1647.39L921.9 1646.1L921.9 1647.53L922.9 1646.2L922.9 1647.33L923.9 1646.09L923.9 1648.3L924.9 1646.32L924.9 1648.33L925.9 1646.13L925.9 1647.76L926.9 1646.53L926.9 1647.29L927.9 1646.35L927.9 1648.16L928.9 1645.82L928.9 1647.34L929.9 1646.06L929.9 1647.76L930.9 1646.25L930.9 1647.77L931.9 1646.5L931.9 1647.38L932.9 1645.44L932.9 1647.84L933.9 1646.07L933.9 1647.73L934.9 1646.07L934.9 1647.4L935.9 1645.4L935.9 1647.54L936.9 1646.12L936.9 1647.27L937.9 1646.02L937.9 1647.59L938.9 1644.52L938.9 1647.61L939.9 1646.44L939.9 1647.48L940.9 1646.51L940.9 1647.97L941.9 1645.59L941.9 1647.47L942.9 1646.55L942.9 1647.56L943.9 1645.7L943.9 1647.66L944.9 1644.44L944.9 1647.66L945.9 1646.38L945.9 1647.28L946.9 1646.14L946.9 1648.27L947.9 1646.25L947.9 1648.18L948.9 1646.47L948.9 1647.97L949.9 1646.39L949.9 1647.26L950.9 1646.45L950.9 1647.98L951.9 1646.53L951.9 1647.78L952.9 1645.82L952.9 1648.4L953.9 1645.57L953.9 1647.95L954.9 1646.36L954.9 1648.54L955.9 1646.51L955.9 1648.45L956.9 1646.46L956.9 1647.77L957.9 1646.28L957.9 1649.67L958.9 1645.94L958.9 1647.77L959.9 1646.4L959.9 1647.7L960.9 1646.24L960.9 1649.46L961.9 1646.17L961.9 1647.82L962.9 1645.81L962.9 1647.37L963.9 1646.32L963.9 1647.67L964.9 1645.78L964.9 1647.56L965.9 1646.49L965.9 1649.33L966.9 1646.05L966.9 1647.32L967.9 1645L967.9 1647.83L968.9 1646.37L968.9 1647.41L969.9 1645.85L969.9 1648.4L970.9 1645.43L970.9 1647.38L971.9 1646.43L971.9 1647.88L972.9 1645.4L972.9 1647.32L973.9 1645.62L973.9 1647.26L974.9 1645.54L974.9 1649.33L975.9 1644.88L975.9 1647.36L976.9 1645.72L976.9 1647.72L977.9 1646.35L977.9 1648.05L978.9 1645.97L978.9 1647.46L979.9 1645.78L979.9 1647.9L980.9 1646.3L980.9 1648.19L981.9 1646.49L981.9 1647.27L982.9 1646.25L982.9 1647.94L983.9 1645.7L983.9 1647.65L984.9 1645.79L984.9 1648.49L985.9 1645.44L985.9 1648.35L986.9 1646.54L986.9 1647.25L987.9 1644.15L987.9 1647.93L988.9 1646.04L988.9 1647.85L989.9 1645.88L989.9 1647.54L990.9 1646.02L990.9 1647.85L991.9 1645.95L991.9 1647.71L992.9 1645.81L992.9 1647.73L993.9 1646.55L993.9 1647.7L994.9 1646.23L994.9 1647.69L995.9 1645.78L995.9 1648.75L996.9 1646.49L996.9 1647.63L997.9 1646.35L997.9 1647.58L998.9 1646.37L998.9 1647.31L999.9 1646.31L999.9 1648.29L1000.9 1646.26L1000.9 1647.35L1001.9 1646.42L1001.9 1647.35L1002.9 1646.45L1002.9 1647.36L1003.9 1645.91L1003.9 1648.42L1004.9 1645.62L1004.9 1647.55L1005.9 1646.51L1005.9 1647.8L1006.9 1645.81L1006.9 1649.28L1007.9 1646.47L1007.9 1647.98L1008.9 1646.17L1008.9 1647.33L1009.9 1645.62L1009.9 1647.99L1010.9 1646.09L1010.9 1647.52L1011.9 1645.96L1011.9 1647.6L1012.9 1646.35L1012.9 1647.28L1013.9 1646.2L1013.9 1647.38L1014.9 1646.04L1014.9 1647.86L1015.9 1646.37L1015.9 1647.93L1016.9 1646.54L1016.9 1648.39L1017.9 1645.88L1017.9 1648.43L1018.9 1645.94L1018.9 1647.36L1019.9 1646.38L1019.9 1647.58L1020.9 1646.36L1020.9 1647.28L1021.9 1646.41L1021.9 1647.91L1022.9 1646.38L1022.9 1648.25L1023.9 1646.02L1023.9 1647.99L1024.9 1645.81L1024.9 1648.15L1025.9 1646.47L1025.9 1647.69L1026.9 1646.55L1026.9 1647.56L1027.9 1643.86L1027.9 1647.76L1028.9 1646.46L1028.9 1647.3L1029.9 1646.31L1029.9 1648.23L1030.9 1646.3L1030.9 1647.43L1031.9 1646.3L1031.9 1647.65L1032.9 1645.18L1032.9 1647.42L1033.9 1646.45L1033.9 1647.53L1034.9 1646.25L1034.9 1647.75L1035.9 1646.41L1035.9 1647.72L1036.9 1646.38L1036.9 1648.19L1037.9 1645.72L1037.9 1647.98L1038.9 1646.4L1038.9 1648.03L1039.9 1643.6L1039.9 1647.37L1040.9 1645.05L1040.9 1647.83L1041.9 1646.47L1041.9 1648.02L1042.9 1645.72L1042.9 1647.54L1043.9 1646.41L1043.9 1647.54L1044.9 1646.32L1044.9 1647.98L1045.9 1645.82L1045.9 1647.61L1046.9 1645.7L1046.9 1647.72L1047.9 1646.42L1047.9 1648.05L1048.9 1646.34L1048.9 1647.81L1049.9 1645.96L1049.9 1647.38L1050.9 1646.11L1050.9 1647.5L1051.9 1645.95L1051.9 1647.73L1052.9 1645.72L1052.9 1647.66L1053.9 1646.25L1053.9 1647.32L1054.9 1646.06L1054.9 1647.76L1055.9 1645.66L1055.9 1647.25L1056.9 1646.27L1056.9 1647.54L1057.9 1646.51L1057.9 1647.51L1058.9 1645.08L1058.9 1648L1059.9 1646.37L1059.9 1647.83L1060.9 1646.31L1060.9 1647.87L1061.9 1645.66L1061.9 1647.38L1062.9 1645.23L1062.9 1647.5L1063.9 1646.29L1063.9 1647.6L1064.9 1644.25L1064.9 1647.68L1065.9 1645.37L1065.9 1647.51L1066.9 1644.37L1066.9 1648.27L1067.9 1646.12L1067.9 1647.6L1068.9 1643.61L1068.9 1647.3L1069.9 1646.06L1069.9 1647.36L1070.9 1646.49L1070.9 1647.53L1071.9 1645.67L1071.9 1647.41L1072.9 1646.01L1072.9 1647.66L1073.9 1645.78L1073.9 1647.98L1074.9 1646.02L1074.9 1647.64L1075.9 1646.07L1075.9 1648.13L1076.9 1644.05L1076.9 1647.57L1077.9 1646.29L1077.9 1647.71L1078.9 1645.88L1078.9 1647.75L1079.9 1645.34L1079.9 1647.31L1080.9 1646.41L1080.9 1648.81L1081.9 1645.9L1081.9 1647.99L1082.9 1646.44L1082.9 1647.41L1083.9 1645.87L1083.9 1647.76L1084.9 1645.61L1084.9 1648.3L1085.9 1645.67L1085.9 1647.86L1086.9 1646.5L1086.9 1647.8L1087.9 1646.14L1087.9 1647.6L1088.9 1646.03L1088.9 1647.28L1089.9 1646.07L1089.9 1647.95L1090.9 1646.43L1090.9 1647.96L1091.9 1645.82L1091.9 1647.39L1092.9 1645.25L1092.9 1647.95L1093.9 1646.32L1093.9 1647.27L1094.9 1646.14L1094.9 1648.46L1095.9 1646.53L1095.9 1647.28L1096.9 1645.19L1096.9 1647.62L1097.9 1646.46L1097.9 1648.44L1098.9 1645.89L1098.9 1648.26L1099.9 1646.08L1099.9 1647.93L1100.9 1643.85L1100.9 1647.59L1101.9 1646.22L1101.9 1648L1102.9 1646.27L1102.9 1647.91L1103.9 1646.39L1103.9 1647.28L1104.9 1645.95L1104.9 1648L1105.9 1646.3L1105.9 1647.72L1106.9 1645.69L1106.9 1649.54L1107.9 1645.85L1107.9 1647.26L1108.9 1645.56L1108.9 1648.17L1109.9 1646.22L1109.9 1647.72L1110.9 1645.85L1110.9 1647.5L1111.9 1646.21L1111.9 1648.07L1112.9 1646.18L1112.9 1647.73L1113.9 1645.81L1113.9 1647.57L1114.9 1646.32L1114.9 1647.63L1115.9 1644.38L1115.9 1648.07L1116.9 1646.46L1116.9 1647.65L1117.9 1646.05L1117.9 1647.49L1118.9 1645.24L1118.9 1647.28L1119.9 1646.18L1119.9 1647.46L1120.9 1646.17L1120.9 1647.3L1121.9 1645.45L1121.9 1647.62L1122.9 1646.49L1122.9 1647.99L1123.9 1646.19L1123.9 1647.77L1124.9 1645.09L1124.9 1648.34L1125.9 1646.43L1125.9 1647.93L1126.9 1646.25L1126.9 1648.04L1127.9 1646.29L1127.9 1647.78L1128.9 1645.36L1128.9 1647.96L1129.9 1645.25L1129.9 1648.78L1130.9 1646.01L1130.9 1647.77L1131.9 1645.69L1131.9 1647.28L1132.9 1645.27L1132.9 1647.51L1133.9 1645.66L1133.9 1648.13L1134.9 1646.35L1134.9 1647.97L1135.9 1645.52L1135.9 1647.33L1136.9 1645.83L1136.9 1647.89L1137.9 1644.72L1137.9 1647.94L1138.9 1646.35L1138.9 1647.46L1139.9 1646.52L1139.9 1647.93L1140.9 1644.85L1140.9 1647.36L1141.9 1644.92L1141.9 1648.44L1142.9 1646.01L1142.9 1647.9L1143.9 1646.2L1143.9 1648.25L1144.9 1646.35L1144.9 1647.97L1145.9 1646.48L1145.9 1647.44L1146.9 1645.38L1146.9 1647.97L1147.9 1646.16L1147.9 1648.46L1148.9 1646.02L1148.9 1648.01L1149.9 1646.15L1149.9 1647.91L1150.9 1645.98L1150.9 1647.61L1151.9 1645.52L1151.9 1648.37L1152.9 1646.24L1152.9 1647.27L1153.9 1645.72L1153.9 1647.63L1154.9 1646.14L1154.9 1648.1L1155.9 1645.95L1155.9 1648.21L1156.9 1646.48L1156.9 1647.79L1157.9 1645.96L1157.9 1647.48L1158.9 1646.38L1158.9 1648.24L1159.9 1645.77L1159.9 1647.96L1160.9 1645.56L1160.9 1647.76L1161.9 1645.18L1161.9 1647.69L1162.9 1645.45L1162.9 1647.86L1163.9 1646.5L1163.9 1647.83L1164.9 1646.37L1164.9 1647.6L1165.9 1645.68L1165.9 1647.6L1166.9 1646.16L1166.9 1647.27L1167.9 1646.34L1167.9 1647.41L1168.9 1643.82L1168.9 1647.33L1169.9 1646.32L1169.9 1647.29L1170.9 1646.41L1170.9 1648.11L1171.9 1646.03L1171.9 1648.28L1172.9 1646.5L1172.9 1647.44L1173.9 1646.27L1173.9 1647.25L1174.9 1646.42L1174.9 1648.04L1175.9 1645.82L1175.9 1647.76L1176.9 1646.08L1176.9 1647.37L1177.9 1645.12L1177.9 1647.65L1178.9 1644.13L1178.9 1647.6L1179.9 1645.8L1179.9 1647.84L1180.9 1646.06L1180.9 1647.34L1181.9 1645.51L1181.9 1649.29L1182.9 1646.13L1182.9 1648.77L1183.9 1646.07L1183.9 1647.4L1184.9 1646.34L1184.9 1647.46L1185.9 1646.37L1185.9 1648.05L1186.9 1646.07L1186.9 1647.59L1187.9 1645.69L1187.9 1647.59L1188.9 1646.2L1188.9 1647.69L1189.9 1646.09L1189.9 1647.28L1190.9 1645.78L1190.9 1647.62L1191.9 1645.54L1191.9 1647.38L1192.9 1646.44L1192.9 1648.04L1193.9 1646.21L1193.9 1648.52L1194.9 1646.24L1194.9 1648L1195.9 1646.31L1195.9 1649.91L1196.9 1646L1196.9 1648.62L1197.9 1645.98L1197.9 1648.45L1198.9 1646.33L1198.9 1648.64L1199.9 1644.55L1199.9 1647.42L1200.9 1646.18L1200.9 1648.2L1201.9 1646.38L1201.9 1647.71L1202.9 1643.83L1202.9 1648.2L1203.9 1645.84L1203.9 1647.29L1204.9 1645.99L1204.9 1647.8L1205.9 1645.95L1205.9 1647.43L1206.9 1646.23L1206.9 1648.22L1207.9 1646.1L1207.9 1647.52L1208.9 1646.42L1208.9 1648.35L1209.9 1646.08L1209.9 1647.48L1210.9 1646.24L1210.9 1648.02L1211.9 1646.4L1211.9 1647.41L1212.9 1646.19L1212.9 1647.56L1213.9 1646.23L1213.9 1648.14L1214.9 1646.37L1214.9 1647.39L1215.9 1645.76L1215.9 1647.86L1216.9 1645.54L1216.9 1647.31L1217.9 1646.08L1217.9 1647.29L1218.9 1646.12L1218.9 1647.66L1219.9 1646.24L1219.9 1647.52L1220.9 1646.37L1220.9 1649.32L1221.9 1645.92L1221.9 1648.29L1222.9 1646.11L1222.9 1647.41L1223.9 1646.22L1223.9 1647.92L1224.9 1646.47L1224.9 1647.87L1225.9 1645.98L1225.9 1647.47L1226.9 1646.44L1226.9 1647.77L1227.9 1646.37L1227.9 1647.6L1228.9 1644.84L1228.9 1647.87L1229.9 1645.98L1229.9 1648.19L1230.9 1646.4L1230.9 1647.48L1231.9 1646.1L1231.9 1647.6L1232.9 1644.38L1232.9 1647.77L1233.9 1645.99L1233.9 1647.71L1234.9 1646.18L1234.9 1647.91L1235.9 1645.59L1235.9 1647.52L1236.9 1645.6L1236.9 1647.78L1237.9 1645.86L1237.9 1648.73L1238.9 1645.98L1238.9 1648.08L1239.9 1645.36L1239.9 1647.96L1240.9 1645.95L1240.9 1647.26L1241.9 1645.69L1241.9 1647.51L1242.9 1646.03L1242.9 1650.41L1243.9 1646.08L1243.9 1647.75L1244.9 1646.52L1244.9 1647.86L1245.9 1646.09L1245.9 1647.58L1246.9 1646.45L1246.9 1649.02L1247.9 1645.98L1247.9 1647.64L1248.9 1645.52L1248.9 1648.19L1249.9 1645.69L1249.9 1647.35L1250.9 1646.03L1250.9 1648.79L1251.9 1646.22L1251.9 1647.64L1252.9 1646.03L1252.9 1647.51L1253.9 1645.73L1253.9 1648.56L1254.9 1646.29L1254.9 1648.5L1255.9 1646L1255.9 1647.7L1256.9 1646.04L1256.9 1647.92L1257.9 1645.47L1257.9 1647.91L1258.9 1645.11L1258.9 1647.41L1259.9 1646.16L1259.9 1648.05L1260.9 1646.5L1260.9 1647.46L1261.9 1646.43L1261.9 1647.38L1262.9 1646.52L1262.9 1648.16L1263.9 1646.12L1263.9 1647.86L1264.9 1646.18L1264.9 1648.42L1265.9 1645.29L1265.9 1647.32L1266.9 1646.5L1266.9 1647.4L1267.9 1646.44L1267.9 1647.54L1268.9 1645.77L1268.9 1647.45L1269.9 1646.34L1269.9 1647.87L1270.9 1646.14L1270.9 1647.53L1271.9 1646.14L1271.9 1647.66L1272.9 1646.47L1272.9 1647.33L1273.9 1644.63L1273.9 1648.29L1274.9 1646.3L1274.9 1648.03L1275.9 1646.09L1275.9 1647.88L1276.9 1645.8L1276.9 1648.27L1277.9 1645.97L1277.9 1648.45L1278.9 1646.11L1278.9 1648.71L1279.9 1646.53L1279.9 1647.4L1280.9 1645.96L1280.9 1647.71L1281.9 1645.52L1281.9 1647.49L1282.9 1646.27L1282.9 1647.66L1283.9 1646.32L1283.9 1648.4L1284.9 1644.92L1284.9 1647.41L1285.9 1646.54L1285.9 1647.43L1286.9 1645.93L1286.9 1647.41L1287.9 1644.85L1287.9 1647.89L1288.9 1645.98L1288.9 1647.42L1289.9 1646.09L1289.9 1647.89L1290.9 1645.95L1290.9 1647.91L1291.9 1646.37L1291.9 1647.57L1292.9 1646.48L1292.9 1647.59L1293.9 1645.56L1293.9 1648.26L1294.9 1646.35L1294.9 1648.4L1295.9 1645.32L1295.9 1647.35L1296.9 1645.89L1296.9 1647.55L1297.9 1646.26L1297.9 1647.95L1298.9 1645.95L1298.9 1648.9L1299.9 1646.23L1299.9 1647.61L1300.9 1646.4L1300.9 1647.38L1301.9 1646.28L1301.9 1647.33L1302.9 1644.49L1302.9 1647.95L1303.9 1646.45L1303.9 1647.46L1304.9 1646.36L1304.9 1647.75L1305.9 1646.35L1305.9 1647.33L1306.9 1645.83L1306.9 1647.26L1307.9 1646.03L1307.9 1649.95L1308.9 1645.52L1308.9 1647.26L1309.9 1646.54L1309.9 1648.83L1310.9 1646.45L1310.9 1647.29L1311.9 1646.48L1311.9 1647.65L1312.9 1646.29L1312.9 1647.32L1313.9 1645.22L1313.9 1647.9L1314.9 1646.3L1314.9 1647.95L1315.9 1645.89L1315.9 1648.07L1316.9 1646.44L1316.9 1647.63L1317.9 1646.3L1317.9 1647.58L1318.9 1646.35L1318.9 1647.39L1319.9 1646.36L1319.9 1649.62L1320.9 1646.53L1320.9 1648.57L1321.9 1646.48L1321.9 1648.14L1322.9 1646.44L1322.9 1647.26L1323.9 1646.18L1323.9 1649.55L1324.9 1645.94L1324.9 1648.77L1325.9 1646.46L1325.9 1647.95L1326.9 1643.9L1326.9 1647.89L1327.9 1646.4L1327.9 1648.61L1328.9 1646.44L1328.9 1647.51L1329.9 1646.05L1329.9 1647.66L1330.9 1646.47L1330.9 1648.76L1331.9 1646.3L1331.9 1648.48L1332.9 1646.07L1332.9 1647.88L1333.9 1645.74L1333.9 1648.19L1334.9 1644.08L1334.9 1647.83L1335.9 1645.84L1335.9 1647.62L1336.9 1646.16L1336.9 1647.41L1337.9 1646.17L1337.9 1648.8L1338.9 1646.36L1338.9 1647.43L1339.9 1646.3L1339.9 1648.03L1340.9 1645.46L1340.9 1647.52L1341.9 1646.09L1341.9 1647.63L1342.9 1645.6L1342.9 1650.26L1343.9 1646.1L1343.9 1648.78L1344.9 1646.23L1344.9 1647.83L1345.9 1646.53L1345.9 1649.28L1346.9 1646.21L1346.9 1647.39L1347.9 1646.28L1347.9 1648.12L1348.9 1645.85L1348.9 1648.72L1349.9 1646.15L1349.9 1647.3L1350.9 1646.08L1350.9 1649.57L1351.9 1646.47L1351.9 1647.87L1352.9 1646.18L1352.9 1647.67L1353.9 1646.35L1353.9 1647.51L1354.9 1645.78L1354.9 1648.24L1355.9 1644.41L1355.9 1647.28L1356.9 1646.29L1356.9 1647.31L1357.9 1646.52L1357.9 1647.37L1358.9 1646.18L1358.9 1647.39L1359.9 1646.48L1359.9 1648.12L1360.9 1646.28L1360.9 1647.61L1361.9 1646.11L1361.9 1647.26L1362.9 1645.45L1362.9 1648.09L1363.9 1646.42L1363.9 1647.72L1364.9 1645.87L1364.9 1647.31L1365.9 1644.83L1365.9 1647.79L1366.9 1646.12L1366.9 1647.26L1367.9 1646.54L1367.9 1647.39L1368.9 1645.92L1368.9 1647.46L1369.9 1646.02L1369.9 1648.6L1370.9 1646.38L1370.9 1647.25L1371.9 1645.48L1371.9 1647.8L1372.9 1646.2L1372.9 1647.81L1373.9 1646.1L1373.9 1647.61L1374.9 1646.16L1374.9 1648.62L1375.9 1646.2L1375.9 1648.58L1376.9 1646.25L1376.9 1647.59L1377.9 1646.47L1377.9 1647.38L1378.9 1646.1L1378.9 1648.23L1379.9 1646.09L1379.9 1647.83L1380.9 1644.43L1380.9 1647.65L1381.9 1646.18L1381.9 1648.17L1382.9 1645.86L1382.9 1647.39L1383.9 1646.31L1383.9 1647.27L1384.9 1645.35L1384.9 1647.43L1385.9 1646.16L1385.9 1648.17L1386.9 1645.36L1386.9 1649.35L1387.9 1646.47L1387.9 1647.3L1388.9 1646.36L1388.9 1647.29L1389.9 1646.16L1389.9 1647.82L1390.9 1646.42L1390.9 1648.06L1391.9 1646.27L1391.9 1647.36L1392.9 1645.59L1392.9 1647.75L1393.9 1646.21L1393.9 1648.03L1394.9 1646.48L1394.9 1647.71L1395.9 1646.46L1395.9 1647.52L1396.9 1645.98L1396.9 1647.28L1397.9 1646.3L1397.9 1647.96L1398.9 1645.52L1398.9 1647.49L1399.9 1646.3L1399.9 1647.64L1400.9 1645.46L1400.9 1648.01L1401.9 1646.15L1401.9 1647.62L1402.9 1645.95L1402.9 1648.18L1403.9 1645.95L1403.9 1647.39L1404.9 1646.14L1404.9 1649.15L1405.9 1646.45L1405.9 1648.15L1406.9 1645.92L1406.9 1648.25L1407.9 1644.97L1407.9 1648.74L1408.9 1646.48L1408.9 1648.29L1409.9 1646.52L1409.9 1647.39L1410.9 1646.42L1410.9 1647.58L1411.9 1646.43L1411.9 1647.99L1412.9 1645.84L1412.9 1648.6L1413.9 1646.4L1413.9 1648.3L1414.9 1645.47L1414.9 1647.55L1415.9 1645.57L1415.9 1648.12L1416.9 1645.98L1416.9 1647.99L1417.9 1646.12L1417.9 1647.8L1418.9 1646.3L1418.9 1647.62L1419.9 1645.89L1419.9 1648.27L1420.9 1646.35L1420.9 1647.42L1421.9 1646.3L1421.9 1647.47L1422.9 1645.24L1422.9 1647.27L1423.9 1645.87L1423.9 1647.26L1424.9 1646.02L1424.9 1647.33L1425.9 1646.38L1425.9 1647.84L1426.9 1646.07L1426.9 1648.09L1427.9 1646.08L1427.9 1647.62L1428.9 1646.34L1428.9 1647.89L1429.9 1645.55L1429.9 1649.44L1430.9 1645.57L1430.9 1647.46L1431.9 1646L1431.9 1647.69L1432.9 1646.1L1432.9 1647.72L1433.9 1646.13L1433.9 1647.46L1434.9 1646.15L1434.9 1647.68L1435.9 1646.34L1435.9 1647.53L1436.9 1646.13L1436.9 1647.48L1437.9 1645.33L1437.9 1647.4L1438.9 1645.91L1438.9 1647.29L1439.9 1646.47L1439.9 1647.72L1440.9 1646.51L1440.9 1648.24L1441.9 1646.15L1441.9 1647.36L1442.9 1646.23L1442.9 1648.01L1443.9 1646.45L1443.9 1647.36L1444.9 1646.04L1444.9 1647.79L1445.9 1645.48L1445.9 1647.36L1446.9 1646.15L1446.9 1647.55L1447.9 1646.15L1447.9 1647.93L1448.9 1646.26L1448.9 1647.74L1449.9 1645.93L1449.9 1647.77L1450.9 1645.66L1450.9 1647.61L1451.9 1645.34L1451.9 1647.73L1452.9 1645.15L1452.9 1647.82L1453.9 1646.26L1453.9 1647.84L1454.9 1645.67L1454.9 1647.61L1455.9 1645.63L1455.9 1647.83L1456.9 1646.39L1456.9 1647.51L1457.9 1646.53L1457.9 1647.78L1458.9 1646.14L1458.9 1647.41L1459.9 1646.15L1459.9 1647.61L1460.9 1645.65L1460.9 1648.01L1461.9 1646.34L1461.9 1648.13L1462.9 1646.21L1462.9 1647.85L1463.9 1645.63L1463.9 1647.28L1464.9 1645.95L1464.9 1648.59L1465.9 1646.37L1465.9 1647.43L1466.9 1646.07L1466.9 1647.84L1467.9 1646.43L1467.9 1647.96L1468.9 1646.18L1468.9 1649.25L1469.9 1645.55L1469.9 1647.94L1470.9 1645.41L1470.9 1647.65L1471.9 1645.73L1471.9 1647.59L1472.9 1646.11L1472.9 1647.41L1473.9 1646.03L1473.9 1648.16L1474.9 1646.06L1474.9 1647.3L1475.9 1646.38L1475.9 1647.6L1476.9 1645.98L1476.9 1647.38L1477.9 1646.35L1477.9 1647.48L1478.9 1645.63L1478.9 1647.67L1479.9 1646.48L1479.9 1648.33L1480.9 1646.14L1480.9 1647.59L1481.9 1646.03L1481.9 1647.87L1482.9 1646.23L1482.9 1647.43L1483.9 1645.04L1483.9 1649.88L1484.9 1646.25L1484.9 1647.48L1485.9 1646.41L1485.9 1647.75L1486.9 1646.29L1486.9 1647.29L1487.9 1645.74L1487.9 1648.02L1488.9 1645.91L1488.9 1647.86L1489.9 1646.07L1489.9 1647.69L1490.9 1645.79L1490.9 1647.39L1491.9 1645.85L1491.9 1647.98L1492.9 1646.08L1492.9 1649.36L1493.9 1646.4L1493.9 1647.39L1494.9 1645.81L1494.9 1647.95L1495.9 1645.65L1495.9 1647.33L1496.9 1646.2L1496.9 1647.88L1497.9 1645.42L1497.9 1647.86L1498.9 1646.06L1498.9 1647.73L1499.9 1646.17L1499.9 1647.98L1500.9 1645.97L1500.9 1647.44L1501.9 1646.51L1501.9 1647.31L1502.9 1646.33L1502.9 1647.97L1503.9 1644.76L1503.9 1648.42L1504.9 1646.48L1504.9 1647.88L1505.9 1646.5L1505.9 1647.78L1506.9 1646.21L1506.9 1647.98L1507.9 1645.57L1507.9 1647.26L1508.9 1646.28L1508.9 1647.72L1509.9 1645.81L1509.9 1647.84L1510.9 1645.65L1510.9 1648.17L1511.9 1645.96L1511.9 1649.39L1512.9 1645.85L1512.9 1648.4L1513.9 1646.49L1513.9 1647.76L1514.9 1645.62L1514.9 1647.93L1515.9 1646.45L1515.9 1647.42L1516.9 1646.36L1516.9 1648.11L1517.9 1646.43L1517.9 1648.06L1518.9 1646.53L1518.9 1647.61L1519.9 1646.17L1519.9 1647.62L1520.9 1645.43L1520.9 1647.45L1521.9 1644.7L1521.9 1647.57L1522.9 1646.26L1522.9 1647.32L1523.9 1645.71L1523.9 1647.74L1524.9 1646.43L1524.9 1647.58L1525.9 1646.4L1525.9 1647.47L1526.9 1646.49L1526.9 1648.57L1527.9 1645.8L1527.9 1647.35L1528.9 1646.08L1528.9 1647.43L1529.9 1644.03L1529.9 1647.91L1530.9 1644.85L1530.9 1647.32L1531.9 1646.43L1531.9 1648.23L1532.9 1646.02L1532.9 1647.44L1533.9 1643.85L1533.9 1647.33L1534.9 1645.93L1534.9 1648.34L1535.9 1646.15L1535.9 1647.62L1536.9 1645.66L1536.9 1647.62L1537.9 1646.43L1537.9 1647.29L1538.9 1646.34L1538.9 1647.31L1539.9 1646.53L1539.9 1647.71L1540.9 1645.73L1540.9 1648.04L1541.9 1646.16L1541.9 1647.48L1542.9 1646.4L1542.9 1647.47L1543.9 1646.2L1543.9 1647.49L1544.9 1646.28L1544.9 1648.09L1545.9 1645.57L1545.9 1647.85L1546.9 1645.65L1546.9 1647.29L1547.9 1646.44L1547.9 1647.3L1548.9 1646.42L1548.9 1648.31L1549.9 1646.47L1549.9 1647.93L1550.9 1645.87L1550.9 1647.4L1551.9 1645.7L1551.9 1647.54L1552.9 1645.99L1552.9 1647.82L1553.9 1646.11L1553.9 1649.42L1554.9 1646.44L1554.9 1647.84L1555.9 1646.36L1555.9 1647.32L1556.9 1643.77L1556.9 1648.21L1557.9 1646.42L1557.9 1647.86L1558.9 1646.4L1558.9 1647.91L1559.9 1645.68L1559.9 1647.86L1560.9 1645.2L1560.9 1647.43L1561.9 1646L1561.9 1647.49L1562.9 1646.16L1562.9 1647.36L1563.9 1645.53L1563.9 1647.31L1564.9 1645.85L1564.9 1648.84L1565.9 1646.4L1565.9 1648.16L1566.9 1646.24L1566.9 1647.62L1567.9 1646.45L1567.9 1647.41L1568.9 1646.41L1568.9 1647.49L1569.9 1646.24L1569.9 1647.73L1570.9 1645.6L1570.9 1649.94L1571.9 1646.46L1571.9 1649.73L1572.9 1646.27L1572.9 1647.54L1573.9 1645.89L1573.9 1647.59L1574.9 1646.19L1574.9 1647.47L1575.9 1646.13L1575.9 1648.07L1576.9 1646.26L1576.9 1647.25L1577.9 1646.44L1577.9 1647.38L1578.9 1645L1578.9 1647.26L1579.9 1645.46L1579.9 1647.75L1580.9 1645.9L1580.9 1647.8L1581.9 1646.38L1581.9 1647.37L1582.9 1645.66L1582.9 1647.44L1583.9 1646.52L1583.9 1648.01L1584.9 1646.18L1584.9 1647.42L1585.9 1646.06L1585.9 1647.42L1586.9 1646.44L1586.9 1648.02L1587.9 1645.67L1587.9 1647.55L1588.9 1646.43L1588.9 1648.82L1589.9 1646.42L1589.9 1647.38L1590.9 1645.8L1590.9 1647.51L1591.9 1646.51L1591.9 1647.74L1592.9 1645.63L1592.9 1647.92L1593.9 1645.54L1593.9 1647.99L1594.9 1646.22L1594.9 1647.35L1595.9 1645.7L1595.9 1647.41L1596.9 1646.14L1596.9 1647.64L1597.9 1646.33L1597.9 1648.14L1598.9 1645.86L1598.9 1647.39L1599.9 1645.76L1599.9 1647.44L1600.9 1646.02L1600.9 1647.44L1601.9 1646.54L1601.9 1647.5L1602.9 1646.51L1602.9 1647.61L1603.9 1646.16L1603.9 1648.06L1604.9 1646.25L1604.9 1647.64L1605.9 1646.45L1605.9 1647.95L1606.9 1646.27L1606.9 1648.29L1607.9 1646.15L1607.9 1648.45L1608.9 1645.92L1608.9 1647.36L1609.9 1646.12L1609.9 1647.66L1610.9 1646.43L1610.9 1647.27L1611.9 1645.58L1611.9 1647.44L1612.9 1645.38L1612.9 1647.53L1613.9 1646.5L1613.9 1647.42L1614.9 1645.32L1614.9 1647.53L1615.9 1646.5L1615.9 1647.3L1616.9 1646.25L1616.9 1647.27L1617.9 1646.44L1617.9 1647.49L1618.9 1646.01L1618.9 1647.41L1619.9 1646.05L1619.9 1648.43L1620.9 1646.52L1620.9 1647.31L1621.9 1645.79L1621.9 1647.8L1622.9 1644.5L1622.9 1648.12L1623.9 1646.42L1623.9 1647.57L1624.9 1645.74L1624.9 1647.75L1625.9 1646.04L1625.9 1647.79L1626.9 1646.22L1626.9 1647.47L1627.9 1645.98L1627.9 1647.55L1628.9 1646.52L1628.9 1648.39L1629.9 1645.44L1629.9 1647.69L1630.9 1646.44L1630.9 1648.27L1631.9 1645.31L1631.9 1647.39L1632.9 1646.49L1632.9 1647.54L1633.9 1646.15L1633.9 1647.47L1634.9 1644.27L1634.9 1648.07L1635.9 1646.43L1635.9 1647.77L1636.9 1646.46L1636.9 1647.38L1637.9 1646.4L1637.9 1647.83L1638.9 1646.29L1638.9 1647.7L1639.9 1646.24L1639.9 1648.17L1640.9 1646.14L1640.9 1647.63L1641.9 1645.78L1641.9 1647.38L1642.9 1645.85L1642.9 1647.88L1643.9 1646.06L1643.9 1649.29L1644.9 1646.37L1644.9 1648.94L1645.9 1646.16L1645.9 1647.28L1646.9 1645.94L1646.9 1647.9L1647.9 1646.5L1647.9 1647.42L1648.9 1646.4L1648.9 1647.56L1649.9 1646.41L1649.9 1647.48L1650.9 1646.31L1650.9 1647.5L1651.9 1644.64L1651.9 1648.05L1652.9 1646.05L1652.9 1648.61L1653.9 1646.13L1653.9 1648.42L1654.9 1645.81L1654.9 1647.48L1655.9 1646.54L1655.9 1647.4L1656.9 1646.15L1656.9 1647.46L1657.9 1646.26L1657.9 1648.24L1658.9 1646.1L1658.9 1648.04L1659.9 1646.49L1659.9 1647.53L1660.9 1646.1L1660.9 1647.95L1661.9 1646.21L1661.9 1647.28L1662.9 1646.34L1662.9 1648.33L1663.9 1646.05L1663.9 1648.46L1664.9 1643.9L1664.9 1647.48L1665.9 1646.12L1665.9 1647.49L1666.9 1645.24L1666.9 1647.27L1667.9 1645.91L1667.9 1647.31L1668.9 1646.1L1668.9 1648.07L1669.9 1646.03L1669.9 1647.49L1670.9 1646.27L1670.9 1648.2L1671.9 1646.16L1671.9 1647.37L1672.9 1645.74L1672.9 1647.56L1673.9 1646.19L1673.9 1647.42L1674.9 1645.34L1674.9 1647.36L1675.9 1643.73L1675.9 1647.43L1676.9 1646.39L1676.9 1649.29L1677.9 1646.32L1677.9 1648.05L1678.9 1645.92L1678.9 1647.61L1679.9 1646.39L1679.9 1647.43L1680.9 1646.29L1680.9 1647.97L1681.9 1645.85L1681.9 1647.45L1682.9 1646.13L1682.9 1647.5L1683.9 1646.22L1683.9 1647.59L1684.9 1646.22L1684.9 1647.87L1685.9 1645.32L1685.9 1647.78L1686.9 1645.94L1686.9 1647.69L1687.9 1645.93L1687.9 1648.2L1688.9 1646.36L1688.9 1648.26L1689.9 1646.27L1689.9 1647.86L1690.9 1645.2L1690.9 1647.69L1691.9 1646.42L1691.9 1647.51L1692.9 1646.08L1692.9 1647.31L1693.9 1645.43L1693.9 1647.33L1694.9 1646.4L1694.9 1647.75L1695.9 1645.35L1695.9 1647.26L1696.9 1646.44L1696.9 1647.27L1697.9 1646.1L1697.9 1647.85L1698.9 1646.05L1698.9 1647.36L1699.9 1646.33L1699.9 1647.92L1700.9 1645.52L1700.9 1647.53L1701.9 1646.33L1701.9 1647.83L1702.9 1646.03L1702.9 1649.16L1703.9 1646.29L1703.9 1651.16L1704.9 1646.54L1704.9 1648.2L1705.9 1645.53L1705.9 1648.32L1706.9 1645.56L1706.9 1647.66L1707.9 1646.12L1707.9 1647.52L1708.9 1645.69L1708.9 1647.91L1709.9 1646.26L1709.9 1647.27L1710.9 1646.14L1710.9 1649.19L1711.9 1646.09L1711.9 1647.44L1712.9 1643.71L1712.9 1647.76L1713.9 1646.23L1713.9 1650.22L1714.9 1646.32L1714.9 1647.41L1715.9 1645.97L1715.9 1647.29L1716.9 1646.06L1716.9 1647.99L1717.9 1646.19L1717.9 1647.37L1718.9 1645.45L1718.9 1647.56L1719.9 1645.89L1719.9 1648.62L1720.9 1645.99L1720.9 1649.12L1721.9 1646.22L1721.9 1647.72L1722.9 1645.87L1722.9 1647.59L1723.9 1645.85L1723.9 1647.36L1724.9 1646.22L1724.9 1647.61L1725.9 1646.14L1725.9 1647.6L1726.9 1646.42L1726.9 1647.53L1727.9 1643.95L1727.9 1648.48L1728.9 1646.16L1728.9 1647.46L1729.9 1645.68L1729.9 1648.01L1730.9 1645.9L1730.9 1647.25L1731.9 1646.31L1731.9 1647.84L1732.9 1644.5L1732.9 1647.56L1733.9 1645.61L1733.9 1647.52L1734.9 1645.39L1734.9 1647.56L1735.9 1646.52L1735.9 1647.58L1736.9 1645.65L1736.9 1647.73L1737.9 1646.5L1737.9 1647.45L1738.9 1644.26L1738.9 1647.57L1739.9 1646.33L1739.9 1647.91L1740.9 1645.9L1740.9 1647.69L1741.9 1645.87L1741.9 1647.31L1742.9 1646.07L1742.9 1647.65L1743.9 1646.5L1743.9 1647.56L1744.9 1645.7L1744.9 1647.57L1745.9 1646.01L1745.9 1647.6L1746.9 1645.67L1746.9 1647.31L1747.9 1646.41L1747.9 1647.6L1748.9 1646.27L1748.9 1647.94L1749.9 1646.11L1749.9 1649.48L1750.9 1646.39L1750.9 1647.39L1751.9 1645.93L1751.9 1647.41L1752.9 1646.38L1752.9 1647.6L1753.9 1646.41L1753.9 1647.3L1754.9 1646.03L1754.9 1647.99L1755.9 1646.24L1755.9 1647.99L1756.9 1645.26L1756.9 1647.39L1757.9 1646.43L1757.9 1647.47L1758.9 1643.63L1758.9 1647.77L1759.9 1646.12L1759.9 1647.35L1760.9 1645.33L1760.9 1647.67L1761.9 1645.88L1761.9 1647.35L1762.9 1644.21L1762.9 1647.49L1763.9 1646.39L1763.9 1647.27L1764.9 1646.39L1764.9 1647.45L1765.9 1645.87L1765.9 1647.84L1766.9 1645.5L1766.9 1648.24L1767.9 1645.94L1767.9 1647.67L1768.9 1645.18L1768.9 1647.43L1769.9 1646.49L1769.9 1647.92L1770.9 1646.51L1770.9 1647.95L1771.9 1646.49L1771.9 1647.57L1772.9 1646.51L1772.9 1647.25L1773.9 1646.38L1773.9 1647.92L1774.9 1645.89L1774.9 1647.43L1775.9 1645.65L1775.9 1647.44L1776.9 1646.35L1776.9 1647.42L1777.9 1646.13L1777.9 1648.65L1778.9 1644.18L1778.9 1647.78L1779.9 1646.06L1779.9 1647.35L1780.9 1646.19L1780.9 1647.28L1781.9 1646.5L1781.9 1647.64L1782.9 1646.22L1782.9 1647.43L1783.9 1645.91L1783.9 1647.67L1784.9 1646.51L1784.9 1647.84L1785.9 1646.43L1785.9 1647.49L1786.9 1645.96L1786.9 1647.4L1787.9 1646.45L1787.9 1647.95L1788.9 1645.5L1788.9 1647.72L1789.9 1645.66L1789.9 1647.41L1790.9 1645.04L1790.9 1647.67L1791.9 1646.49L1791.9 1648.61L1792.9 1646.13L1792.9 1647.36L1793.9 1646.24L1793.9 1647.77L1794.9 1645.77L1794.9 1647.44L1795.9 1645.94L1795.9 1648.55L1796.9 1646.43L1796.9 1647.98L1797.9 1646.39L1797.9 1647.67L1798.9 1646.33L1798.9 1647.94L1799.9 1646.16L1799.9 1648.26L1800.9 1645.95L1800.9 1647.96L1801.9 1645.53L1801.9 1647.66L1802.9 1646.37L1802.9 1647.74L1803.9 1645.92L1803.9 1648.86L1804.9 1646.33L1804.9 1647.41L1805.9 1646.53L1805.9 1647.37L1806.9 1646.2L1806.9 1647.75L1807.9 1646.02L1807.9 1647.85L1808.9 1646.24L1808.9 1648.19L1809.9 1646.46L1809.9 1647.96L1810.9 1646.15L1810.9 1648.01L1811.9 1646.03L1811.9 1647.78L1812.9 1645.96L1812.9 1647.34L1813.9 1646.4L1813.9 1647.5L1814.9 1646.45L1814.9 1647.32L1815.9 1646.32L1815.9 1647.3L1816.9 1646.45L1816.9 1649.95L1817.9 1646.53L1817.9 1647.61L1818.9 1644.34L1818.9 1647.47L1819.9 1646.14L1819.9 1647.51L1820.9 1645.92L1820.9 1647.59L1821.9 1646.26L1821.9 1647.37L1822.9 1646.18L1822.9 1647.29L1823.9 1646.08L1823.9 1648.55L1824.9 1643.03L1824.9 1647.67L1825.9 1645.64L1825.9 1647.56L1826.9 1646.21L1826.9 1648.4L1827.9 1646.39L1827.9 1647.3L1828.9 1646.31L1828.9 1648.04L1829.9 1646.41L1829.9 1647.47L1830.9 1645.43L1830.9 1647.7L1831.9 1646.32L1831.9 1647.61L1832.9 1645.92L1832.9 1647.77L1833.9 1646.14L1833.9 1647.3L1834.9 1645.77L1834.9 1647.45L1835.9 1646.18L1835.9 1647.4L1836.9 1646.24L1836.9 1647.3L1837.9 1646.38L1837.9 1647.26L1838.9 1646.38L1838.9 1647.79L1839.9 1645.96L1839.9 1649.99L1840.9 1646.14L1840.9 1647.38L1841.9 1646.49L1841.9 1648.08L1842.9 1646.27L1842.9 1647.93L1843.9 1645.94L1843.9 1647.88L1844.9 1646.38L1844.9 1647.56L1845.9 1646.19L1845.9 1647.42L1846.9 1645.58L1846.9 1647.46L1847.9 1646.21L1847.9 1647.36L1848.9 1646.26L1848.9 1647.62L1849.9 1646.01L1849.9 1649.06L1850.9 1646.18L1850.9 1647.97L1851.9 1645.89L1851.9 1647.7L1852.9 1646.45L1852.9 1648.8L1853.9 1646.3L1853.9 1647.87L1854.9 1646.2L1854.9 1648.19L1855.9 1645.68L1855.9 1648.29L1856.9 1645.4L1856.9 1647.66L1857.9 1646.17L1857.9 1647.68L1858.9 1646.36L1858.9 1647.44L1859.9 1645.5L1859.9 1647.58L1860.9 1645.79L1860.9 1647.3L1861.9 1646.45L1861.9 1647.41L1862.9 1646.37L1862.9 1648.63L1863.9 1646.36L1863.9 1647.83L1864.9 1646.45L1864.9 1648.3L1865.9 1646.24L1865.9 1648.27L1866.9 1646.46L1866.9 1647.86L1867.9 1646.16L1867.9 1647.65L1868.9 1646.41L1868.9 1648.48L1869.9 1645.67L1869.9 1647.96L1870.9 1646.27L1870.9 1647.71L1871.9 1646.44L1871.9 1647.73L1872.9 1646.06L1872.9 1649.45L1873.9 1646.39L1873.9 1647.53L1874.9 1646.14L1874.9 1647.77L1875.9 1645.56L1875.9 1647.88L1876.9 1646.39L1876.9 1648.36L1877.9 1646.18L1877.9 1647.82L1878.9 1646.37L1878.9 1647.78L1879.9 1646.23L1879.9 1647.68L1880.9 1646.09L1880.9 1647.54L1881.9 1646.18L1881.9 1647.56L1882.9 1646.42L1882.9 1647.92L1883.9 1645.71L1883.9 1647.99L1884.9 1646.15L1884.9 1647.36L1885.9 1645.64L1885.9 1647.66L1886.9 1646.37L1886.9 1647.33L1887.9 1645.91L1887.9 1648.43L1888.9 1646.36L1888.9 1648L1889.9 1645.83L1889.9 1648.84L1890.9 1643.74L1890.9 1647.69L1891.9 1645.94L1891.9 1647.55L1892.9 1645.34L1892.9 1647.65L1893.9 1645.44L1893.9 1647.89L1894.9 1646.51L1894.9 1648.4L1895.9 1646.49L1895.9 1648.05L1896.9 1646L1896.9 1647.98L1897.9 1645.8L1897.9 1647.84L1898.9 1645.71L1898.9 1647.72L1899.9 1645.95L1899.9 1649.45L1900.9 1646.18L1900.9 1648.02L1901.9 1645.9L1901.9 1648.12L1902.9 1646.13L1902.9 1647.56L1903.9 1645.1L1903.9 1647.42L1904.9 1646.42L1904.9 1648.68L1905.9 1646.19L1905.9 1647.39L1906.9 1644.05L1906.9 1647.43L1907.9 1645.51L1907.9 1647.41L1908.9 1646L1908.9 1647.32L1909.9 1646.4L1909.9 1647.33L1910.9 1645.51L1910.9 1647.34L1911.9 1646.53L1911.9 1648.38L1912.9 1646.47L1912.9 1647.34L1913.9 1645.8L1913.9 1647.42L1914.9 1645.8L1914.9 1648.16L1915.9 1645.99L1915.9 1647.64L1916.9 1646.5L1916.9 1648.35L1917.9 1646.45L1917.9 1649.88L1918.9 1646.33L1918.9 1647.87L1919.9 1644.71L1919.9 1647.83L1920.9 1644.25L1920.9 1647.36L1921.9 1645.6L1921.9 1647.55L1922.9 1645.8L1922.9 1647.63L1923.9 1645.44L1923.9 1647.6L1924.9 1645.77L1924.9 1647.41L1925.9 1646.9M257.84 1646.9V1653M260.39 1646.9V1670.27M262.31 1646.9V1640.13M266.15 1646.9V1643M267.43 1646.9V1657.48M272.87 1646.9V1655.56M276.39 1646.9V1642.36M277.03 1646.9V1656.52M280.23 1646.9V1642.68M290.14 1646.9V1661M291.74 1646.9V1628.29M300.38 1646.9V1682.75M304.54 1646.9V1640.77M309.98 1646.9V1653.32M315.73 1646.9V1641.72M322.77 1646.9V1653M323.73 1646.9V1643M332.37 1646.9V1635.33M336.21 1646.9V1628.61M338.76 1646.9V1667.08M343.88 1646.9V1641.72M351.88 1646.9V1657.16M355.4 1646.9V1643M360.84 1646.9V1638.85M365.31 1646.9V1651.72M372.35 1646.9V1653M373.63 1646.9V1643.64M388.03 1646.9V1652.36M402.1 1646.9V1652.36M408.5 1646.9V1654.6M419.37 1646.9V1652.36M428.33 1646.9V1652.36M429.29 1646.9V1637.25M444.32 1646.9V1640.45M450.72 1646.9V1641.72M454.88 1646.9V1639.49M456.48 1646.9V1656.2M467.36 1646.9V1639.49M469.27 1646.9V1653.64M475.35 1646.9V1641.09M487.19 1646.9V1653M493.27 1646.9V1640.77M497.1 1646.9V1653M499.02 1646.9V1639.81M500.94 1646.9V1640.45M508.62 1646.9V1635.01M514.38 1646.9V1586.71M517.9 1646.9V1642.36M523.97 1646.9V1664.52M547.96 1646.9V1660.04M560.76 1646.9V1641.72M578.67 1646.9V1643M593.39 1646.9V1643M598.19 1646.9V1671.87M603.62 1646.9V1633.73M610.02 1646.9V1660.04M617.06 1646.9V1631.49M625.38 1646.9V1642.36M640.73 1646.9V1653.64M647.77 1646.9V1640.45M651.29 1646.9V1651.08M656.72 1646.9V1631.49M663.44 1646.9V1642.36M669.52 1646.9V1664.2M671.12 1646.9V1640.13M679.43 1646.9V1653.64M683.91 1646.9V1654.28M694.79 1646.9V1639.81M706.62 1646.9V1641.09M709.82 1646.9V1641.09M711.74 1646.9V1652.36M718.14 1646.9V1641.09M721.66 1646.9V1642.36M732.85 1646.9V1637.57M742.77 1646.9V1653M760.68 1646.9V1651.72M766.44 1646.9V1634.69M780.52 1646.9V1634.69M780.84 1646.9V1679.23M785.95 1646.9V1654.92M792.99 1646.9V1654.28M795.85 1646.9V2145.6M797.15 1646.9V1643M802.59 1646.9V1654.92M804.83 1646.9V1635.01M812.5 1646.9V1654.6M813.14 1646.9V1627.33M840.65 1646.9V1629.57M844.17 1646.9V1642.36M850.89 1646.9V1625.09M852.81 1646.9V1701.62M862.09 1646.9V1680.51M871.36 1646.9V1654.92M887.04 1646.9V1641.09M888.96 1646.9V1652.36M893.75 1646.9V1653M897.9 1646.9V1474.4M902.07 1646.9V1641.72M906.55 1646.9V1642.36M912.63 1646.9V1635.97M920.94 1646.9V1660.36M921.58 1646.9V1638.21M923.18 1646.9V1640.45M929.58 1646.9V1654.28M930.22 1646.9V1634.37M935.34 1646.9V1725.61M943.01 1646.9V1661.96M946.53 1646.9V1639.81M948.13 1646.9V1637.89M952.93 1646.9V1665.48M955.49 1646.9V1643M962.85 1646.9V1627.97M974.04 1646.9V1629.89M976.6 1646.9V1657.16M984.6 1646.9V1641.72M987.16 1646.9V1635.01M987.8 1646.9V1657.16M990.68 1646.9V1627.33M1005.71 1646.9V1643M1007.63 1646.9V1658.44M1012.43 1646.9V1654.92M1020.42 1646.9V1653M1022.34 1646.9V1642.36M1027.46 1646.9V1653.64M1033.22 1646.9V1641.09M1037.1 1646.9V1499.9M1041.86 1646.9V1651.72M1043.14 1646.9V1625.09M1064.89 1646.9V1662.28M1066.81 1646.9V1640.13M1072.25 1646.9V1643M1099.43 1646.9V1630.21M1101.99 1646.9V1639.81M1107.75 1646.9V1636.93M1107.75 1646.9V1650.44M1121.83 1646.9V1642.36M1125.03 1646.9V1643M1126.94 1646.9V1651.72M1133.34 1646.9V1653.32M1142.94 1646.9V1642.04M1149.02 1646.9V1629.25M1154.13 1646.9V1630.21M1161.49 1646.9V1643M1165.97 1646.9V1643M1187.08 1646.9V1653M1193.16 1646.9V1654.6M1208.83 1646.9V1662.6M1212.99 1646.9V1634.05M1223.87 1646.9V1597.9M1226.43 1646.9V1656.2M1229.63 1646.9V1632.13M1235.06 1646.9V1628.29M1239.54 1646.9V1643M1253.94 1646.9V1639.81M1257.13 1646.9V1638.53M1257.13 1646.9V1652.36M1259.37 1646.9V1641.09M1265.13 1646.9V1653.64M1274.41 1646.9V1671.23M1274.73 1646.9V1637.57M1281.45 1646.9V1660.68M1288.16 1646.9V1627.33M1300.96 1646.9V1653M1301.28 1646.9V1631.81M1303.2 1646.9V1636.61M1309.27 1646.9V1641.72M1313.11 1646.9V1641.72M1316.95 1646.9V1640.45M1322.07 1646.9V1606.54M1323.67 1646.9V1635.97M1327.51 1646.9V1654.28M1329.75 1646.9V1656.84M1335.82 1646.9V1676.99M1345.1 1646.9V1641.09M1354.7 1646.9V1651.08M1356.3 1646.9V1643M1364.93 1646.9V1638.53M1381.89 1646.9V1657.16M1386.69 1646.9V1640.45M1395.64 1646.9V1643M1405.56 1646.9V1676.99M1411.64 1646.9V1651.72M1420.91 1646.9V1642.36M1420.91 1646.9V1652.36M1428.27 1646.9V1652.36M1444.26 1646.9V1643M1453.22 1646.9V1637.25M1462.75 1646.9V1790.8M1468.25 1646.9V1643M1473.37 1646.9V1635.97M1481.05 1646.9V1659.08M1482.01 1646.9V1626.69M1495.76 1646.9V1639.17M1497.68 1646.9V1665.16M1500.24 1646.9V1642.36M1516.56 1646.9V1636.61M1537.03 1646.9V1640.13M1540.55 1646.9V1640.45M1541.51 1646.9V1653M1545.35 1646.9V1661.96M1545.98 1646.9V1630.21M1548.22 1646.9V1656.2M1564.54 1646.9V1641.72M1571.58 1646.9V1635.97M1581.81 1646.9V1642.36M1582.77 1646.9V1651.72M1590.77 1646.9V1671.87M1598.12 1646.9V1654.6M1604.52 1646.9V1641.09M1606.76 1646.9V1657.8M1610.92 1646.9V1642.36M1632.67 1646.9V1643.64M1638.75 1646.9V1658.12M1642.91 1646.9V1642.36M1648.35 1646.9V1640.45M1653.78 1646.9V1636.29M1655.7 1646.9V1656.52M1657.3 1646.9V1639.17M1666.58 1646.9V1654.6M1680.97 1646.9V1630.21M1686.73 1646.9V1639.17M1696.97 1646.9V1651.08M1700.17 1646.9V1638.85M1719.68 1646.9V1652.36M1722.88 1646.9V1641.72M1725.44 1646.9V1662.92M1733.11 1646.9V1659.08M1749.11 1646.9V1619.97M1757.74 1646.9V1632.13M1761.9 1646.9V1635.33M1773.74 1646.9V1656.84M1780.46 1646.9V1653.64M1792.93 1646.9V1653.96M1801.89 1646.9V1642.36M1801.89 1646.9V1653M1805.73 1646.9V1612.3M1813.08 1646.9V1651.72M1814.04 1646.9V1640.45M1820.76 1646.9V1635.97M1823 1646.9V1636.93M1831.32 1646.9V1637.89M1832.28 1646.9V1685.63M1854.03 1646.9V1641.09M1854.03 1646.9V1653M1866.82 1646.9V1641.72M1876.42 1646.9V1713.46M1880.9 1646.9V1653.64M1887.29 1646.9V1656.2M1891.45 1646.9V1642.36M1895.61 1646.9V1652.36M1902.01 1646.9V1642.36M1908.41 1646.9V1653M1915.44 1646.9V1643M1923.44 1646.9V1641.72"/>
<text class="tick" transform="translate(251.3 2351.2) scale(1.01 1.035)" text-anchor="middle">0</text>
<text class="tick" transform="translate(418.7 2351.2) scale(1.01 1.035)" text-anchor="middle">0.5</text>
<text class="tick" transform="translate(586.1 2351.2) scale(1.01 1.035)" text-anchor="middle">1</text>
<text class="tick" transform="translate(753.5 2351.2) scale(1.01 1.035)" text-anchor="middle">1.5</text>
<text class="tick" transform="translate(920.9 2351.2) scale(1.01 1.035)" text-anchor="middle">2</text>
<text class="tick" transform="translate(1088.3 2351.2) scale(1.01 1.035)" text-anchor="middle">2.5</text>
<text class="tick" transform="translate(1255.7 2351.2) scale(1.01 1.035)" text-anchor="middle">3</text>
<text class="tick" transform="translate(1423.1 2351.2) scale(1.01 1.035)" text-anchor="middle">3.5</text>
<text class="tick" transform="translate(1590.5 2351.2) scale(1.01 1.035)" text-anchor="middle">4</text>
<text class="tick" transform="translate(1757.9 2351.2) scale(1.01 1.035)" text-anchor="middle">4.5</text>
<text class="tick" transform="translate(1925.3 2351.2) scale(1.01 1.035)" text-anchor="middle">5</text>
<text class="tick" transform="translate(233.8 2304.1) scale(1.01 1.035)" text-anchor="end">-4000</text>
<text class="tick" transform="translate(233.8 2144.4) scale(1.01 1.035)" text-anchor="end">-3000</text>
<text class="tick" transform="translate(233.8 1984.7) scale(1.01 1.035)" text-anchor="end">-2000</text>
<text class="tick" transform="translate(233.8 1825) scale(1.01 1.035)" text-anchor="end">-1000</text>
<text class="tick" transform="translate(233.8 1665.3) scale(1.01 1.035)" text-anchor="end">0</text>
<text class="tick" transform="translate(233.8 1505.6) scale(1.01 1.035)" text-anchor="end">1000</text>
<text class="tick" transform="translate(233.8 1345.9) scale(1.01 1.035)" text-anchor="end">2000</text>
<text class="mul" x="1813" y="2433.2">×</text>
<text class="tick" transform="translate(1855.7 2430) scale(1 1.035)">10</text>
<text class="tick" x="1905.3" y="2406.2" style="font-size:41.5px">4</text>
<text class="lab" x="1088.1" y="2436.8" text-anchor="middle">Number of Iterations (<tspan font-style="italic">n</tspan>)</text>
<text class="lab" transform="translate(89.4 1806.9) rotate(-90)" text-anchor="middle">Amplitude</text>
<rect x="1563.4" y="1357" width="333.5" height="83.2" fill="#fff" stroke="#262626" stroke-width="1.9"/>
<path d="M1575 1398.4h112.6" stroke="#000" stroke-width="2" fill="none"/>
<text class="leg" transform="translate(1697 1422.1) scale(1.13 1)" font-style="italic">α</text>
<text class="leg" x="1751.7" y="1429.3" style="font-weight:bold;font-size:66px">=</text>
<text class="leg" transform="translate(1844.3 1422.1) scale(0.95 1.02)" text-anchor="middle" style="font-size:63.5px">1.4</text>
<text class="sub par" transform="translate(26.4 2551.1) scale(0.92 1)">(</text>
<text class="sub" transform="translate(52.5 2552.6) scale(1.11 1.04)">b</text>
<text class="sub par" transform="translate(103.8 2551.1) scale(0.92 1)">)</text>
</g>
<g id="plot-c">
<rect class="ax" x="226.7" y="2602.3" width="1674" height="958.2"/>
<path class="ax" d="M226.7 3560.5v-17.5M226.7 2602.3v17.5M394.1 3560.5v-17.5M394.1 2602.3v17.5M561.5 3560.5v-17.5M561.5 2602.3v17.5M728.9 3560.5v-17.5M728.9 2602.3v17.5M896.3 3560.5v-17.5M896.3 2602.3v17.5M1063.7 3560.5v-17.5M1063.7 2602.3v17.5M1231.1 3560.5v-17.5M1231.1 2602.3v17.5M1398.5 3560.5v-17.5M1398.5 2602.3v17.5M1565.9 3560.5v-17.5M1565.9 2602.3v17.5M1733.3 3560.5v-17.5M1733.3 2602.3v17.5M1900.7 3560.5v-17.5M1900.7 2602.3v17.5M226.7 3560.5h17.5M1900.7 3560.5h-17.5M226.7 3440.72h17.5M1900.7 3440.72h-17.5M226.7 3320.95h17.5M1900.7 3320.95h-17.5M226.7 3201.18h17.5M1900.7 3201.18h-17.5M226.7 3081.4h17.5M1900.7 3081.4h-17.5M226.7 2961.62h17.5M1900.7 2961.62h-17.5M226.7 2841.85h17.5M1900.7 2841.85h-17.5M226.7 2722.08h17.5M1900.7 2722.08h-17.5M226.7 2602.3h17.5M1900.7 2602.3h-17.5"/>
<path class="sig" d="M226.7 2961L226.7 2954.36L226.7 2970.07L227.7 2957.46L227.7 2968.34L228.7 2955.06L228.7 2967.31L229.7 2957.17L229.7 2966.83L230.7 2957.36L230.7 2964.58L231.7 2955.95L231.7 2964.97L232.7 2957.47L232.7 2969.26L233.7 2956.11L233.7 2966.24L234.7 2957.51L234.7 2965.62L235.7 2956.73L235.7 2966.13L236.7 2956.86L236.7 2964.69L237.7 2955.19L237.7 2966.18L238.7 2956.72L238.7 2965.03L239.7 2954.48L239.7 2966.19L240.7 2957.46L240.7 2965.29L241.7 2957.24L241.7 2964.57L242.7 2957.74L242.7 2964.61L243.7 2955.68L243.7 2965.04L244.7 2954.47L244.7 2964.58L245.7 2957.44L245.7 2964.52L246.7 2957.14L246.7 2964.33L247.7 2956.15L247.7 2964.29L248.7 2955.01L248.7 2964.51L249.7 2956.14L249.7 2965.55L250.7 2956.96L250.7 2964.78L251.7 2956.09L251.7 2965.18L252.7 2954.49L252.7 2965.58L253.7 2954.64L253.7 2964.44L254.7 2957.55L254.7 2968.43L255.7 2957.74L255.7 2965.31L256.7 2952.4L256.7 2964.43L257.7 2957.27L257.7 2965.48L258.7 2955.21L258.7 2964.22L259.7 2956.88L259.7 2966.46L260.7 2955.6L260.7 2964.95L261.7 2956.93L261.7 2965.33L262.7 2957.6L262.7 2965.9L263.7 2957.38L263.7 2964.43L264.7 2955.65L264.7 2965.43L265.7 2953.56L265.7 2965.79L266.7 2957.02L266.7 2967.47L267.7 2956.1L267.7 2966.03L268.7 2956.21L268.7 2965.53L269.7 2951.59L269.7 2964.68L270.7 2951.73L270.7 2964.99L271.7 2957.71L271.7 2965.88L272.7 2957.38L272.7 2965.7L273.7 2952.83L273.7 2966.18L274.7 2956.61L274.7 2965.13L275.7 2956.9L275.7 2965.52L276.7 2955.47L276.7 2964.53L277.7 2956.84L277.7 2964.65L278.7 2957.33L278.7 2966.82L279.7 2956.37L279.7 2965.83L280.7 2957.73L280.7 2965.56L281.7 2954.59L281.7 2966.02L282.7 2956.76L282.7 2965.48L283.7 2956.94L283.7 2964.78L284.7 2957.41L284.7 2964.68L285.7 2957.49L285.7 2964.33L286.7 2956.72L286.7 2965.87L287.7 2956.82L287.7 2965.09L288.7 2954.7L288.7 2965.21L289.7 2955.5L289.7 2964.47L290.7 2957.79L290.7 2966.32L291.7 2957.54L291.7 2964.5L292.7 2956.99L292.7 2964.26L293.7 2955.54L293.7 2965.21L294.7 2956.63L294.7 2964.65L295.7 2957.52L295.7 2965.99L296.7 2957.58L296.7 2965.45L297.7 2957.13L297.7 2964.56L298.7 2956.03L298.7 2965.09L299.7 2956.97L299.7 2965.8L300.7 2955.82L300.7 2966.72L301.7 2957.29L301.7 2964.45L302.7 2955.04L302.7 2966.8L303.7 2956.49L303.7 2964.29L304.7 2954.95L304.7 2964.3L305.7 2957.73L305.7 2964.58L306.7 2957.11L306.7 2964.97L307.7 2957.65L307.7 2964.88L308.7 2955.79L308.7 2964.83L309.7 2956.25L309.7 2966.41L310.7 2957.37L310.7 2965.37L311.7 2956.78L311.7 2964.82L312.7 2955.45L312.7 2964.64L313.7 2951.95L313.7 2966.15L314.7 2957.48L314.7 2964.34L315.7 2955.42L315.7 2964.46L316.7 2956.28L316.7 2967.17L317.7 2955.55L317.7 2967.64L318.7 2957.44L318.7 2964.44L319.7 2957.29L319.7 2964.92L320.7 2955.94L320.7 2965.98L321.7 2957.37L321.7 2968.97L322.7 2956.37L322.7 2968.93L323.7 2956.26L323.7 2964.9L324.7 2957.42L324.7 2968.22L325.7 2955.93L325.7 2968.86L326.7 2955.96L326.7 2964.65L327.7 2956.98L327.7 2965.2L328.7 2956.41L328.7 2964.74L329.7 2957.21L329.7 2964.37L330.7 2956.37L330.7 2965.67L331.7 2955.98L331.7 2964.64L332.7 2957.39L332.7 2964.47L333.7 2956.56L333.7 2964.84L334.7 2957.72L334.7 2966.55L335.7 2953.45L335.7 2964.81L336.7 2955.43L336.7 2965.45L337.7 2957.34L337.7 2966.58L338.7 2956.56L338.7 2964.21L339.7 2953.42L339.7 2966.73L340.7 2955.65L340.7 2965.05L341.7 2951.39L341.7 2965.29L342.7 2957.63L342.7 2966.48L343.7 2957.16L343.7 2966.88L344.7 2956.45L344.7 2966.94L345.7 2956.99L345.7 2964.77L346.7 2955.75L346.7 2965.18L347.7 2956.32L347.7 2965.45L348.7 2956.69L348.7 2964.56L349.7 2957.48L349.7 2965.25L350.7 2956.95L350.7 2964.94L351.7 2956.59L351.7 2964.76L352.7 2957.59L352.7 2966.8L353.7 2955.88L353.7 2964.59L354.7 2957.51L354.7 2965.42L355.7 2957.58L355.7 2964.24L356.7 2957.48L356.7 2965.13L357.7 2955.07L357.7 2964.8L358.7 2951.28L358.7 2964.88L359.7 2956.08L359.7 2964.65L360.7 2957L360.7 2964.21L361.7 2957.02L361.7 2966.55L362.7 2957.44L362.7 2964.66L363.7 2957.02L363.7 2964.52L364.7 2956.28L364.7 2968.46L365.7 2955.36L365.7 2964.68L366.7 2957.21L366.7 2966.57L367.7 2956.43L367.7 2966.18L368.7 2957.35L368.7 2965.07L369.7 2955.55L369.7 2964.67L370.7 2954.42L370.7 2967.08L371.7 2957.53L371.7 2965.73L372.7 2954.9L372.7 2964.38L373.7 2956.88L373.7 2965.25L374.7 2956.33L374.7 2968.2L375.7 2957.32L375.7 2965.37L376.7 2957.5L376.7 2964.49L377.7 2957.41L377.7 2964.35L378.7 2956.89L378.7 2964.2L379.7 2956.8L379.7 2965.93L380.7 2956.34L380.7 2965.08L381.7 2955.26L381.7 2964.22L382.7 2954.38L382.7 2964.78L383.7 2957.27L383.7 2964.7L384.7 2956.4L384.7 2964.89L385.7 2955.15L385.7 2966.21L386.7 2957.68L386.7 2965.19L387.7 2956.62L387.7 2964.71L388.7 2955.91L388.7 2964.55L389.7 2956.53L389.7 2964.56L390.7 2957.73L390.7 2969.78L391.7 2957.7L391.7 2969.82L392.7 2955.7L392.7 2966.6L393.7 2953.67L393.7 2964.8L394.7 2957.77L394.7 2964.62L395.7 2955.33L395.7 2967.01L396.7 2957.16L396.7 2970.2L397.7 2955.03L397.7 2964.56L398.7 2957.33L398.7 2964.59L399.7 2954.69L399.7 2964.71L400.7 2957.52L400.7 2965.88L401.7 2956.93L401.7 2964.4L402.7 2955.74L402.7 2968.9L403.7 2957.69L403.7 2965.22L404.7 2955.55L404.7 2965.59L405.7 2955.07L405.7 2964.23L406.7 2953.5L406.7 2968.35L407.7 2956.59L407.7 2965.7L408.7 2956.84L408.7 2964.8L409.7 2956.53L409.7 2969.19L410.7 2957.02L410.7 2965.77L411.7 2957.62L411.7 2966.6L412.7 2957.01L412.7 2964.27L413.7 2957.3L413.7 2966.58L414.7 2954.27L414.7 2965.06L415.7 2957.26L415.7 2965.02L416.7 2957.33L416.7 2965.75L417.7 2948.57L417.7 2965.45L418.7 2957.27L418.7 2965.48L419.7 2957.06L419.7 2965.24L420.7 2955.21L420.7 2966.58L421.7 2948.88L421.7 2964.41L422.7 2956.42L422.7 2966.26L423.7 2956.73L423.7 2967.2L424.7 2957.48L424.7 2970.56L425.7 2955.44L425.7 2966.76L426.7 2957.79L426.7 2964.5L427.7 2957.26L427.7 2964.48L428.7 2956.35L428.7 2968.01L429.7 2956.92L429.7 2969.6L430.7 2957.31L430.7 2965.83L431.7 2956.72L431.7 2965.93L432.7 2954.24L432.7 2965.31L433.7 2957.33L433.7 2964.85L434.7 2956.93L434.7 2964.64L435.7 2956.3L435.7 2970.91L436.7 2957.6L436.7 2969.57L437.7 2957.59L437.7 2966.12L438.7 2956.35L438.7 2964.61L439.7 2956.2L439.7 2964.83L440.7 2955.93L440.7 2965.16L441.7 2956.31L441.7 2964.21L442.7 2956.71L442.7 2967.44L443.7 2951.75L443.7 2965.75L444.7 2957.56L444.7 2965.98L445.7 2957.58L445.7 2964.8L446.7 2955.63L446.7 2966.56L447.7 2957.54L447.7 2965.32L448.7 2954.23L448.7 2965.16L449.7 2955.96L449.7 2965.75L450.7 2957.5L450.7 2966.37L451.7 2956.28L451.7 2966.08L452.7 2957.72L452.7 2965.96L453.7 2957.63L453.7 2966.8L454.7 2954.26L454.7 2966.13L455.7 2951.77L455.7 2965.7L456.7 2956.18L456.7 2966.36L457.7 2956.21L457.7 2965.07L458.7 2957.6L458.7 2967.69L459.7 2954.77L459.7 2967.5L460.7 2956.99L460.7 2964.41L461.7 2957.6L461.7 2971.58L462.7 2957.49L462.7 2964.42L463.7 2957.64L463.7 2964.42L464.7 2956.77L464.7 2964.81L465.7 2955.15L465.7 2964.96L466.7 2954.71L466.7 2965.52L467.7 2954.14L467.7 2964.61L468.7 2957.34L468.7 2966.22L469.7 2956.9L469.7 2965.89L470.7 2956.11L470.7 2964.62L471.7 2957.56L471.7 2965.52L472.7 2953.56L472.7 2964.62L473.7 2956.34L473.7 2964.99L474.7 2957.31L474.7 2964.74L475.7 2956.57L475.7 2964.23L476.7 2957.13L476.7 2966.41L477.7 2955.95L477.7 2965.05L478.7 2955.52L478.7 2964.93L479.7 2956.07L479.7 2966.53L480.7 2956.7L480.7 2965.66L481.7 2955.73L481.7 2965.35L482.7 2956.65L482.7 2966.57L483.7 2957.36L483.7 2965.22L484.7 2957.61L484.7 2965.23L485.7 2955.51L485.7 2965.58L486.7 2956.27L486.7 2966.1L487.7 2957.68L487.7 2964.94L488.7 2952.89L488.7 2965.01L489.7 2955.51L489.7 2966.99L490.7 2954.48L490.7 2964.47L491.7 2957.08L491.7 2966.08L492.7 2956.98L492.7 2966.42L493.7 2957.09L493.7 2965.58L494.7 2957.48L494.7 2966.04L495.7 2954.67L495.7 2965.06L496.7 2954.69L496.7 2965.61L497.7 2955.61L497.7 2964.32L498.7 2956.52L498.7 2966.32L499.7 2955.27L499.7 2964.54L500.7 2956.15L500.7 2964.96L501.7 2957.52L501.7 2966.23L502.7 2956.59L502.7 2965.28L503.7 2957.34L503.7 2965.35L504.7 2957.3L504.7 2970.07L505.7 2952.62L505.7 2964.71L506.7 2957.57L506.7 2964.25L507.7 2957.7L507.7 2969.43L508.7 2956.06L508.7 2965.62L509.7 2957.33L509.7 2966.16L510.7 2956.51L510.7 2964.38L511.7 2957.79L511.7 2964.65L512.7 2956.7L512.7 2967.8L513.7 2955.94L513.7 2964.24L514.7 2955.11L514.7 2964.75L515.7 2956.42L515.7 2964.52L516.7 2956.94L516.7 2966.24L517.7 2954.26L517.7 2970.23L518.7 2957.51L518.7 2965.85L519.7 2957.59L519.7 2967.2L520.7 2952.79L520.7 2965.2L521.7 2957.28L521.7 2967.11L522.7 2957.8L522.7 2965.03L523.7 2954.3L523.7 2964.96L524.7 2956.22L524.7 2964.73L525.7 2956.58L525.7 2965.16L526.7 2957.56L526.7 2964.52L527.7 2955.74L527.7 2965.32L528.7 2956.44L528.7 2966.76L529.7 2957.07L529.7 2968.39L530.7 2957.73L530.7 2964.53L531.7 2956.93L531.7 2965.16L532.7 2955.78L532.7 2969L533.7 2957.16L533.7 2965.37L534.7 2955.82L534.7 2966.38L535.7 2956.76L535.7 2966.04L536.7 2954.35L536.7 2967.15L537.7 2956.1L537.7 2966.65L538.7 2957.62L538.7 2965.17L539.7 2952.02L539.7 2964.57L540.7 2957.3L540.7 2965.02L541.7 2954.38L541.7 2964.63L542.7 2955.85L542.7 2965.43L543.7 2956.02L543.7 2964.43L544.7 2956.09L544.7 2965.95L545.7 2949.95L545.7 2966.15L546.7 2957.64L546.7 2965.44L547.7 2957.33L547.7 2964.62L548.7 2957.67L548.7 2969.92L549.7 2956.83L549.7 2965.38L550.7 2956.94L550.7 2965.22L551.7 2955.68L551.7 2967.56L552.7 2957.07L552.7 2965.27L553.7 2952.51L553.7 2965L554.7 2957.18L554.7 2964.7L555.7 2955.02L555.7 2964.83L556.7 2957.51L556.7 2966.4L557.7 2956.29L557.7 2964.75L558.7 2956.84L558.7 2965.46L559.7 2956.4L559.7 2965.2L560.7 2956.27L560.7 2964.2L561.7 2957.41L561.7 2964.43L562.7 2955.64L562.7 2964.4L563.7 2957.35L563.7 2966.04L564.7 2957.69L564.7 2964.25L565.7 2955.41L565.7 2965.07L566.7 2954.32L566.7 2964.26L567.7 2957.08L567.7 2965.89L568.7 2956.14L568.7 2967.06L569.7 2956.64L569.7 2964.35L570.7 2956.85L570.7 2964.56L571.7 2956.17L571.7 2965.92L572.7 2953.44L572.7 2966.31L573.7 2957.42L573.7 2965.33L574.7 2956.81L574.7 2964.68L575.7 2951.34L575.7 2964.48L576.7 2954.32L576.7 2965.22L577.7 2955.82L577.7 2964.72L578.7 2957.1L578.7 2966.86L579.7 2955.91L579.7 2965.3L580.7 2950.77L580.7 2964.62L581.7 2957.1L581.7 2966.77L582.7 2955.61L582.7 2966.66L583.7 2957.52L583.7 2966.05L584.7 2956.31L584.7 2965.65L585.7 2955.77L585.7 2964.66L586.7 2956.72L586.7 2969.7L587.7 2956.31L587.7 2966.54L588.7 2957.79L588.7 2965.32L589.7 2956.14L589.7 2964.72L590.7 2956.64L590.7 2972.16L591.7 2955.09L591.7 2965.47L592.7 2957.07L592.7 2964.58L593.7 2956.99L593.7 2965.62L594.7 2954.11L594.7 2964.52L595.7 2956.43L595.7 2965.66L596.7 2956.51L596.7 2966.27L597.7 2957.79L597.7 2964.33L598.7 2956.41L598.7 2965.11L599.7 2956.82L599.7 2964.56L600.7 2957.22L600.7 2967.48L601.7 2956.03L601.7 2964.29L602.7 2956.52L602.7 2965.67L603.7 2955.72L603.7 2966.27L604.7 2956.19L604.7 2964.68L605.7 2956.64L605.7 2964.93L606.7 2957.02L606.7 2967.63L607.7 2955.97L607.7 2965.46L608.7 2957.09L608.7 2965.49L609.7 2957.59L609.7 2964.53L610.7 2956.66L610.7 2966.01L611.7 2956.4L611.7 2965.38L612.7 2957.56L612.7 2964.7L613.7 2954.2L613.7 2964.61L614.7 2957.61L614.7 2964.83L615.7 2957.63L615.7 2964.38L616.7 2955.53L616.7 2965.35L617.7 2957.21L617.7 2964.51L618.7 2957.26L618.7 2965.01L619.7 2956.46L619.7 2964.36L620.7 2957.67L620.7 2964.88L621.7 2957.37L621.7 2965.18L622.7 2954.25L622.7 2964.47L623.7 2956.22L623.7 2966.58L624.7 2956.2L624.7 2971.6L625.7 2955.77L625.7 2966.12L626.7 2957.31L626.7 2967.96L627.7 2957.18L627.7 2966.18L628.7 2954.22L628.7 2966.96L629.7 2950.65L629.7 2965.08L630.7 2955.05L630.7 2965.27L631.7 2957.73L631.7 2965.63L632.7 2957.01L632.7 2965.01L633.7 2957.47L633.7 2964.78L634.7 2957.57L634.7 2965.36L635.7 2956.22L635.7 2965L636.7 2957.4L636.7 2965.95L637.7 2957.61L637.7 2966.11L638.7 2957.36L638.7 2964.21L639.7 2957.44L639.7 2968.4L640.7 2957.56L640.7 2966.32L641.7 2955.86L641.7 2968.63L642.7 2955.8L642.7 2966.17L643.7 2956.63L643.7 2965.23L644.7 2957.72L644.7 2964.33L645.7 2956.73L645.7 2965.3L646.7 2957.69L646.7 2967.42L647.7 2956.99L647.7 2971.37L648.7 2956.93L648.7 2964.81L649.7 2955.38L649.7 2966.39L650.7 2955.95L650.7 2964.24L651.7 2956.93L651.7 2965.13L652.7 2955.26L652.7 2965.05L653.7 2955.66L653.7 2964.87L654.7 2957.12L654.7 2965.38L655.7 2955.98L655.7 2965.68L656.7 2957.21L656.7 2966.04L657.7 2956.56L657.7 2969.55L658.7 2957.24L658.7 2967.36L659.7 2953.5L659.7 2965.88L660.7 2957.58L660.7 2964.31L661.7 2956.37L661.7 2965.48L662.7 2957.43L662.7 2966.64L663.7 2956.85L663.7 2965.71L664.7 2954.14L664.7 2965.48L665.7 2953.27L665.7 2964.98L666.7 2957.52L666.7 2966.38L667.7 2957.51L667.7 2964.66L668.7 2956.71L668.7 2967.58L669.7 2956.3L669.7 2965.58L670.7 2956.42L670.7 2964.86L671.7 2957.36L671.7 2964.55L672.7 2957.65L672.7 2965.65L673.7 2955.54L673.7 2968.57L674.7 2957.45L674.7 2968.53L675.7 2957.05L675.7 2965.29L676.7 2956.6L676.7 2966.04L677.7 2952.08L677.7 2964.97L678.7 2957.63L678.7 2966.53L679.7 2956.33L679.7 2965.58L680.7 2955.11L680.7 2964.9L681.7 2954.26L681.7 2964.74L682.7 2952.02L682.7 2964.78L683.7 2957.01L683.7 2966.14L684.7 2957.51L684.7 2964.31L685.7 2955.55L685.7 2965.3L686.7 2957L686.7 2965.54L687.7 2957.73L687.7 2964.66L688.7 2956.23L688.7 2966.09L689.7 2957.32L689.7 2966.55L690.7 2957.78L690.7 2965.62L691.7 2957.45L691.7 2966.85L692.7 2955.22L692.7 2965.29L693.7 2956.95L693.7 2968.19L694.7 2954.98L694.7 2965.21L695.7 2954.9L695.7 2964.37L696.7 2956.43L696.7 2964.35L697.7 2957.72L697.7 2966.52L698.7 2957.08L698.7 2965.47L699.7 2957.03L699.7 2964.68L700.7 2956.23L700.7 2964.36L701.7 2957.51L701.7 2965.57L702.7 2957.27L702.7 2967.19L703.7 2955.05L703.7 2964.48L704.7 2957.78L704.7 2966.5L705.7 2957.76L705.7 2969.92L706.7 2955.61L706.7 2965.6L707.7 2956.4L707.7 2965.99L708.7 2957.77L708.7 2966.5L709.7 2955.99L709.7 2966.39L710.7 2956.64L710.7 2965.73L711.7 2957.63L711.7 2964.35L712.7 2956.03L712.7 2964.63L713.7 2956.95L713.7 2967.5L714.7 2957.62L714.7 2964.73L715.7 2954.24L715.7 2964.44L716.7 2957.61L716.7 2965.03L717.7 2955.13L717.7 2965.51L718.7 2957.79L718.7 2965.88L719.7 2952.15L719.7 2964.6L720.7 2955.51L720.7 2968.89L721.7 2956.99L721.7 2967.53L722.7 2955.73L722.7 2965.54L723.7 2956.27L723.7 2965.63L724.7 2956.42L724.7 2966.71L725.7 2957.74L725.7 2968.89L726.7 2955.42L726.7 2965.72L727.7 2956.32L727.7 2966L728.7 2957.18L728.7 2964.23L729.7 2953.75L729.7 2964.9L730.7 2948.75L730.7 2965.71L731.7 2950.75L731.7 2965.31L732.7 2956.04L732.7 2966.2L733.7 2955.99L733.7 2965.24L734.7 2957.6L734.7 2964.92L735.7 2957.48L735.7 2967.02L736.7 2956.94L736.7 2968.35L737.7 2956.85L737.7 2965.17L738.7 2956.97L738.7 2964.83L739.7 2957.17L739.7 2964.3L740.7 2957.72L740.7 2966.02L741.7 2956.21L741.7 2964.86L742.7 2956.71L742.7 2968.9L743.7 2955.36L743.7 2964.25L744.7 2956.94L744.7 2965.32L745.7 2957.02L745.7 2964.89L746.7 2957.18L746.7 2965L747.7 2957.76L747.7 2965.75L748.7 2954.93L748.7 2966.33L749.7 2956.79L749.7 2967.43L750.7 2957.15L750.7 2971.76L751.7 2955.48L751.7 2965.25L752.7 2953.61L752.7 2965.04L753.7 2957.2L753.7 2965.8L754.7 2957.63L754.7 2965.11L755.7 2957.61L755.7 2967.92L756.7 2957.46L756.7 2966.93L757.7 2956.04L757.7 2965.53L758.7 2956L758.7 2965.79L759.7 2956.6L759.7 2966.11L760.7 2955.2L760.7 2967.35L761.7 2955.7L761.7 2970.61L762.7 2956.32L762.7 2967.62L763.7 2956.74L763.7 2966.27L764.7 2950.31L764.7 2966.02L765.7 2957.25L765.7 2964.42L766.7 2954.56L766.7 2967.04L767.7 2956.05L767.7 2965.94L768.7 2952.69L768.7 2964.2L769.7 2954.71L769.7 2966.97L770.7 2955.46L770.7 2965.29L771.7 2956.62L771.7 2966.41L772.7 2956.72L772.7 2965.07L773.7 2956.76L773.7 2965.07L774.7 2956.66L774.7 2966.02L775.7 2957.73L775.7 2965L776.7 2956.83L776.7 2965.47L777.7 2957.26L777.7 2966.47L778.7 2956.83L778.7 2964.85L779.7 2955.28L779.7 2964.63L780.7 2956L780.7 2966.43L781.7 2956.88L781.7 2964.3L782.7 2957.09L782.7 2964.33L783.7 2957.04L783.7 2966.73L784.7 2956.05L784.7 2964.7L785.7 2957.36L785.7 2966.48L786.7 2957.56L786.7 2968.36L787.7 2956.75L787.7 2964.6L788.7 2956.03L788.7 2968.61L789.7 2957.79L789.7 2967.44L790.7 2956.69L790.7 2966.74L791.7 2957.4L791.7 2964.51L792.7 2957.62L792.7 2964.27L793.7 2955.88L793.7 2968.29L794.7 2955.75L794.7 2965.66L795.7 2957.25L795.7 2967.03L796.7 2957.57L796.7 2967.62L797.7 2957.05L797.7 2965.65L798.7 2956.64L798.7 2967.88L799.7 2955.15L799.7 2965.51L800.7 2956.14L800.7 2965.4L801.7 2956.5L801.7 2965.18L802.7 2955.03L802.7 2964.96L803.7 2957.51L803.7 2966.38L804.7 2953.66L804.7 2965.19L805.7 2957.17L805.7 2965.74L806.7 2956.51L806.7 2965.29L807.7 2953.69L807.7 2972.56L808.7 2956.34L808.7 2965.43L809.7 2955.38L809.7 2965.71L810.7 2956.87L810.7 2964.75L811.7 2951.49L811.7 2964.27L812.7 2955.09L812.7 2967.14L813.7 2956.69L813.7 2964.82L814.7 2955.48L814.7 2965.26L815.7 2954.99L815.7 2964.79L816.7 2956.54L816.7 2965.43L817.7 2955.96L817.7 2964.36L818.7 2956.99L818.7 2965.1L819.7 2956.16L819.7 2965.85L820.7 2955.94L820.7 2965.33L821.7 2956.57L821.7 2964.21L822.7 2956.69L822.7 2967.06L823.7 2956.22L823.7 2964.27L824.7 2956.32L824.7 2966.89L825.7 2957.11L825.7 2965.65L826.7 2957.29L826.7 2965.03L827.7 2956.28L827.7 2965.06L828.7 2956.78L828.7 2964.58L829.7 2957.2L829.7 2964.93L830.7 2956.98L830.7 2967.72L831.7 2957.57L831.7 2964.65L832.7 2954.84L832.7 2964.84L833.7 2956.18L833.7 2964.59L834.7 2956.76L834.7 2965.8L835.7 2956.12L835.7 2967.94L836.7 2951.67L836.7 2965.56L837.7 2956.24L837.7 2964.4L838.7 2950.56L838.7 2964.93L839.7 2957.07L839.7 2966.49L840.7 2957.76L840.7 2964.43L841.7 2955.82L841.7 2965.59L842.7 2956.46L842.7 2964.84L843.7 2954.01L843.7 2964.23L844.7 2955.14L844.7 2965.09L845.7 2954.62L845.7 2964.34L846.7 2956.13L846.7 2964.34L847.7 2956.86L847.7 2967.05L848.7 2954.56L848.7 2964.54L849.7 2957.18L849.7 2966.73L850.7 2957.29L850.7 2965.05L851.7 2956.84L851.7 2964.71L852.7 2955.86L852.7 2964.67L853.7 2956.04L853.7 2966.27L854.7 2957.19L854.7 2965.11L855.7 2955.97L855.7 2964.4L856.7 2956.62L856.7 2969.68L857.7 2956.13L857.7 2965.46L858.7 2957.47L858.7 2964.66L859.7 2956.63L859.7 2965.22L860.7 2956.5L860.7 2966.41L861.7 2956.84L861.7 2964.79L862.7 2957.67L862.7 2964.77L863.7 2955.38L863.7 2964.69L864.7 2957.79L864.7 2967.19L865.7 2957.66L865.7 2964.37L866.7 2956.66L866.7 2967.49L867.7 2957.62L867.7 2966L868.7 2955.83L868.7 2965.44L869.7 2956.73L869.7 2964.33L870.7 2957.78L870.7 2964.49L871.7 2957.42L871.7 2966.81L872.7 2956.7L872.7 2965.29L873.7 2957.5L873.7 2966.11L874.7 2957.76L874.7 2972.02L875.7 2957.18L875.7 2968.89L876.7 2956.95L876.7 2964.27L877.7 2957.5L877.7 2968.43L878.7 2957.68L878.7 2966.09L879.7 2957.05L879.7 2965.53L880.7 2956.41L880.7 2965.13L881.7 2956.87L881.7 2967.08L882.7 2957.48L882.7 2968.21L883.7 2957.09L883.7 2969.07L884.7 2957.05L884.7 2965.11L885.7 2956.4L885.7 2965.51L886.7 2955.41L886.7 2966.38L887.7 2954.86L887.7 2965.18L888.7 2957.34L888.7 2965.14L889.7 2955.84L889.7 2965.13L890.7 2957.29L890.7 2966.42L891.7 2957.78L891.7 2964.98L892.7 2956.67L892.7 2966.01L893.7 2957.77L893.7 2965.27L894.7 2955.46L894.7 2965.34L895.7 2957.13L895.7 2966.71L896.7 2951.78L896.7 2965.18L897.7 2954.95L897.7 2966.88L898.7 2955.9L898.7 2965.54L899.7 2957.08L899.7 2964.22L900.7 2956.6L900.7 2965.56L901.7 2956.56L901.7 2964.45L902.7 2956.83L902.7 2970.62L903.7 2956.95L903.7 2965.11L904.7 2957.64L904.7 2965.64L905.7 2956.98L905.7 2964.47L906.7 2955.68L906.7 2966.03L907.7 2957.16L907.7 2965.66L908.7 2957.15L908.7 2973.26L909.7 2956.41L909.7 2965.69L910.7 2957.31L910.7 2965.8L911.7 2956.92L911.7 2965.28L912.7 2955.05L912.7 2964.59L913.7 2955.67L913.7 2968.49L914.7 2951.58L914.7 2964.74L915.7 2955.26L915.7 2964.89L916.7 2957.31L916.7 2969.43L917.7 2957.69L917.7 2965.41L918.7 2956.08L918.7 2965.34L919.7 2956.9L919.7 2964.55L920.7 2957.56L920.7 2966.21L921.7 2957.04L921.7 2965.56L922.7 2953.32L922.7 2965.9L923.7 2957.31L923.7 2967.95L924.7 2956.08L924.7 2966.55L925.7 2956.62L925.7 2964.91L926.7 2957.15L926.7 2964.91L927.7 2957.16L927.7 2965.76L928.7 2955.95L928.7 2968.19L929.7 2954.27L929.7 2965.82L930.7 2956L930.7 2964.7L931.7 2956.17L931.7 2966.04L932.7 2954.93L932.7 2965.14L933.7 2951.74L933.7 2966.87L934.7 2955.73L934.7 2965.64L935.7 2955.98L935.7 2964.74L936.7 2957.48L936.7 2964.2L937.7 2957.54L937.7 2964.32L938.7 2954.34L938.7 2964.3L939.7 2954.35L939.7 2964.22L940.7 2955.69L940.7 2965.67L941.7 2955.74L941.7 2965.88L942.7 2957.68L942.7 2965.57L943.7 2955.15L943.7 2966.06L944.7 2957.07L944.7 2964.8L945.7 2957.62L945.7 2964.47L946.7 2955.49L946.7 2965.37L947.7 2957.26L947.7 2965.4L948.7 2954.77L948.7 2965.4L949.7 2956.2L949.7 2969.64L950.7 2953.28L950.7 2964.21L951.7 2957.1L951.7 2965.77L952.7 2956.91L952.7 2964.68L953.7 2956.24L953.7 2973.13L954.7 2957.02L954.7 2965.47L955.7 2956.04L955.7 2965.15L956.7 2957.68L956.7 2967.78L957.7 2957.02L957.7 2965.11L958.7 2956.57L958.7 2966L959.7 2956.79L959.7 2964.45L960.7 2955.79L960.7 2965.36L961.7 2956.37L961.7 2968.71L962.7 2957.32L962.7 2965.09L963.7 2956.6L963.7 2965.06L964.7 2956.11L964.7 2965.05L965.7 2954.61L965.7 2965.49L966.7 2955.31L966.7 2965.55L967.7 2957.68L967.7 2964.23L968.7 2957.18L968.7 2964.23L969.7 2957.29L969.7 2964.83L970.7 2957.46L970.7 2965.36L971.7 2955.37L971.7 2965.17L972.7 2957.24L972.7 2965.65L973.7 2957.39L973.7 2967.4L974.7 2956.81L974.7 2966.47L975.7 2957.66L975.7 2964.45L976.7 2957.49L976.7 2969.19L977.7 2956.44L977.7 2966.52L978.7 2953.63L978.7 2964.48L979.7 2957.4L979.7 2966.95L980.7 2954.31L980.7 2965.95L981.7 2956.5L981.7 2966.13L982.7 2956.87L982.7 2964.54L983.7 2956.37L983.7 2965.04L984.7 2957.26L984.7 2970.07L985.7 2957.73L985.7 2967.04L986.7 2956.42L986.7 2965.3L987.7 2954.46L987.7 2965.89L988.7 2957.2L988.7 2966.46L989.7 2956.4L989.7 2966.94L990.7 2956.97L990.7 2964.52L991.7 2957.8L991.7 2965.29L992.7 2957.35L992.7 2967.49L993.7 2957.4L993.7 2968.88L994.7 2955.63L994.7 2965.03L995.7 2956.45L995.7 2964.7L996.7 2956.72L996.7 2965.09L997.7 2957.46L997.7 2969.86L998.7 2952.91L998.7 2967.04L999.7 2956.95L999.7 2964.34L1000.7 2952.23L1000.7 2966.02L1001.7 2956.84L1001.7 2964.88L1002.7 2956.84L1002.7 2965.88L1003.7 2956.57L1003.7 2964.52L1004.7 2955.93L1004.7 2966.1L1005.7 2957.18L1005.7 2966.52L1006.7 2955.81L1006.7 2965.78L1007.7 2956.26L1007.7 2967.12L1008.7 2957.68L1008.7 2965.67L1009.7 2955.01L1009.7 2965.48L1010.7 2954.01L1010.7 2966.23L1011.7 2954.64L1011.7 2966.81L1012.7 2955.99L1012.7 2966.52L1013.7 2956.2L1013.7 2964.98L1014.7 2955.88L1014.7 2967.08L1015.7 2954.67L1015.7 2964.86L1016.7 2956.59L1016.7 2966.31L1017.7 2955.53L1017.7 2964.45L1018.7 2957.62L1018.7 2965.91L1019.7 2956.92L1019.7 2965.16L1020.7 2956.84L1020.7 2964.42L1021.7 2956.04L1021.7 2964.99L1022.7 2956.66L1022.7 2965.22L1023.7 2956.59L1023.7 2966.07L1024.7 2956.25L1024.7 2964.85L1025.7 2956.19L1025.7 2965.07L1026.7 2956.96L1026.7 2966.86L1027.7 2956.01L1027.7 2966.14L1028.7 2955.84L1028.7 2966.06L1029.7 2955.91L1029.7 2966.92L1030.7 2955.71L1030.7 2965.22L1031.7 2956.16L1031.7 2965.06L1032.7 2957.04L1032.7 2965.16L1033.7 2956.65L1033.7 2966.51L1034.7 2956.33L1034.7 2966.53L1035.7 2955.42L1035.7 2967.3L1036.7 2956.82L1036.7 2966.15L1037.7 2956.28L1037.7 2969.94L1038.7 2957.57L1038.7 2965.11L1039.7 2953.22L1039.7 2967.1L1040.7 2957L1040.7 2966.44L1041.7 2955.92L1041.7 2972.52L1042.7 2957.41L1042.7 2966.51L1043.7 2955.72L1043.7 2966.19L1044.7 2956.22L1044.7 2965.31L1045.7 2957.16L1045.7 2965.03L1046.7 2956.68L1046.7 2964.25L1047.7 2956.91L1047.7 2965.45L1048.7 2956.64L1048.7 2967.67L1049.7 2956.49L1049.7 2967.27L1050.7 2956.1L1050.7 2965.68L1051.7 2956.28L1051.7 2965.22L1052.7 2957.7L1052.7 2968.86L1053.7 2956.22L1053.7 2965.54L1054.7 2957.45L1054.7 2964.79L1055.7 2956.45L1055.7 2966.1L1056.7 2956.23L1056.7 2967.52L1057.7 2957.19L1057.7 2967.05L1058.7 2955.68L1058.7 2966.19L1059.7 2955.78L1059.7 2967.55L1060.7 2957.71L1060.7 2968.45L1061.7 2956.76L1061.7 2966.76L1062.7 2957.34L1062.7 2965.14L1063.7 2957.1L1063.7 2965.14L1064.7 2957.57L1064.7 2965L1065.7 2953.73L1065.7 2964.36L1066.7 2957.66L1066.7 2965.55L1067.7 2950.21L1067.7 2965.47L1068.7 2955.5L1068.7 2964.52L1069.7 2957.17L1069.7 2965.36L1070.7 2951.92L1070.7 2964.63L1071.7 2957.3L1071.7 2966.46L1072.7 2955.86L1072.7 2964.23L1073.7 2957.25L1073.7 2966.86L1074.7 2953.17L1074.7 2965.34L1075.7 2957.4L1075.7 2965.45L1076.7 2954.41L1076.7 2965.25L1077.7 2955.68L1077.7 2967L1078.7 2954.75L1078.7 2965.61L1079.7 2956.67L1079.7 2967.29L1080.7 2953.04L1080.7 2965.15L1081.7 2957.33L1081.7 2966.29L1082.7 2957.79L1082.7 2964.97L1083.7 2956.95L1083.7 2969.37L1084.7 2957.59L1084.7 2966.76L1085.7 2955.84L1085.7 2964.66L1086.7 2956.25L1086.7 2966.88L1087.7 2957.41L1087.7 2964.25L1088.7 2956.67L1088.7 2965.43L1089.7 2956.45L1089.7 2965.41L1090.7 2957.8L1090.7 2964.67L1091.7 2955.86L1091.7 2965.62L1092.7 2956.6L1092.7 2967.69L1093.7 2951.13L1093.7 2965.39L1094.7 2956.92L1094.7 2964.42L1095.7 2956.25L1095.7 2964.49L1096.7 2957.02L1096.7 2965.29L1097.7 2955.68L1097.7 2964.82L1098.7 2957.63L1098.7 2966.71L1099.7 2950.9L1099.7 2966.28L1100.7 2957.41L1100.7 2964.69L1101.7 2957.2L1101.7 2971.29L1102.7 2954.14L1102.7 2965.69L1103.7 2956.6L1103.7 2964.43L1104.7 2957.76L1104.7 2970.28L1105.7 2956.22L1105.7 2964.39L1106.7 2956.73L1106.7 2966.71L1107.7 2957.5L1107.7 2964.35L1108.7 2955.82L1108.7 2973.67L1109.7 2955.08L1109.7 2965.39L1110.7 2955.04L1110.7 2965L1111.7 2954.62L1111.7 2965.66L1112.7 2957.22L1112.7 2964.28L1113.7 2956.5L1113.7 2965.58L1114.7 2952.68L1114.7 2965.19L1115.7 2951.07L1115.7 2964.8L1116.7 2955.53L1116.7 2966.16L1117.7 2955.38L1117.7 2965.37L1118.7 2956.24L1118.7 2965.27L1119.7 2957.53L1119.7 2968.6L1120.7 2956.14L1120.7 2971.94L1121.7 2955.67L1121.7 2965.41L1122.7 2957.76L1122.7 2964.54L1123.7 2956.66L1123.7 2966.79L1124.7 2957.77L1124.7 2964.27L1125.7 2954.5L1125.7 2970.04L1126.7 2957.35L1126.7 2966.24L1127.7 2955.98L1127.7 2966.22L1128.7 2957.14L1128.7 2965.21L1129.7 2956.77L1129.7 2967.13L1130.7 2953.27L1130.7 2965.84L1131.7 2956.6L1131.7 2966.14L1132.7 2957.67L1132.7 2964.39L1133.7 2956.6L1133.7 2966.99L1134.7 2957.64L1134.7 2967.94L1135.7 2957.54L1135.7 2966.03L1136.7 2956.36L1136.7 2964.92L1137.7 2954.32L1137.7 2966.21L1138.7 2957.7L1138.7 2965L1139.7 2956.23L1139.7 2965.39L1140.7 2955.76L1140.7 2965.03L1141.7 2956.43L1141.7 2964.37L1142.7 2957.42L1142.7 2965.41L1143.7 2956.42L1143.7 2964.61L1144.7 2957.1L1144.7 2965.63L1145.7 2956.09L1145.7 2964.71L1146.7 2950.2L1146.7 2965L1147.7 2955.43L1147.7 2966.51L1148.7 2957.24L1148.7 2965.46L1149.7 2957.21L1149.7 2964.81L1150.7 2957.03L1150.7 2966.47L1151.7 2957.29L1151.7 2965.46L1152.7 2956.79L1152.7 2964.24L1153.7 2956.14L1153.7 2967.06L1154.7 2957.63L1154.7 2964.37L1155.7 2957.63L1155.7 2968.65L1156.7 2957.6L1156.7 2966.33L1157.7 2953.32L1157.7 2965.88L1158.7 2956.35L1158.7 2965.72L1159.7 2954.56L1159.7 2965.58L1160.7 2956.39L1160.7 2964.88L1161.7 2956.14L1161.7 2965.08L1162.7 2957.33L1162.7 2964.29L1163.7 2957.7L1163.7 2965.17L1164.7 2954.88L1164.7 2966.63L1165.7 2957.51L1165.7 2964.22L1166.7 2956.1L1166.7 2964.25L1167.7 2956.26L1167.7 2964.54L1168.7 2956.76L1168.7 2964.31L1169.7 2957.77L1169.7 2967.05L1170.7 2951.86L1170.7 2964.35L1171.7 2956.85L1171.7 2965.47L1172.7 2954.19L1172.7 2964.38L1173.7 2957.6L1173.7 2964.91L1174.7 2956.35L1174.7 2964.61L1175.7 2953.13L1175.7 2964.35L1176.7 2955.41L1176.7 2965.87L1177.7 2956.3L1177.7 2965.49L1178.7 2957.34L1178.7 2964.89L1179.7 2956.42L1179.7 2965.53L1180.7 2954.8L1180.7 2966.27L1181.7 2956.45L1181.7 2966.42L1182.7 2953.52L1182.7 2965.42L1183.7 2955.75L1183.7 2966.18L1184.7 2957.22L1184.7 2964.52L1185.7 2951.01L1185.7 2964.62L1186.7 2956.55L1186.7 2965.62L1187.7 2956.52L1187.7 2965.67L1188.7 2957.37L1188.7 2966.32L1189.7 2955.75L1189.7 2965.48L1190.7 2956.61L1190.7 2964.86L1191.7 2956.92L1191.7 2964.47L1192.7 2956.76L1192.7 2966.21L1193.7 2956.28L1193.7 2968.95L1194.7 2957.02L1194.7 2966.79L1195.7 2956.77L1195.7 2965.87L1196.7 2956.5L1196.7 2964.26L1197.7 2957.62L1197.7 2964.58L1198.7 2956.95L1198.7 2967.09L1199.7 2956.09L1199.7 2964.42L1200.7 2955.51L1200.7 2966.15L1201.7 2956.32L1201.7 2967.22L1202.7 2957.64L1202.7 2964.54L1203.7 2956.71L1203.7 2965.32L1204.7 2957.1L1204.7 2964.83L1205.7 2956.51L1205.7 2964.76L1206.7 2957.03L1206.7 2965.97L1207.7 2957.33L1207.7 2965.75L1208.7 2956.9L1208.7 2964.67L1209.7 2954.57L1209.7 2966.73L1210.7 2952.61L1210.7 2965.68L1211.7 2955.07L1211.7 2964.56L1212.7 2957.29L1212.7 2964.41L1213.7 2952.48L1213.7 2964.47L1214.7 2955.87L1214.7 2969.55L1215.7 2957.8L1215.7 2965.77L1216.7 2957.48L1216.7 2967.25L1217.7 2952.18L1217.7 2966.69L1218.7 2956.94L1218.7 2964.64L1219.7 2956.7L1219.7 2964.84L1220.7 2957.48L1220.7 2966.33L1221.7 2957.73L1221.7 2965.79L1222.7 2956.51L1222.7 2966.07L1223.7 2955.21L1223.7 2964.29L1224.7 2954.7L1224.7 2964.22L1225.7 2953.63L1225.7 2965.71L1226.7 2956.67L1226.7 2969.13L1227.7 2950.68L1227.7 2964.9L1228.7 2956.66L1228.7 2964.8L1229.7 2952.69L1229.7 2964.2L1230.7 2957.18L1230.7 2965.27L1231.7 2957.55L1231.7 2965.94L1232.7 2957.41L1232.7 2966.22L1233.7 2956.7L1233.7 2965.17L1234.7 2954.64L1234.7 2965.37L1235.7 2951.94L1235.7 2966.68L1236.7 2956.69L1236.7 2966.07L1237.7 2955.76L1237.7 2964.39L1238.7 2957.16L1238.7 2964.3L1239.7 2956.34L1239.7 2965.76L1240.7 2956.45L1240.7 2964.24L1241.7 2956.8L1241.7 2967.87L1242.7 2956.7L1242.7 2965.66L1243.7 2955.32L1243.7 2970.02L1244.7 2953.11L1244.7 2964.36L1245.7 2955.53L1245.7 2964.71L1246.7 2956.96L1246.7 2965.49L1247.7 2956.53L1247.7 2964.76L1248.7 2956.02L1248.7 2965L1249.7 2956.03L1249.7 2965.78L1250.7 2956.19L1250.7 2965.97L1251.7 2957.55L1251.7 2964.71L1252.7 2956.85L1252.7 2964.38L1253.7 2956.46L1253.7 2964.42L1254.7 2957.01L1254.7 2965.62L1255.7 2951.63L1255.7 2964.73L1256.7 2957.72L1256.7 2965.28L1257.7 2955.93L1257.7 2965.28L1258.7 2955.34L1258.7 2965.87L1259.7 2956.11L1259.7 2967.19L1260.7 2957.71L1260.7 2964.76L1261.7 2956.58L1261.7 2964.21L1262.7 2957.78L1262.7 2964.95L1263.7 2956.18L1263.7 2966.04L1264.7 2951.97L1264.7 2965.44L1265.7 2956.63L1265.7 2966.07L1266.7 2954.76L1266.7 2965.78L1267.7 2957.32L1267.7 2964.44L1268.7 2955.91L1268.7 2966.92L1269.7 2956.62L1269.7 2966.15L1270.7 2951.67L1270.7 2966.98L1271.7 2957.25L1271.7 2966.09L1272.7 2957.67L1272.7 2964.76L1273.7 2956.28L1273.7 2965.75L1274.7 2954.19L1274.7 2964.3L1275.7 2956.3L1275.7 2966.9L1276.7 2957.13L1276.7 2965.52L1277.7 2956.47L1277.7 2965.89L1278.7 2955.36L1278.7 2966.5L1279.7 2957.53L1279.7 2965.69L1280.7 2957.63L1280.7 2965.52L1281.7 2957.03L1281.7 2966.7L1282.7 2957.67L1282.7 2970.68L1283.7 2954.36L1283.7 2964.64L1284.7 2957.19L1284.7 2965.51L1285.7 2955.98L1285.7 2965.02L1286.7 2956.42L1286.7 2966.2L1287.7 2956.96L1287.7 2965.06L1288.7 2951.79L1288.7 2964.53L1289.7 2955.77L1289.7 2967.45L1290.7 2956.79L1290.7 2965.73L1291.7 2956.4L1291.7 2964.74L1292.7 2954.83L1292.7 2966.52L1293.7 2956.65L1293.7 2964.86L1294.7 2957.51L1294.7 2965L1295.7 2957.02L1295.7 2964.95L1296.7 2956.59L1296.7 2965.97L1297.7 2956.28L1297.7 2965.63L1298.7 2957.39L1298.7 2967.97L1299.7 2952.91L1299.7 2969.61L1300.7 2957.59L1300.7 2964.77L1301.7 2957.69L1301.7 2964.3L1302.7 2949.66L1302.7 2964.3L1303.7 2957.24L1303.7 2965.74L1304.7 2955.4L1304.7 2964.61L1305.7 2956.73L1305.7 2965.83L1306.7 2954.86L1306.7 2966.84L1307.7 2956.66L1307.7 2967.13L1308.7 2957.79L1308.7 2966.13L1309.7 2956.29L1309.7 2964.47L1310.7 2955.2L1310.7 2965.08L1311.7 2956.71L1311.7 2965.66L1312.7 2955.86L1312.7 2964.3L1313.7 2957.49L1313.7 2967.84L1314.7 2957.2L1314.7 2965.53L1315.7 2955.88L1315.7 2964.87L1316.7 2956.7L1316.7 2964.63L1317.7 2957.41L1317.7 2965.89L1318.7 2956.99L1318.7 2965.77L1319.7 2956.82L1319.7 2966.18L1320.7 2956.45L1320.7 2964.52L1321.7 2957.67L1321.7 2965.76L1322.7 2957.51L1322.7 2969.96L1323.7 2957.39L1323.7 2970.35L1324.7 2953.21L1324.7 2964.85L1325.7 2957.45L1325.7 2965.69L1326.7 2955.47L1326.7 2965.52L1327.7 2949.91L1327.7 2966.65L1328.7 2956.27L1328.7 2964.32L1329.7 2956.72L1329.7 2964.3L1330.7 2956.06L1330.7 2965.85L1331.7 2956.65L1331.7 2970.24L1332.7 2957.38L1332.7 2965.14L1333.7 2956.63L1333.7 2964.5L1334.7 2956.66L1334.7 2967.34L1335.7 2957.74L1335.7 2964.53L1336.7 2957.44L1336.7 2966.51L1337.7 2956.11L1337.7 2964.61L1338.7 2953.07L1338.7 2966.4L1339.7 2957.3L1339.7 2968.87L1340.7 2957.35L1340.7 2964.49L1341.7 2957.56L1341.7 2964.52L1342.7 2955.85L1342.7 2965.53L1343.7 2954.21L1343.7 2964.25L1344.7 2957.44L1344.7 2968.02L1345.7 2953.49L1345.7 2965.64L1346.7 2956.69L1346.7 2966.66L1347.7 2957.66L1347.7 2966.17L1348.7 2955.56L1348.7 2966.03L1349.7 2956.2L1349.7 2965.07L1350.7 2955.09L1350.7 2965.67L1351.7 2957.58L1351.7 2966.16L1352.7 2957.76L1352.7 2967.12L1353.7 2957.78L1353.7 2964.56L1354.7 2957.16L1354.7 2964.55L1355.7 2957.21L1355.7 2964.46L1356.7 2957.53L1356.7 2967.64L1357.7 2957.8L1357.7 2965.2L1358.7 2956.54L1358.7 2965.46L1359.7 2956.02L1359.7 2965.42L1360.7 2956.82L1360.7 2965.11L1361.7 2957.67L1361.7 2964.2L1362.7 2957.15L1362.7 2964.72L1363.7 2955.16L1363.7 2966.69L1364.7 2956.95L1364.7 2965.15L1365.7 2956.41L1365.7 2964.97L1366.7 2957.56L1366.7 2964.85L1367.7 2955.97L1367.7 2964.91L1368.7 2956.94L1368.7 2965.27L1369.7 2956.94L1369.7 2964.6L1370.7 2955.46L1370.7 2965.09L1371.7 2956.68L1371.7 2964.7L1372.7 2957.21L1372.7 2966.72L1373.7 2956.02L1373.7 2964.73L1374.7 2957.62L1374.7 2968.52L1375.7 2957.28L1375.7 2964.69L1376.7 2957.59L1376.7 2966.12L1377.7 2951.29L1377.7 2964.99L1378.7 2955.96L1378.7 2966.13L1379.7 2957.66L1379.7 2964.56L1380.7 2957.1L1380.7 2965.29L1381.7 2957L1381.7 2965.8L1382.7 2955.71L1382.7 2965.8L1383.7 2957.38L1383.7 2964.33L1384.7 2956.31L1384.7 2965.24L1385.7 2957.73L1385.7 2964.89L1386.7 2957.27L1386.7 2965.68L1387.7 2957.25L1387.7 2964.24L1388.7 2957.77L1388.7 2964.37L1389.7 2957.37L1389.7 2964.61L1390.7 2957.12L1390.7 2966.53L1391.7 2953.66L1391.7 2966.28L1392.7 2955.75L1392.7 2965.86L1393.7 2957.14L1393.7 2964.65L1394.7 2956.22L1394.7 2964.64L1395.7 2955.41L1395.7 2964.23L1396.7 2957.43L1396.7 2965.06L1397.7 2955.92L1397.7 2964.62L1398.7 2957.75L1398.7 2966.26L1399.7 2956.06L1399.7 2964.97L1400.7 2956.14L1400.7 2964.96L1401.7 2957.71L1401.7 2966.37L1402.7 2957.66L1402.7 2965.41L1403.7 2956.69L1403.7 2964.79L1404.7 2955.77L1404.7 2964.73L1405.7 2956.28L1405.7 2967.69L1406.7 2957.41L1406.7 2965.95L1407.7 2956.61L1407.7 2967.06L1408.7 2955.9L1408.7 2965.07L1409.7 2953.47L1409.7 2965.94L1410.7 2956.42L1410.7 2964.54L1411.7 2954.56L1411.7 2964.44L1412.7 2957.69L1412.7 2965.13L1413.7 2956.35L1413.7 2967.55L1414.7 2957.77L1414.7 2965.02L1415.7 2956.99L1415.7 2965.68L1416.7 2954.08L1416.7 2964.61L1417.7 2957.26L1417.7 2968.56L1418.7 2957.41L1418.7 2965.69L1419.7 2950.7L1419.7 2964.32L1420.7 2955.15L1420.7 2966.63L1421.7 2955.32L1421.7 2968.25L1422.7 2957.12L1422.7 2965.71L1423.7 2957.38L1423.7 2965.05L1424.7 2956.9L1424.7 2964.36L1425.7 2956.33L1425.7 2965.65L1426.7 2951.51L1426.7 2965.4L1427.7 2957.67L1427.7 2965.26L1428.7 2953.44L1428.7 2964.64L1429.7 2956.92L1429.7 2965.76L1430.7 2956.42L1430.7 2965.29L1431.7 2953.53L1431.7 2964.66L1432.7 2957.19L1432.7 2964.68L1433.7 2956.86L1433.7 2965.09L1434.7 2957.6L1434.7 2965.63L1435.7 2957.6L1435.7 2966.55L1436.7 2957.7L1436.7 2965.47L1437.7 2955.75L1437.7 2964.47L1438.7 2956.36L1438.7 2967.4L1439.7 2955.35L1439.7 2966.36L1440.7 2957.73L1440.7 2971.95L1441.7 2956.31L1441.7 2967.68L1442.7 2956.68L1442.7 2966.5L1443.7 2956.32L1443.7 2964.53L1444.7 2956.21L1444.7 2964.2L1445.7 2956.92L1445.7 2965.1L1446.7 2957.78L1446.7 2964.85L1447.7 2955.65L1447.7 2966.76L1448.7 2956.77L1448.7 2966.66L1449.7 2957.6L1449.7 2965.64L1450.7 2956.36L1450.7 2965.36L1451.7 2957.57L1451.7 2965.11L1452.7 2957.05L1452.7 2968.2L1453.7 2956.96L1453.7 2965.34L1454.7 2956.44L1454.7 2965.14L1455.7 2955.38L1455.7 2967.3L1456.7 2956.55L1456.7 2964.58L1457.7 2956.61L1457.7 2964.92L1458.7 2951.16L1458.7 2966.14L1459.7 2955.91L1459.7 2964.57L1460.7 2957.7L1460.7 2969.48L1461.7 2956.26L1461.7 2969.1L1462.7 2956.53L1462.7 2965.65L1463.7 2957.74L1463.7 2964.54L1464.7 2956.43L1464.7 2965.2L1465.7 2957.65L1465.7 2964.97L1466.7 2956.92L1466.7 2966.51L1467.7 2957.28L1467.7 2965.14L1468.7 2956.22L1468.7 2967.83L1469.7 2957.18L1469.7 2965.23L1470.7 2954.84L1470.7 2964.44L1471.7 2954.84L1471.7 2967.48L1472.7 2954.4L1472.7 2965.49L1473.7 2951.92L1473.7 2964.88L1474.7 2954.53L1474.7 2965.38L1475.7 2955.83L1475.7 2965.7L1476.7 2957.53L1476.7 2964.9L1477.7 2957.19L1477.7 2964.33L1478.7 2956.77L1478.7 2966.01L1479.7 2957.17L1479.7 2964.99L1480.7 2954.84L1480.7 2964.52L1481.7 2956.26L1481.7 2964.68L1482.7 2955.56L1482.7 2965.05L1483.7 2956.51L1483.7 2964.27L1484.7 2956.6L1484.7 2966.44L1485.7 2957.42L1485.7 2965.48L1486.7 2957.23L1486.7 2966.23L1487.7 2956.98L1487.7 2965.68L1488.7 2955.86L1488.7 2964.65L1489.7 2955.8L1489.7 2964.52L1490.7 2950.5L1490.7 2965.46L1491.7 2956.08L1491.7 2965.57L1492.7 2957.31L1492.7 2964.86L1493.7 2957L1493.7 2969.34L1494.7 2957.7L1494.7 2964.86L1495.7 2957.55L1495.7 2966.69L1496.7 2957.57L1496.7 2965.64L1497.7 2955.4L1497.7 2965.87L1498.7 2952.42L1498.7 2965.48L1499.7 2955.17L1499.7 2966.86L1500.7 2955.88L1500.7 2964.4L1501.7 2955.52L1501.7 2970.86L1502.7 2956.19L1502.7 2964.84L1503.7 2956.83L1503.7 2965.33L1504.7 2957.59L1504.7 2964.37L1505.7 2957.57L1505.7 2964.91L1506.7 2954.69L1506.7 2965.52L1507.7 2957.31L1507.7 2964.34L1508.7 2956.33L1508.7 2965.93L1509.7 2957.19L1509.7 2968.51L1510.7 2957.41L1510.7 2967.29L1511.7 2957.57L1511.7 2964.99L1512.7 2956.74L1512.7 2964.31L1513.7 2954.51L1513.7 2964.26L1514.7 2956.02L1514.7 2966.03L1515.7 2952.38L1515.7 2964.72L1516.7 2956.39L1516.7 2965.57L1517.7 2955.9L1517.7 2964.4L1518.7 2957L1518.7 2965.01L1519.7 2955.27L1519.7 2964.71L1520.7 2957.8L1520.7 2964.79L1521.7 2956.98L1521.7 2966.16L1522.7 2956.55L1522.7 2964.77L1523.7 2954.77L1523.7 2964.37L1524.7 2955.64L1524.7 2965.07L1525.7 2956.91L1525.7 2965.84L1526.7 2957.62L1526.7 2964.27L1527.7 2955.21L1527.7 2964.62L1528.7 2956.38L1528.7 2968.4L1529.7 2950.64L1529.7 2965.98L1530.7 2956.8L1530.7 2966.8L1531.7 2957.58L1531.7 2966L1532.7 2954.14L1532.7 2965.45L1533.7 2957.76L1533.7 2966.42L1534.7 2957.31L1534.7 2967.31L1535.7 2956.37L1535.7 2964.83L1536.7 2956.09L1536.7 2964.26L1537.7 2957.5L1537.7 2965.19L1538.7 2955.91L1538.7 2971.53L1539.7 2957.37L1539.7 2964.85L1540.7 2956.66L1540.7 2965.3L1541.7 2956.68L1541.7 2965.64L1542.7 2954.96L1542.7 2966.22L1543.7 2954.16L1543.7 2971.71L1544.7 2956.11L1544.7 2965.16L1545.7 2957.55L1545.7 2966.73L1546.7 2955.94L1546.7 2965.12L1547.7 2956.56L1547.7 2964.39L1548.7 2956.75L1548.7 2965.59L1549.7 2957.42L1549.7 2966.1L1550.7 2957.56L1550.7 2967.58L1551.7 2956.45L1551.7 2967.78L1552.7 2956.51L1552.7 2965.1L1553.7 2948.7L1553.7 2964.43L1554.7 2957.32L1554.7 2964.24L1555.7 2955.17L1555.7 2965.74L1556.7 2956.57L1556.7 2964.95L1557.7 2952.84L1557.7 2966.76L1558.7 2956.39L1558.7 2971.65L1559.7 2955.63L1559.7 2966.23L1560.7 2957.06L1560.7 2966.19L1561.7 2955.96L1561.7 2965.44L1562.7 2956.65L1562.7 2966.6L1563.7 2956.51L1563.7 2966L1564.7 2956.67L1564.7 2965.85L1565.7 2957.34L1565.7 2964.39L1566.7 2956.21L1566.7 2966.75L1567.7 2956.67L1567.7 2965.31L1568.7 2955.8L1568.7 2965.38L1569.7 2956.09L1569.7 2964.79L1570.7 2956.91L1570.7 2965.72L1571.7 2957.08L1571.7 2964.55L1572.7 2954.51L1572.7 2967.18L1573.7 2957.36L1573.7 2966.33L1574.7 2957.5L1574.7 2966.19L1575.7 2957.33L1575.7 2970.42L1576.7 2954.24L1576.7 2965.53L1577.7 2956.9L1577.7 2965.45L1578.7 2956.66L1578.7 2964.64L1579.7 2957.72L1579.7 2964.21L1580.7 2955.91L1580.7 2965.66L1581.7 2957.31L1581.7 2965.8L1582.7 2957.6L1582.7 2966.23L1583.7 2955.9L1583.7 2965.53L1584.7 2956.75L1584.7 2964.53L1585.7 2957.1L1585.7 2969.84L1586.7 2953.89L1586.7 2967.65L1587.7 2955.99L1587.7 2964.52L1588.7 2956.67L1588.7 2965.64L1589.7 2955.92L1589.7 2964.96L1590.7 2957.37L1590.7 2966.18L1591.7 2953.96L1591.7 2964.78L1592.7 2956.38L1592.7 2964.84L1593.7 2955.27L1593.7 2964.64L1594.7 2955.86L1594.7 2964.74L1595.7 2954.83L1595.7 2965.72L1596.7 2957.72L1596.7 2964.79L1597.7 2957.79L1597.7 2965.3L1598.7 2957.63L1598.7 2965.05L1599.7 2957.33L1599.7 2965.68L1600.7 2956.96L1600.7 2965.99L1601.7 2957.07L1601.7 2966.09L1602.7 2952.79L1602.7 2966.71L1603.7 2956.5L1603.7 2965.2L1604.7 2957.49L1604.7 2964.67L1605.7 2956.8L1605.7 2965.26L1606.7 2957.78L1606.7 2966.54L1607.7 2956.12L1607.7 2964.78L1608.7 2957.2L1608.7 2964.32L1609.7 2957.29L1609.7 2968.05L1610.7 2956.3L1610.7 2964.63L1611.7 2954.69L1611.7 2965.92L1612.7 2957.7L1612.7 2965.78L1613.7 2955.66L1613.7 2966.85L1614.7 2957.36L1614.7 2966.33L1615.7 2954.34L1615.7 2966.78L1616.7 2954.6L1616.7 2965.65L1617.7 2957.73L1617.7 2966.93L1618.7 2957.69L1618.7 2965.27L1619.7 2957.16L1619.7 2965.33L1620.7 2951.81L1620.7 2965.24L1621.7 2951.9L1621.7 2965.69L1622.7 2957.2L1622.7 2965.38L1623.7 2955.68L1623.7 2966.36L1624.7 2957.7L1624.7 2967.25L1625.7 2955.2L1625.7 2966.14L1626.7 2956.01L1626.7 2964.96L1627.7 2956.93L1627.7 2964.93L1628.7 2956.53L1628.7 2970.65L1629.7 2954.69L1629.7 2964.72L1630.7 2955.65L1630.7 2965.23L1631.7 2957.18L1631.7 2964.73L1632.7 2956.98L1632.7 2964.26L1633.7 2957.73L1633.7 2966.04L1634.7 2957.02L1634.7 2965.02L1635.7 2955.79L1635.7 2964.29L1636.7 2956.44L1636.7 2966.09L1637.7 2956.94L1637.7 2964.93L1638.7 2956.52L1638.7 2964.34L1639.7 2956.53L1639.7 2964.29L1640.7 2951.45L1640.7 2964.97L1641.7 2954.12L1641.7 2966.63L1642.7 2957.08L1642.7 2964.6L1643.7 2957.6L1643.7 2965.11L1644.7 2957.8L1644.7 2964.88L1645.7 2956.78L1645.7 2965.74L1646.7 2957.21L1646.7 2965.74L1647.7 2951.75L1647.7 2964.22L1648.7 2956.66L1648.7 2966.34L1649.7 2956.31L1649.7 2964.74L1650.7 2956.88L1650.7 2965.96L1651.7 2957.48L1651.7 2965.16L1652.7 2956.37L1652.7 2966.1L1653.7 2957.56L1653.7 2966.32L1654.7 2954.86L1654.7 2967.62L1655.7 2957.23L1655.7 2965.13L1656.7 2957.54L1656.7 2965.46L1657.7 2955.43L1657.7 2964.53L1658.7 2957.29L1658.7 2964.28L1659.7 2956.04L1659.7 2965.2L1660.7 2952.2L1660.7 2964.38L1661.7 2956.55L1661.7 2966.07L1662.7 2955.88L1662.7 2964.53L1663.7 2956.59L1663.7 2965.13L1664.7 2956.16L1664.7 2965.33L1665.7 2954.45L1665.7 2965.61L1666.7 2955.82L1666.7 2967.76L1667.7 2956.97L1667.7 2965.09L1668.7 2956.95L1668.7 2964.39L1669.7 2957.77L1669.7 2968.41L1670.7 2955.6L1670.7 2965.1L1671.7 2956.94L1671.7 2966.4L1672.7 2955.58L1672.7 2967.96L1673.7 2957.75L1673.7 2971.55L1674.7 2956.99L1674.7 2964.95L1675.7 2956.92L1675.7 2964.99L1676.7 2951.89L1676.7 2965.25L1677.7 2956.84L1677.7 2965.15L1678.7 2956.63L1678.7 2969.55L1679.7 2956.46L1679.7 2964.31L1680.7 2956.64L1680.7 2966.55L1681.7 2955.76L1681.7 2964.61L1682.7 2955.62L1682.7 2964.51L1683.7 2950.32L1683.7 2965.24L1684.7 2957.77L1684.7 2964.65L1685.7 2957.32L1685.7 2964.22L1686.7 2956.06L1686.7 2965.24L1687.7 2955.89L1687.7 2968.85L1688.7 2954.25L1688.7 2965.66L1689.7 2957L1689.7 2964.2L1690.7 2957.63L1690.7 2967.05L1691.7 2954.72L1691.7 2964.85L1692.7 2955.82L1692.7 2964.27L1693.7 2956.71L1693.7 2964.98L1694.7 2955.43L1694.7 2966.17L1695.7 2957.48L1695.7 2964.49L1696.7 2955.82L1696.7 2966.12L1697.7 2952.54L1697.7 2965.77L1698.7 2956.82L1698.7 2965.02L1699.7 2957.52L1699.7 2966.59L1700.7 2957.75L1700.7 2965.85L1701.7 2957.64L1701.7 2965.72L1702.7 2957.39L1702.7 2965.26L1703.7 2956.15L1703.7 2966.71L1704.7 2955.4L1704.7 2964.86L1705.7 2957.62L1705.7 2965.48L1706.7 2955.32L1706.7 2964.58L1707.7 2955.8L1707.7 2964.75L1708.7 2955.61L1708.7 2965.94L1709.7 2957.37L1709.7 2969.7L1710.7 2957.51L1710.7 2964.84L1711.7 2957.39L1711.7 2964.63L1712.7 2951.13L1712.7 2964.86L1713.7 2956.36L1713.7 2967.39L1714.7 2955.29L1714.7 2964.27L1715.7 2957.61L1715.7 2964.26L1716.7 2953.49L1716.7 2965.21L1717.7 2957.2L1717.7 2965.85L1718.7 2957.47L1718.7 2964.81L1719.7 2957.3L1719.7 2965.68L1720.7 2956.89L1720.7 2965.5L1721.7 2956.48L1721.7 2970.16L1722.7 2956.29L1722.7 2965L1723.7 2956.09L1723.7 2968.45L1724.7 2955.36L1724.7 2965.05L1725.7 2957.07L1725.7 2965.86L1726.7 2956.72L1726.7 2965.56L1727.7 2957.66L1727.7 2965.27L1728.7 2957.68L1728.7 2965.8L1729.7 2955.39L1729.7 2964.36L1730.7 2957.64L1730.7 2968.7L1731.7 2955.45L1731.7 2965.91L1732.7 2956.74L1732.7 2965.3L1733.7 2957.13L1733.7 2964.65L1734.7 2957.1L1734.7 2965.59L1735.7 2956.4L1735.7 2966.34L1736.7 2952.72L1736.7 2966.6L1737.7 2956.71L1737.7 2964.39L1738.7 2955.67L1738.7 2965.17L1739.7 2956.16L1739.7 2965.52L1740.7 2956L1740.7 2964.48L1741.7 2956.87L1741.7 2966.45L1742.7 2957.8L1742.7 2965.2L1743.7 2956.61L1743.7 2969.98L1744.7 2955.83L1744.7 2964.68L1745.7 2952.6L1745.7 2964.61L1746.7 2955.88L1746.7 2966.28L1747.7 2955.82L1747.7 2966.72L1748.7 2956.53L1748.7 2967.28L1749.7 2954.23L1749.7 2965.72L1750.7 2957.68L1750.7 2964.28L1751.7 2957.26L1751.7 2968.27L1752.7 2957.45L1752.7 2965.56L1753.7 2956.56L1753.7 2965.42L1754.7 2954.37L1754.7 2964.96L1755.7 2955.95L1755.7 2969.75L1756.7 2957.47L1756.7 2966.25L1757.7 2957.18L1757.7 2972.57L1758.7 2957.23L1758.7 2968.31L1759.7 2957.36L1759.7 2965.12L1760.7 2954.18L1760.7 2964.49L1761.7 2956.22L1761.7 2965.26L1762.7 2957.25L1762.7 2964.93L1763.7 2950.55L1763.7 2965.44L1764.7 2954.66L1764.7 2964.44L1765.7 2956.79L1765.7 2964.21L1766.7 2956.12L1766.7 2965.27L1767.7 2957.47L1767.7 2964.71L1768.7 2953.43L1768.7 2964.66L1769.7 2956.08L1769.7 2966.78L1770.7 2955.09L1770.7 2964.28L1771.7 2957.49L1771.7 2967.11L1772.7 2955.35L1772.7 2964.67L1773.7 2957.26L1773.7 2967.14L1774.7 2956.07L1774.7 2964.45L1775.7 2952.58L1775.7 2965.78L1776.7 2955.4L1776.7 2967.39L1777.7 2956.28L1777.7 2964.85L1778.7 2957.24L1778.7 2965.49L1779.7 2955.89L1779.7 2965.25L1780.7 2954.08L1780.7 2965.15L1781.7 2957.28L1781.7 2965.45L1782.7 2954.92L1782.7 2965.15L1783.7 2956.82L1783.7 2964.37L1784.7 2957.46L1784.7 2965.23L1785.7 2957.1L1785.7 2965L1786.7 2957.08L1786.7 2964.89L1787.7 2957.23L1787.7 2964.28L1788.7 2956.09L1788.7 2966.7L1789.7 2956.02L1789.7 2964.53L1790.7 2957.23L1790.7 2965.3L1791.7 2957.02L1791.7 2964.81L1792.7 2953.95L1792.7 2967.15L1793.7 2957.27L1793.7 2964.44L1794.7 2955.97L1794.7 2964.23L1795.7 2957.26L1795.7 2964.68L1796.7 2956.69L1796.7 2966.53L1797.7 2956.3L1797.7 2965.86L1798.7 2957.71L1798.7 2966.77L1799.7 2955.62L1799.7 2966.87L1800.7 2956.34L1800.7 2967.96L1801.7 2956.13L1801.7 2967.88L1802.7 2953.53L1802.7 2964.71L1803.7 2955.69L1803.7 2969.54L1804.7 2955.33L1804.7 2964.43L1805.7 2956.81L1805.7 2964.28L1806.7 2956.35L1806.7 2964.53L1807.7 2957.25L1807.7 2967.99L1808.7 2951.96L1808.7 2964.33L1809.7 2957.25L1809.7 2968.4L1810.7 2956.87L1810.7 2964.89L1811.7 2951.87L1811.7 2965.98L1812.7 2957.16L1812.7 2966L1813.7 2956.99L1813.7 2968.95L1814.7 2956.68L1814.7 2967.2L1815.7 2957.31L1815.7 2964.29L1816.7 2955.49L1816.7 2965.14L1817.7 2956.74L1817.7 2965.92L1818.7 2953.13L1818.7 2967.79L1819.7 2953.56L1819.7 2966.46L1820.7 2955.14L1820.7 2966.35L1821.7 2954.92L1821.7 2970.22L1822.7 2955.92L1822.7 2964.88L1823.7 2957.26L1823.7 2964.47L1824.7 2956.76L1824.7 2965.02L1825.7 2957.31L1825.7 2967.49L1826.7 2956.66L1826.7 2964.37L1827.7 2950.98L1827.7 2966.77L1828.7 2956.55L1828.7 2964.95L1829.7 2956.55L1829.7 2965.16L1830.7 2954.83L1830.7 2965.52L1831.7 2951.96L1831.7 2965.63L1832.7 2957.41L1832.7 2969L1833.7 2956.16L1833.7 2966.53L1834.7 2956.9L1834.7 2968.17L1835.7 2956.56L1835.7 2965.66L1836.7 2957.33L1836.7 2965.65L1837.7 2956.86L1837.7 2964.44L1838.7 2956.22L1838.7 2966.02L1839.7 2956.18L1839.7 2964.24L1840.7 2956.95L1840.7 2964.76L1841.7 2956.72L1841.7 2964.9L1842.7 2957.03L1842.7 2964.65L1843.7 2956.31L1843.7 2964.26L1844.7 2955.54L1844.7 2966.58L1845.7 2956.59L1845.7 2964.99L1846.7 2957.17L1846.7 2966.14L1847.7 2957.64L1847.7 2964.28L1848.7 2951.76L1848.7 2964.61L1849.7 2956.56L1849.7 2964.95L1850.7 2956.98L1850.7 2964.26L1851.7 2955.45L1851.7 2968L1852.7 2957.61L1852.7 2964.42L1853.7 2953.85L1853.7 2964.8L1854.7 2956L1854.7 2964.4L1855.7 2957.54L1855.7 2966.62L1856.7 2956.48L1856.7 2964.45L1857.7 2956.39L1857.7 2964.41L1858.7 2954.74L1858.7 2969.78L1859.7 2957.65L1859.7 2966.53L1860.7 2957.5L1860.7 2967.42L1861.7 2957.7L1861.7 2965.29L1862.7 2956.78L1862.7 2965.94L1863.7 2957.12L1863.7 2964.79L1864.7 2957.48L1864.7 2964.5L1865.7 2957.75L1865.7 2964.42L1866.7 2957.45L1866.7 2965.01L1867.7 2956.98L1867.7 2964.34L1868.7 2955.11L1868.7 2964.87L1869.7 2956.43L1869.7 2966.21L1870.7 2954.86L1870.7 2968.05L1871.7 2954.87L1871.7 2964.26L1872.7 2957.08L1872.7 2966.27L1873.7 2955.04L1873.7 2966.05L1874.7 2955.77L1874.7 2964.35L1875.7 2956.45L1875.7 2964.45L1876.7 2956.17L1876.7 2968.24L1877.7 2957.18L1877.7 2965.07L1878.7 2957.03L1878.7 2965.32L1879.7 2957.28L1879.7 2965.39L1880.7 2957.28L1880.7 2964.67L1881.7 2957.15L1881.7 2966.15L1882.7 2956.7L1882.7 2964.68L1883.7 2957.37L1883.7 2966.37L1884.7 2957.67L1884.7 2965.48L1885.7 2957.12L1885.7 2964.36L1886.7 2955.44L1886.7 2964.85L1887.7 2956.43L1887.7 2967.78L1888.7 2954.76L1888.7 2969.65L1889.7 2954.34L1889.7 2970.6L1890.7 2953.7L1890.7 2966.14L1891.7 2954.11L1891.7 2964.77L1892.7 2956.2L1892.7 2965.4L1893.7 2956.19L1893.7 2965.68L1894.7 2957.7L1894.7 2967.34L1895.7 2953.23L1895.7 2964.99L1896.7 2957.12L1896.7 2966.13L1897.7 2956.5L1897.7 2965.18L1898.7 2951.03L1898.7 2967.12L1899.7 2956.67L1899.7 2970.1L1900.7 2961M228.64 2961V2947.38M229.92 2961V2975.93M234.39 2961V2972.73M234.71 2961V2904.2M238.55 2961V2948.02M239.51 2961V2985.53M243.03 2961V2982.97M249.11 2961V2952.5M252.31 2961V2981.69M260.94 2961V2938.43M262.86 2961V2975.29M264.46 2961V2946.74M267.98 2961V2971.45M269.58 2961V2948.34M273.74 2961V2979.13M275.66 2961V2905.48M279.5 2961V2975.29M285.89 2961V2948.98M292.29 2961V2953.14M292.29 2961V2979.77M300.93 2961V2988.41M301.57 2961V2869.01M305.09 2961V2972.73M310.85 2961V2952.5M315.96 2961V2972.73M319.8 2961V2938.75M323.64 2961V2975.29M325.88 2961V3006.64M328.76 2961V2948.66M335.8 2961V2935.23M338.35 2961V2938.43M340.59 2961V2848.86M341.87 2961V2972.73M344.11 2961V2931.39M348.27 2961V2949.94M353.71 2961V2926.27M355.31 2961V2978.17M359.47 2961V2948.98M363.31 2961V2943.55M367.14 2961V2976.57M369.7 2961V2948.66M371.62 2961V2886.61M375.78 2961V2999.92M376.42 2961V2934.27M380.9 2961V2972.73M386.02 2961V2942.27M388.9 2961V2975.29M393.05 2961V2982.97M394.33 2961V2949.94M401.69 2961V2950.58M404.25 2961V3074.14M409.05 2961V2925.63M410.97 2961V3030.31M414.49 2961V2934.27M414.49 2961V2983.93M417.04 2961V2876.05M419.6 2961V2941.31M423.44 2961V2969.54M428.88 2961V2942.59M434.96 2961V2977.85M439.44 2961V2897.16M440.72 2961V2975.93M442.96 2961V2949.3M446.79 2961V2948.34M453.51 2961V2976.57M461.51 2961V2948.98M464.71 2961V3037.35M465.67 2961V2948.66M472.7 2961V2938.11M472.7 2961V2972.73M475.26 2961V2942.91M477.82 2961V2945.46M481.34 2961V2974.65M485.5 2961V2952.5M493.5 2961V2949.3M496.05 2961V2938.11M501.17 2961V2893.32M503.09 2961V2912.52M507.89 2961V2979.13M509.49 2961V2947.38M513.65 2961V2977.85M514.93 2961V2945.78M521.33 2961V2949.3M526.44 2961V2987.13M527.08 2961V2928.51M535.4 2961V2940.99M536.68 2961V2975.29M543.08 2961V2937.79M545.64 2961V2941.31M546.28 2961V2972.09M553.31 2961V2949.94M556.83 2961V2987.77M562.4 2961V2777.8M562.59 2961V3019.44M567.71 2961V2949.3M569.95 2961V2972.73M576.02 2961V2945.78M582.1 2961V2944.5M583.7 2961V3006.64M587.86 2961V2948.02M590.1 2961V3015.92M592.02 2961V2929.79M600.02 2961V3104.52M600.65 2961V2948.98M607.69 2961V2984.57M610.89 2961V2949.94M621.45 2961V2931.71M622.09 2961V2975.29M627.52 2961V2944.82M632.96 2961V2919.87M636.8 2961V2972.09M640.64 2961V2882.77M643.52 2961V2984.25M648 2961V2988.09M651.52 2961V2946.74M651.84 2961V2980.09M658.23 2961V2999.28M661.43 2961V2935.55M663.99 2961V2972.73M668.79 2961V2926.91M671.99 2961V2949.94M678.39 2961V2929.47M680.3 2961V2923.71M684.78 2961V2941.95M684.78 2961V2974.33M688.62 2961V2948.66M690.22 2961V2986.17M691.82 2961V2949.94M695.34 2961V3018.16M701.74 2961V2936.83M704.62 2961V2985.21M706.53 2961V2938.75M711.97 2961V2975.93M716.13 2961V2952.5M717.41 2961V2972.73M723.81 2961V2948.34M726.37 2961V2918.91M731.81 2961V2994.81M734.68 2961V2987.13M736.92 2961V2945.14M737.24 2961V2984.57M741.08 2961V2939.07M741.08 2961V2978.49M746.52 2961V2936.51M749.08 2961V2979.45M750.68 2961V2947.38M751.96 2961V2979.13M758.99 2961V2978.17M763.15 2961V2944.82M764.75 2961V2941.31M771.15 2961V2972.73M776.91 2961V2982.97M779.15 2961V2950.58M788.74 2961V2950.58M791.94 2961V2975.29M793.86 2961V2939.71M796.74 2961V2933.31M797.38 2961V2991.93M799.62 2961V2990.33M802.5 2961V2945.46M809.22 2961V2951.22M813.69 2961V2989.37M819.77 2961V2975.93M824.25 2961V2982.97M825.53 2961V2941.95M827.45 2961V2974.33M830.33 2961V2940.99M831.93 2961V2946.1M840.88 2961V2981.37M841.52 2961V2950.58M846.32 2961V2972.73M849.84 2961V2947.38M853.36 2961V2988.73M859.12 2961V2936.83M860.72 2961V2985.53M862.96 2961V2902.92M864.87 2961V2945.14M865.51 2961V2984.57M869.35 2961V2974.33M874.47 2961V2984.57M879.91 2961V2949.94M880.55 2961V2977.85M884.71 2961V2934.91M887.27 2961V2945.46M887.3 2961V3501M889.82 2961V2981.69M890.46 2961V2923.07M896.86 2961V2942.91M902.3 2961V2972.73M904.54 2961V2945.78M910.3 2961V2979.13M911.9 2961V2952.5M927.89 2961V2972.73M931.73 2961V2946.74M935.89 2961V2936.51M940.69 2961V2925.95M941.96 2961V3000.88M946.12 2961V2944.5M948.68 2961V2946.1M948.68 2961V2975.29M956.68 2961V2948.02M959.24 2961V2948.66M961.48 2961V3037.99M963.72 2961V2980.73M965.64 2961V2981.69M967.88 2961V2983.29M976.83 2961V2940.67M979.07 2961V2972.73M991.87 2961V2952.5M1000.82 2961V2944.5M1001.46 2961V2978.49M1007.86 2961V2948.66M1011.06 2961V2984.89M1012.98 2961V2943.87M1013.3 2961V2985.53M1015.54 2961V2982.33M1016.5 2961V2946.74M1021.29 2961V2925.95M1022.89 2961V2907.08M1024.17 2961V3021.04M1028.97 2961V2953.14M1042.41 2961V2951.86M1049.44 2961V2940.35M1051.04 2961V2988.09M1055.84 2961V2951.86M1063.52 2961V2937.79M1068 2961V2972.73M1068.96 2961V2945.46M1074.39 2961V2946.74M1078.23 2961V2916.36M1083.03 2961V2948.02M1083.03 2961V2985.21M1091.35 2961V2951.22M1093.27 2961V2995.77M1096.15 2961V2947.06M1099.66 2961V2940.99M1108.94 2961V2975.93M1111.18 2961V2952.5M1115.02 2961V3045.03M1117.9 2961V2937.79M1120.78 2961V2939.71M1126.85 2961V2945.78M1129.41 2961V2947.38M1129.73 2961V2993.53M1131.65 2961V2984.57M1132.61 2961V2918.27M1135.49 2961V3020.72M1139.97 2961V2951.86M1145.73 2961V2981.37M1146.37 2961V2953.14M1149.89 2961V3006.64M1151.81 2961V2940.99M1157.88 2961V2981.05M1161.08 2961V2978.49M1162.36 2961V2946.1M1168.12 2961V2951.22M1168.76 2961V2975.93M1173.88 2961V2979.13M1174.52 2961V2944.82M1176.12 2961V2979.77M1177.08 2961V2923.07M1180.27 2961V2943.55M1183.79 2961V2930.43M1185.39 2961V2982.65M1187.95 2961V2936.51M1188.91 2961V2973.37M1192.43 2961V2868.05M1195.63 2961V3011.44M1200.75 2961V2949.94M1204.58 2961V2948.34M1204.58 2961V2974.65M1212.9 2961V2950.58M1216.74 2961V2946.42M1217.38 2961V2972.73M1219.94 2961V2910.92M1220.26 2961V2985.53M1224.1 2961V2942.91M1231.77 2961V2978.17M1232.73 2961V2953.14M1245.53 2961V2951.22M1246.17 2961V2978.17M1254.81 2961V2946.74M1261.52 2961V2979.45M1266.96 2961V2946.74M1273.68 2961V2978.17M1274.32 2961V2949.3M1279.12 2961V2940.35M1282.64 2961V2989.37M1285.19 2961V2898.12M1287.11 2961V2983.93M1294.47 2961V2949.3M1306.31 2961V2978.17M1306.95 2961V2943.87M1309.82 2961V2915.08M1311.74 2961V2979.45M1313.34 2961V2946.74M1316.54 2961V2974.33M1319.74 2961V2989.69M1323.26 2961V2873.17M1327.42 2961V2940.99M1327.74 2961V2975.93M1329.34 2961V2946.1M1336.05 2961V2975.93M1338.61 2961V2991.93M1339.89 2961V2951.22M1352.69 2961V2953.14M1357.17 2961V2849.82M1359.09 2961V2978.17M1360.69 2961V2949.94M1362.28 2961V2986.49M1365.8 2961V2856.86M1376.04 2961V2937.79M1382.44 2961V2945.46M1385.32 2961V2948.66M1387.88 2961V2975.29M1388.83 2961V2943.55M1391.07 2961V2927.87M1400.35 2961V2930.75M1405.15 2961V2931.39M1407.07 2961V2978.17M1410.91 2961V2947.38M1411.23 2961V2975.29M1414.42 2961V2949.3M1417.62 2961V2942.27M1421.46 2961V2975.93M1425.3 2961V2996.09M1427.22 2961V2953.14M1432.02 2961V3009.2M1440.65 2961V2951.86M1449.61 2961V2949.94M1449.61 2961V2979.13M1451.21 2961V2897.16M1451.21 2961V2986.49M1454.73 2961V2943.87M1457.61 2961V3009.84M1458.89 2961V2923.39M1463.05 2961V2948.02M1467.7 2961V2615.6M1471.04 2961V2935.55M1472.64 2961V2972.73M1475.84 2961V2951.22M1478.72 2961V2974.65M1485.12 2961V2945.46M1489.28 2961V2992.89M1491.84 2961V2931.71M1494.71 2961V2921.15M1495.99 2961V2972.73M1496.63 2961V2898.12M1500.79 2961V2943.55M1504.63 2961V2928.51M1506.55 2961V2973.37M1511.99 2961V2946.74M1514.23 2961V2931.71M1518.71 2961V2947.7M1519.66 2961V2990.97M1521.9 2961V2989.37M1527.98 2961V2938.11M1530.22 2961V2986.17M1533.1 2961V2977.85M1536.94 2961V2925.63M1541.1 2961V2983.29M1555.17 2961V2974.33M1556.77 2961V2947.06M1559.97 2961V2947.38M1565.5 2961V3150M1573.4 2961V2938.11M1575.96 2961V2974.33M1583 2961V2885.33M1585.56 2961V2905.16M1591.32 2961V2804.72M1595.8 2961V3107.72M1597.4 2961V2917.32M1599.95 2961V2924.03M1601.55 2961V2992.57M1609.55 2961V2977.85M1612.75 2961V2949.94M1617.87 2961V3004.08M1621.71 2961V2938.43M1623.63 2961V3000.56M1627.14 2961V3016.24M1629.06 2961V2935.23M1630.98 2961V2856.22M1636.74 2961V2917.32M1636.74 2961V2972.73M1641.54 2961V2935.55M1644.1 2961V2945.46M1645.06 2961V2977.21M1654.65 2961V2948.02M1655.93 2961V3034.15M1657.85 2961V2940.35M1666.81 2961V2936.51M1672.57 2961V2947.38M1673.85 2961V2975.93M1680.24 2961V3008.24M1687.92 2961V2935.87M1692.72 2961V2885.01M1697.52 2961V2951.86M1697.52 2961V3031.27M1703.91 2961V2983.29M1708.71 2961V2943.87M1712.23 2961V2987.13M1712.87 2961V2833.19M1722.15 2961V2938.11M1724.71 2961V2984.57M1725.99 2961V2944.18M1738.46 2961V2975.29M1741.02 2961V3106.12M1747.1 2961V2979.77M1747.74 2961V2945.46M1750.3 2961V2981.05M1755.1 2961V2938.43M1757.33 2961V2942.27M1760.85 2961V2943.87M1764.69 2961V2943.55M1771.73 2961V2975.93M1773.97 2961V2928.51M1777.49 2961V2979.13M1782.28 2961V2975.29M1786.44 2961V2949.3M1790.6 2961V3004.08M1799.24 2961V2948.34M1811.71 2961V3000.24M1815.87 2961V2977.85M1818.43 2961V2948.66M1826.11 2961V2979.13M1828.03 2961V2946.74M1831.87 2961V2982.97M1833.47 2961V2930.75M1837.94 2961V2942.91M1844.02 2961V2946.1M1845.94 2961V2977.85M1854.26 2961V2948.02M1878.89 2961V2934.27M1881.45 2961V2946.74M1888.16 2961V2981.05M1890.08 2961V2945.46M1890.4 2961V2979.13M1897.44 2961V2949.3M1897.44 2961V2985.53"/>
<text class="tick" transform="translate(226.1 3625.7) scale(1.01 1.035)" text-anchor="middle">0</text>
<text class="tick" transform="translate(393.5 3625.7) scale(1.01 1.035)" text-anchor="middle">0.5</text>
<text class="tick" transform="translate(560.9 3625.7) scale(1.01 1.035)" text-anchor="middle">1</text>
<text class="tick" transform="translate(728.3 3625.7) scale(1.01 1.035)" text-anchor="middle">1.5</text>
<text class="tick" transform="translate(895.7 3625.7) scale(1.01 1.035)" text-anchor="middle">2</text>
<text class="tick" transform="translate(1063.1 3625.7) scale(1.01 1.035)" text-anchor="middle">2.5</text>
<text class="tick" transform="translate(1230.5 3625.7) scale(1.01 1.035)" text-anchor="middle">3</text>
<text class="tick" transform="translate(1397.9 3625.7) scale(1.01 1.035)" text-anchor="middle">3.5</text>
<text class="tick" transform="translate(1565.3 3625.7) scale(1.01 1.035)" text-anchor="middle">4</text>
<text class="tick" transform="translate(1732.7 3625.7) scale(1.01 1.035)" text-anchor="middle">4.5</text>
<text class="tick" transform="translate(1900.1 3625.7) scale(1.01 1.035)" text-anchor="middle">5</text>
<text class="tick" transform="translate(208.6 3578.6) scale(1.01 1.035)" text-anchor="end">-500</text>
<text class="tick" transform="translate(208.6 3458.82) scale(1.01 1.035)" text-anchor="end">-400</text>
<text class="tick" transform="translate(208.6 3339.05) scale(1.01 1.035)" text-anchor="end">-300</text>
<text class="tick" transform="translate(208.6 3219.28) scale(1.01 1.035)" text-anchor="end">-200</text>
<text class="tick" transform="translate(208.6 3099.5) scale(1.01 1.035)" text-anchor="end">-100</text>
<text class="tick" transform="translate(208.6 2979.72) scale(1.01 1.035)" text-anchor="end">0</text>
<text class="tick" transform="translate(208.6 2859.95) scale(1.01 1.035)" text-anchor="end">100</text>
<text class="tick" transform="translate(208.6 2740.18) scale(1.01 1.035)" text-anchor="end">200</text>
<text class="tick" transform="translate(208.6 2620.4) scale(1.01 1.035)" text-anchor="end">300</text>
<text class="mul" x="1787.8" y="3707.7">×</text>
<text class="tick" transform="translate(1830.5 3704.5) scale(1 1.035)">10</text>
<text class="tick" x="1880.1" y="3680.7" style="font-size:41.5px">4</text>
<text class="lab" x="1061.1" y="3711.3" text-anchor="middle">Number of Iterations (<tspan font-style="italic">n</tspan>)</text>
<text class="lab" transform="translate(89.4 3081.4) rotate(-90)" text-anchor="middle">Amplitude</text>
<rect x="1538.7" y="2630.7" width="333.2" height="83.1" fill="#fff" stroke="#262626" stroke-width="1.9"/>
<path d="M1550.3 2672.1h112.6" stroke="#000" stroke-width="2" fill="none"/>
<text class="leg" transform="translate(1672.3 2695.8) scale(1.13 1)" font-style="italic">α</text>
<text class="leg" x="1727" y="2703" style="font-weight:bold;font-size:66px">=</text>
<text class="leg" transform="translate(1819.6 2695.8) scale(0.95 1.02)" text-anchor="middle" style="font-size:63.5px">1.6</text>
<text class="sub par" transform="translate(26.4 3825.5) scale(0.92 1)">(</text>
<text class="sub" x="53" y="3827">c</text>
<text class="sub par" transform="translate(89.7 3825.5) scale(0.92 1)">)</text>
</g>
</svg>
</body>
</html>
